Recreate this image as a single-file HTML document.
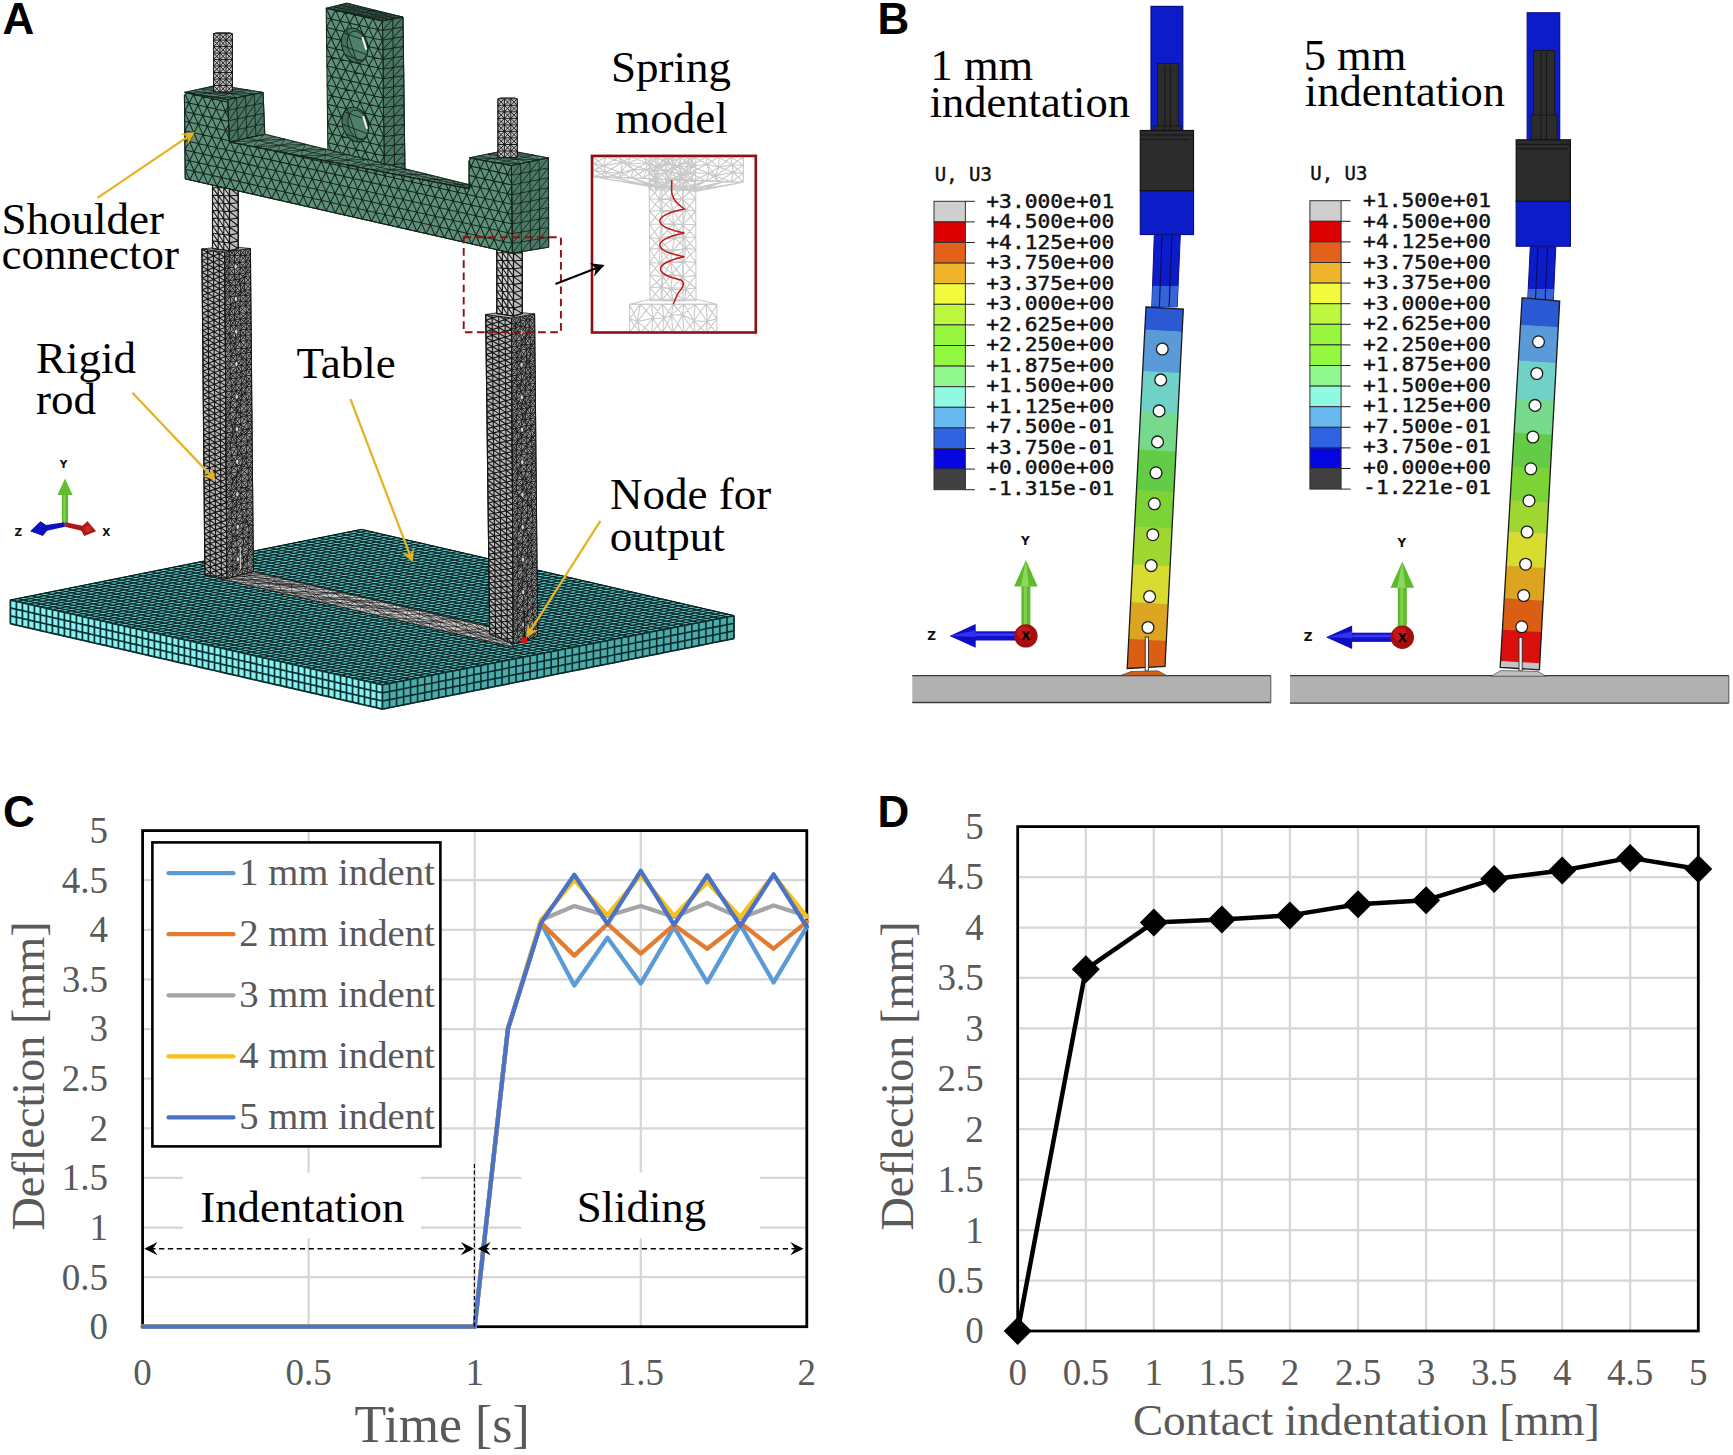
<!DOCTYPE html>
<html lang="en"><head><meta charset="utf-8"><title>Figure: FE model, deflection plots</title>
<style>
html,body{margin:0;padding:0;background:#fff}
body{width:1733px;height:1455px;overflow:hidden}
svg{display:block}
.serif{font-family:"Liberation Serif","Times New Roman",serif}
.sans{font-family:"Liberation Sans",Arial,sans-serif}
.bold{font-family:"Liberation Sans",Arial,sans-serif;font-weight:bold}
.mono{font-family:"DejaVu Sans Mono","Liberation Mono",monospace}
.dj{font-family:"DejaVu Sans","Liberation Sans",sans-serif}
</style></head><body>
<svg width="1733" height="1455" viewBox="0 0 1733 1455">
<rect width="1733" height="1455" fill="#fff"/>

<g id="panelA">
<polygon points="10.4,600 361.5,529.4 734,615.6 382.5,684.8" fill="#5cc4c4" stroke="#0b2a2a" stroke-width="1" />
<path d="M10.4 600L361.5 529.4M16.4 601.4L367.5 530.8M22.4 602.7L373.5 532.2M28.4 604.1L379.5 533.6M34.4 605.5L385.5 535M40.4 606.8L391.5 536.4M46.4 608.2L397.5 537.7M52.4 609.6L403.6 539.1M58.4 610.9L409.6 540.5M64.4 612.3L415.6 541.9M70.4 613.7L421.6 543.3M76.4 615L427.6 544.7M82.4 616.4L433.6 546.1M88.4 617.8L439.6 547.5M94.4 619.1L445.6 548.9M100.4 620.5L451.6 550.3M106.4 621.9L457.6 551.6M112.4 623.3L463.6 553M118.4 624.6L469.6 554.4M124.4 626L475.7 555.8M130.4 627.4L481.7 557.2M136.4 628.7L487.7 558.6M142.4 630.1L493.7 560M148.4 631.5L499.7 561.4M154.4 632.8L505.7 562.8M160.4 634.2L511.7 564.2M166.4 635.6L517.7 565.5M172.4 636.9L523.7 566.9M178.4 638.3L529.7 568.3M184.4 639.7L535.7 569.7M190.4 641L541.7 571.1M196.5 642.4L547.8 572.5M202.5 643.8L553.8 573.9M208.5 645.1L559.8 575.3M214.5 646.5L565.8 576.7M220.5 647.9L571.8 578.1M226.5 649.2L577.8 579.5M232.5 650.6L583.8 580.8M238.5 652L589.8 582.2M244.5 653.3L595.8 583.6M250.5 654.7L601.8 585M256.5 656.1L607.8 586.4M262.5 657.4L613.8 587.8M268.5 658.8L619.8 589.2M274.5 660.2L625.9 590.6M280.5 661.5L631.9 592M286.5 662.9L637.9 593.4M292.5 664.3L643.9 594.7M298.5 665.7L649.9 596.1M304.5 667L655.9 597.5M310.5 668.4L661.9 598.9M316.5 669.8L667.9 600.3M322.5 671.1L673.9 601.7M328.5 672.5L679.9 603.1M334.5 673.9L685.9 604.5M340.5 675.2L691.9 605.9M346.5 676.6L698 607.3M352.5 678L704 608.6M358.5 679.3L710 610M364.5 680.7L716 611.4M370.5 682.1L722 612.8M376.5 683.4L728 614.2M382.5 684.8L734 615.6M10.4 600L382.5 684.8M17.4 598.6L389.5 683.4M24.4 597.2L396.6 682M31.5 595.8L403.6 680.6M38.5 594.4L410.6 679.3M45.5 592.9L417.6 677.9M52.5 591.5L424.7 676.5M59.6 590.1L431.7 675.1M66.6 588.7L438.7 673.7M73.6 587.3L445.8 672.3M80.6 585.9L452.8 671M87.6 584.5L459.8 669.6M94.7 583.1L466.9 668.2M101.7 581.6L473.9 666.8M108.7 580.2L480.9 665.4M115.7 578.8L487.9 664M122.8 577.4L495 662.7M129.8 576L502 661.3M136.8 574.6L509 659.9M143.8 573.2L516.1 658.5M150.8 571.8L523.1 657.1M157.9 570.3L530.1 655.7M164.9 568.9L537.2 654.4M171.9 567.5L544.2 653M178.9 566.1L551.2 651.6M186 564.7L558.2 650.2M193 563.3L565.3 648.8M200 561.9L572.3 647.4M207 560.5L579.3 646M214 559.1L586.4 644.7M221.1 557.6L593.4 643.3M228.1 556.2L600.4 641.9M235.1 554.8L607.5 640.5M242.1 553.4L614.5 639.1M249.1 552L621.5 637.7M256.2 550.6L628.5 636.4M263.2 549.2L635.6 635M270.2 547.8L642.6 633.6M277.2 546.3L649.6 632.2M284.3 544.9L656.7 630.8M291.3 543.5L663.7 629.4M298.3 542.1L670.7 628.1M305.3 540.7L677.8 626.7M312.3 539.3L684.8 625.3M319.4 537.9L691.8 623.9M326.4 536.5L698.9 622.5M333.4 535L705.9 621.1M340.4 533.6L712.9 619.8M347.5 532.2L719.9 618.4M354.5 530.8L727 617M361.5 529.4L734 615.6" fill="none" stroke="#041a1a" stroke-width="1.0"/>
<polygon points="10.4,600 382.5,684.8 382.5,709.1 10.4,623.7" fill="#86f2f2" stroke="#0d2c2c" stroke-width="1" />
<path d="M10.4 600L10.4 607.9M10.4 607.9L10.4 615.8M10.4 615.8L10.4 623.7M16.4 601.4L16.4 609.3M16.4 609.3L16.4 617.2M16.4 617.2L16.4 625.1M22.4 602.7L22.4 610.6M22.4 610.6L22.4 618.5M22.4 618.5L22.4 626.5M28.4 604.1L28.4 612M28.4 612L28.4 619.9M28.4 619.9L28.4 627.8M34.4 605.5L34.4 613.4M34.4 613.4L34.4 621.3M34.4 621.3L34.4 629.2M40.4 606.8L40.4 614.8M40.4 614.8L40.4 622.7M40.4 622.7L40.4 630.6M46.4 608.2L46.4 616.1M46.4 616.1L46.4 624M46.4 624L46.4 632M52.4 609.6L52.4 617.5M52.4 617.5L52.4 625.4M52.4 625.4L52.4 633.3M58.4 610.9L58.4 618.9M58.4 618.9L58.4 626.8M58.4 626.8L58.4 634.7M64.4 612.3L64.4 620.2M64.4 620.2L64.4 628.2M64.4 628.2L64.4 636.1M70.4 613.7L70.4 621.6M70.4 621.6L70.4 629.5M70.4 629.5L70.4 637.5M76.4 615L76.4 623M76.4 623L76.4 630.9M76.4 630.9L76.4 638.9M82.4 616.4L82.4 624.4M82.4 624.4L82.4 632.3M82.4 632.3L82.4 640.2M88.4 617.8L88.4 625.7M88.4 625.7L88.4 633.7M88.4 633.7L88.4 641.6M94.4 619.1L94.4 627.1M94.4 627.1L94.4 635M94.4 635L94.4 643M100.4 620.5L100.4 628.5M100.4 628.5L100.4 636.4M100.4 636.4L100.4 644.4M106.4 621.9L106.4 629.8M106.4 629.8L106.4 637.8M106.4 637.8L106.4 645.7M112.4 623.3L112.4 631.2M112.4 631.2L112.4 639.2M112.4 639.2L112.4 647.1M118.4 624.6L118.4 632.6M118.4 632.6L118.4 640.5M118.4 640.5L118.4 648.5M124.4 626L124.4 633.9M124.4 633.9L124.4 641.9M124.4 641.9L124.4 649.9M130.4 627.4L130.4 635.3M130.4 635.3L130.4 643.3M130.4 643.3L130.4 651.2M136.4 628.7L136.4 636.7M136.4 636.7L136.4 644.7M136.4 644.7L136.4 652.6M142.4 630.1L142.4 638.1M142.4 638.1L142.4 646M142.4 646L142.4 654M148.4 631.5L148.4 639.4M148.4 639.4L148.4 647.4M148.4 647.4L148.4 655.4M154.4 632.8L154.4 640.8M154.4 640.8L154.4 648.8M154.4 648.8L154.4 656.8M160.4 634.2L160.4 642.2M160.4 642.2L160.4 650.2M160.4 650.2L160.4 658.1M166.4 635.6L166.4 643.5M166.4 643.5L166.4 651.5M166.4 651.5L166.4 659.5M172.4 636.9L172.4 644.9M172.4 644.9L172.4 652.9M172.4 652.9L172.4 660.9M178.4 638.3L178.4 646.3M178.4 646.3L178.4 654.3M178.4 654.3L178.4 662.3M184.4 639.7L184.4 647.7M184.4 647.7L184.4 655.7M184.4 655.7L184.4 663.6M190.4 641L190.4 649M190.4 649L190.4 657M190.4 657L190.4 665M196.5 642.4L196.5 650.4M196.5 650.4L196.5 658.4M196.5 658.4L196.5 666.4M202.5 643.8L202.5 651.8M202.5 651.8L202.5 659.8M202.5 659.8L202.5 667.8M208.5 645.1L208.5 653.1M208.5 653.1L208.5 661.1M208.5 661.1L208.5 669.2M214.5 646.5L214.5 654.5M214.5 654.5L214.5 662.5M214.5 662.5L214.5 670.5M220.5 647.9L220.5 655.9M220.5 655.9L220.5 663.9M220.5 663.9L220.5 671.9M226.5 649.2L226.5 657.3M226.5 657.3L226.5 665.3M226.5 665.3L226.5 673.3M232.5 650.6L232.5 658.6M232.5 658.6L232.5 666.6M232.5 666.6L232.5 674.7M238.5 652L238.5 660M238.5 660L238.5 668M238.5 668L238.5 676M244.5 653.3L244.5 661.4M244.5 661.4L244.5 669.4M244.5 669.4L244.5 677.4M250.5 654.7L250.5 662.7M250.5 662.7L250.5 670.8M250.5 670.8L250.5 678.8M256.5 656.1L256.5 664.1M256.5 664.1L256.5 672.1M256.5 672.1L256.5 680.2M262.5 657.4L262.5 665.5M262.5 665.5L262.5 673.5M262.5 673.5L262.5 681.6M268.5 658.8L268.5 666.9M268.5 666.9L268.5 674.9M268.5 674.9L268.5 682.9M274.5 660.2L274.5 668.2M274.5 668.2L274.5 676.3M274.5 676.3L274.5 684.3M280.5 661.5L280.5 669.6M280.5 669.6L280.5 677.6M280.5 677.6L280.5 685.7M286.5 662.9L286.5 671M286.5 671L286.5 679M286.5 679L286.5 687.1M292.5 664.3L292.5 672.3M292.5 672.3L292.5 680.4M292.5 680.4L292.5 688.4M298.5 665.7L298.5 673.7M298.5 673.7L298.5 681.8M298.5 681.8L298.5 689.8M304.5 667L304.5 675.1M304.5 675.1L304.5 683.1M304.5 683.1L304.5 691.2M310.5 668.4L310.5 676.4M310.5 676.4L310.5 684.5M310.5 684.5L310.5 692.6M316.5 669.8L316.5 677.8M316.5 677.8L316.5 685.9M316.5 685.9L316.5 693.9M322.5 671.1L322.5 679.2M322.5 679.2L322.5 687.3M322.5 687.3L322.5 695.3M328.5 672.5L328.5 680.6M328.5 680.6L328.5 688.6M328.5 688.6L328.5 696.7M334.5 673.9L334.5 681.9M334.5 681.9L334.5 690M334.5 690L334.5 698.1M340.5 675.2L340.5 683.3M340.5 683.3L340.5 691.4M340.5 691.4L340.5 699.5M346.5 676.6L346.5 684.7M346.5 684.7L346.5 692.8M346.5 692.8L346.5 700.8M352.5 678L352.5 686M352.5 686L352.5 694.1M352.5 694.1L352.5 702.2M358.5 679.3L358.5 687.4M358.5 687.4L358.5 695.5M358.5 695.5L358.5 703.6M364.5 680.7L364.5 688.8M364.5 688.8L364.5 696.9M364.5 696.9L364.5 705M370.5 682.1L370.5 690.2M370.5 690.2L370.5 698.3M370.5 698.3L370.5 706.3M376.5 683.4L376.5 691.5M376.5 691.5L376.5 699.6M376.5 699.6L376.5 707.7M382.5 684.8L382.5 692.9M382.5 692.9L382.5 701M382.5 701L382.5 709.1M10.4 600L16.4 601.4M16.4 601.4L22.4 602.7M22.4 602.7L28.4 604.1M28.4 604.1L34.4 605.5M34.4 605.5L40.4 606.8M40.4 606.8L46.4 608.2M46.4 608.2L52.4 609.6M52.4 609.6L58.4 610.9M58.4 610.9L64.4 612.3M64.4 612.3L70.4 613.7M70.4 613.7L76.4 615M76.4 615L82.4 616.4M82.4 616.4L88.4 617.8M88.4 617.8L94.4 619.1M94.4 619.1L100.4 620.5M100.4 620.5L106.4 621.9M106.4 621.9L112.4 623.3M112.4 623.3L118.4 624.6M118.4 624.6L124.4 626M124.4 626L130.4 627.4M130.4 627.4L136.4 628.7M136.4 628.7L142.4 630.1M142.4 630.1L148.4 631.5M148.4 631.5L154.4 632.8M154.4 632.8L160.4 634.2M160.4 634.2L166.4 635.6M166.4 635.6L172.4 636.9M172.4 636.9L178.4 638.3M178.4 638.3L184.4 639.7M184.4 639.7L190.4 641M190.4 641L196.5 642.4M196.5 642.4L202.5 643.8M202.5 643.8L208.5 645.1M208.5 645.1L214.5 646.5M214.5 646.5L220.5 647.9M220.5 647.9L226.5 649.2M226.5 649.2L232.5 650.6M232.5 650.6L238.5 652M238.5 652L244.5 653.3M244.5 653.3L250.5 654.7M250.5 654.7L256.5 656.1M256.5 656.1L262.5 657.4M262.5 657.4L268.5 658.8M268.5 658.8L274.5 660.2M274.5 660.2L280.5 661.5M280.5 661.5L286.5 662.9M286.5 662.9L292.5 664.3M292.5 664.3L298.5 665.7M298.5 665.7L304.5 667M304.5 667L310.5 668.4M310.5 668.4L316.5 669.8M316.5 669.8L322.5 671.1M322.5 671.1L328.5 672.5M328.5 672.5L334.5 673.9M334.5 673.9L340.5 675.2M340.5 675.2L346.5 676.6M346.5 676.6L352.5 678M352.5 678L358.5 679.3M358.5 679.3L364.5 680.7M364.5 680.7L370.5 682.1M370.5 682.1L376.5 683.4M376.5 683.4L382.5 684.8M10.4 607.9L16.4 609.3M16.4 609.3L22.4 610.6M22.4 610.6L28.4 612M28.4 612L34.4 613.4M34.4 613.4L40.4 614.8M40.4 614.8L46.4 616.1M46.4 616.1L52.4 617.5M52.4 617.5L58.4 618.9M58.4 618.9L64.4 620.2M64.4 620.2L70.4 621.6M70.4 621.6L76.4 623M76.4 623L82.4 624.4M82.4 624.4L88.4 625.7M88.4 625.7L94.4 627.1M94.4 627.1L100.4 628.5M100.4 628.5L106.4 629.8M106.4 629.8L112.4 631.2M112.4 631.2L118.4 632.6M118.4 632.6L124.4 633.9M124.4 633.9L130.4 635.3M130.4 635.3L136.4 636.7M136.4 636.7L142.4 638.1M142.4 638.1L148.4 639.4M148.4 639.4L154.4 640.8M154.4 640.8L160.4 642.2M160.4 642.2L166.4 643.5M166.4 643.5L172.4 644.9M172.4 644.9L178.4 646.3M178.4 646.3L184.4 647.7M184.4 647.7L190.4 649M190.4 649L196.5 650.4M196.5 650.4L202.5 651.8M202.5 651.8L208.5 653.1M208.5 653.1L214.5 654.5M214.5 654.5L220.5 655.9M220.5 655.9L226.5 657.3M226.5 657.3L232.5 658.6M232.5 658.6L238.5 660M238.5 660L244.5 661.4M244.5 661.4L250.5 662.7M250.5 662.7L256.5 664.1M256.5 664.1L262.5 665.5M262.5 665.5L268.5 666.9M268.5 666.9L274.5 668.2M274.5 668.2L280.5 669.6M280.5 669.6L286.5 671M286.5 671L292.5 672.3M292.5 672.3L298.5 673.7M298.5 673.7L304.5 675.1M304.5 675.1L310.5 676.4M310.5 676.4L316.5 677.8M316.5 677.8L322.5 679.2M322.5 679.2L328.5 680.6M328.5 680.6L334.5 681.9M334.5 681.9L340.5 683.3M340.5 683.3L346.5 684.7M346.5 684.7L352.5 686M352.5 686L358.5 687.4M358.5 687.4L364.5 688.8M364.5 688.8L370.5 690.2M370.5 690.2L376.5 691.5M376.5 691.5L382.5 692.9M10.4 615.8L16.4 617.2M16.4 617.2L22.4 618.5M22.4 618.5L28.4 619.9M28.4 619.9L34.4 621.3M34.4 621.3L40.4 622.7M40.4 622.7L46.4 624M46.4 624L52.4 625.4M52.4 625.4L58.4 626.8M58.4 626.8L64.4 628.2M64.4 628.2L70.4 629.5M70.4 629.5L76.4 630.9M76.4 630.9L82.4 632.3M82.4 632.3L88.4 633.7M88.4 633.7L94.4 635M94.4 635L100.4 636.4M100.4 636.4L106.4 637.8M106.4 637.8L112.4 639.2M112.4 639.2L118.4 640.5M118.4 640.5L124.4 641.9M124.4 641.9L130.4 643.3M130.4 643.3L136.4 644.7M136.4 644.7L142.4 646M142.4 646L148.4 647.4M148.4 647.4L154.4 648.8M154.4 648.8L160.4 650.2M160.4 650.2L166.4 651.5M166.4 651.5L172.4 652.9M172.4 652.9L178.4 654.3M178.4 654.3L184.4 655.7M184.4 655.7L190.4 657M190.4 657L196.5 658.4M196.5 658.4L202.5 659.8M202.5 659.8L208.5 661.1M208.5 661.1L214.5 662.5M214.5 662.5L220.5 663.9M220.5 663.9L226.5 665.3M226.5 665.3L232.5 666.6M232.5 666.6L238.5 668M238.5 668L244.5 669.4M244.5 669.4L250.5 670.8M250.5 670.8L256.5 672.1M256.5 672.1L262.5 673.5M262.5 673.5L268.5 674.9M268.5 674.9L274.5 676.3M274.5 676.3L280.5 677.6M280.5 677.6L286.5 679M286.5 679L292.5 680.4M292.5 680.4L298.5 681.8M298.5 681.8L304.5 683.1M304.5 683.1L310.5 684.5M310.5 684.5L316.5 685.9M316.5 685.9L322.5 687.3M322.5 687.3L328.5 688.6M328.5 688.6L334.5 690M334.5 690L340.5 691.4M340.5 691.4L346.5 692.8M346.5 692.8L352.5 694.1M352.5 694.1L358.5 695.5M358.5 695.5L364.5 696.9M364.5 696.9L370.5 698.3M370.5 698.3L376.5 699.6M376.5 699.6L382.5 701M10.4 623.7L16.4 625.1M16.4 625.1L22.4 626.5M22.4 626.5L28.4 627.8M28.4 627.8L34.4 629.2M34.4 629.2L40.4 630.6M40.4 630.6L46.4 632M46.4 632L52.4 633.3M52.4 633.3L58.4 634.7M58.4 634.7L64.4 636.1M64.4 636.1L70.4 637.5M70.4 637.5L76.4 638.9M76.4 638.9L82.4 640.2M82.4 640.2L88.4 641.6M88.4 641.6L94.4 643M94.4 643L100.4 644.4M100.4 644.4L106.4 645.7M106.4 645.7L112.4 647.1M112.4 647.1L118.4 648.5M118.4 648.5L124.4 649.9M124.4 649.9L130.4 651.2M130.4 651.2L136.4 652.6M136.4 652.6L142.4 654M142.4 654L148.4 655.4M148.4 655.4L154.4 656.8M154.4 656.8L160.4 658.1M160.4 658.1L166.4 659.5M166.4 659.5L172.4 660.9M172.4 660.9L178.4 662.3M178.4 662.3L184.4 663.6M184.4 663.6L190.4 665M190.4 665L196.5 666.4M196.5 666.4L202.5 667.8M202.5 667.8L208.5 669.2M208.5 669.2L214.5 670.5M214.5 670.5L220.5 671.9M220.5 671.9L226.5 673.3M226.5 673.3L232.5 674.7M232.5 674.7L238.5 676M238.5 676L244.5 677.4M244.5 677.4L250.5 678.8M250.5 678.8L256.5 680.2M256.5 680.2L262.5 681.6M262.5 681.6L268.5 682.9M268.5 682.9L274.5 684.3M274.5 684.3L280.5 685.7M280.5 685.7L286.5 687.1M286.5 687.1L292.5 688.4M292.5 688.4L298.5 689.8M298.5 689.8L304.5 691.2M304.5 691.2L310.5 692.6M310.5 692.6L316.5 693.9M316.5 693.9L322.5 695.3M322.5 695.3L328.5 696.7M328.5 696.7L334.5 698.1M334.5 698.1L340.5 699.5M340.5 699.5L346.5 700.8M346.5 700.8L352.5 702.2M352.5 702.2L358.5 703.6M358.5 703.6L364.5 705M364.5 705L370.5 706.3M370.5 706.3L376.5 707.7M376.5 707.7L382.5 709.1" fill="none" stroke="#0e3030" stroke-width="1.75"/>
<polygon points="382.5,684.8 734,615.6 734,638.6 382.5,709.1" fill="#4babab" stroke="#0d2c2c" stroke-width="1" />
<path d="M382.5 684.8L382.5 692.9M382.5 692.9L382.5 701M382.5 701L382.5 709.1M389.5 683.4L389.5 691.5M389.5 691.5L389.5 699.6M389.5 699.6L389.5 707.7M396.6 682L396.6 690.1M396.6 690.1L396.6 698.2M396.6 698.2L396.6 706.3M403.6 680.6L403.6 688.7M403.6 688.7L403.6 696.8M403.6 696.8L403.6 704.9M410.6 679.3L410.6 687.3M410.6 687.3L410.6 695.4M410.6 695.4L410.6 703.5M417.6 677.9L417.6 685.9M417.6 685.9L417.6 694M417.6 694L417.6 702M424.7 676.5L424.7 684.5M424.7 684.5L424.7 692.6M424.7 692.6L424.7 700.6M431.7 675.1L431.7 683.2M431.7 683.2L431.7 691.2M431.7 691.2L431.7 699.2M438.7 673.7L438.7 681.8M438.7 681.8L438.7 689.8M438.7 689.8L438.7 697.8M445.8 672.3L445.8 680.4M445.8 680.4L445.8 688.4M445.8 688.4L445.8 696.4M452.8 671L452.8 679M452.8 679L452.8 687M452.8 687L452.8 695M459.8 669.6L459.8 677.6M459.8 677.6L459.8 685.6M459.8 685.6L459.8 693.6M466.9 668.2L466.9 676.2M466.9 676.2L466.9 684.2M466.9 684.2L466.9 692.2M473.9 666.8L473.9 674.8M473.9 674.8L473.9 682.8M473.9 682.8L473.9 690.8M480.9 665.4L480.9 673.4M480.9 673.4L480.9 681.4M480.9 681.4L480.9 689.4M487.9 664L487.9 672M487.9 672L487.9 680M487.9 680L487.9 687.9M495 662.7L495 670.6M495 670.6L495 678.6M495 678.6L495 686.5M502 661.3L502 669.2M502 669.2L502 677.2M502 677.2L502 685.1M509 659.9L509 667.8M509 667.8L509 675.8M509 675.8L509 683.7M516.1 658.5L516.1 666.4M516.1 666.4L516.1 674.4M516.1 674.4L516.1 682.3M523.1 657.1L523.1 665M523.1 665L523.1 673M523.1 673L523.1 680.9M530.1 655.7L530.1 663.7M530.1 663.7L530.1 671.6M530.1 671.6L530.1 679.5M537.2 654.4L537.2 662.3M537.2 662.3L537.2 670.2M537.2 670.2L537.2 678.1M544.2 653L544.2 660.9M544.2 660.9L544.2 668.8M544.2 668.8L544.2 676.7M551.2 651.6L551.2 659.5M551.2 659.5L551.2 667.4M551.2 667.4L551.2 675.3M558.2 650.2L558.2 658.1M558.2 658.1L558.2 666M558.2 666L558.2 673.8M565.3 648.8L565.3 656.7M565.3 656.7L565.3 664.6M565.3 664.6L565.3 672.4M572.3 647.4L572.3 655.3M572.3 655.3L572.3 663.2M572.3 663.2L572.3 671M579.3 646L579.3 653.9M579.3 653.9L579.3 661.8M579.3 661.8L579.3 669.6M586.4 644.7L586.4 652.5M586.4 652.5L586.4 660.4M586.4 660.4L586.4 668.2M593.4 643.3L593.4 651.1M593.4 651.1L593.4 659M593.4 659L593.4 666.8M600.4 641.9L600.4 649.7M600.4 649.7L600.4 657.6M600.4 657.6L600.4 665.4M607.5 640.5L607.5 648.3M607.5 648.3L607.5 656.2M607.5 656.2L607.5 664M614.5 639.1L614.5 646.9M614.5 646.9L614.5 654.8M614.5 654.8L614.5 662.6M621.5 637.7L621.5 645.5M621.5 645.5L621.5 653.4M621.5 653.4L621.5 661.2M628.5 636.4L628.5 644.2M628.5 644.2L628.5 652M628.5 652L628.5 659.8M635.6 635L635.6 642.8M635.6 642.8L635.6 650.6M635.6 650.6L635.6 658.3M642.6 633.6L642.6 641.4M642.6 641.4L642.6 649.2M642.6 649.2L642.6 656.9M649.6 632.2L649.6 640M649.6 640L649.6 647.7M649.6 647.7L649.6 655.5M656.7 630.8L656.7 638.6M656.7 638.6L656.7 646.3M656.7 646.3L656.7 654.1M663.7 629.4L663.7 637.2M663.7 637.2L663.7 644.9M663.7 644.9L663.7 652.7M670.7 628.1L670.7 635.8M670.7 635.8L670.7 643.5M670.7 643.5L670.7 651.3M677.8 626.7L677.8 634.4M677.8 634.4L677.8 642.1M677.8 642.1L677.8 649.9M684.8 625.3L684.8 633M684.8 633L684.8 640.7M684.8 640.7L684.8 648.5M691.8 623.9L691.8 631.6M691.8 631.6L691.8 639.3M691.8 639.3L691.8 647.1M698.9 622.5L698.9 630.2M698.9 630.2L698.9 637.9M698.9 637.9L698.9 645.6M705.9 621.1L705.9 628.8M705.9 628.8L705.9 636.5M705.9 636.5L705.9 644.2M712.9 619.8L712.9 627.4M712.9 627.4L712.9 635.1M712.9 635.1L712.9 642.8M719.9 618.4L719.9 626.1M719.9 626.1L719.9 633.7M719.9 633.7L719.9 641.4M727 617L727 624.7M727 624.7L727 632.3M727 632.3L727 640M734 615.6L734 623.3M734 623.3L734 630.9M734 630.9L734 638.6M382.5 684.8L389.5 683.4M389.5 683.4L396.6 682M396.6 682L403.6 680.6M403.6 680.6L410.6 679.3M410.6 679.3L417.6 677.9M417.6 677.9L424.7 676.5M424.7 676.5L431.7 675.1M431.7 675.1L438.7 673.7M438.7 673.7L445.8 672.3M445.8 672.3L452.8 671M452.8 671L459.8 669.6M459.8 669.6L466.9 668.2M466.9 668.2L473.9 666.8M473.9 666.8L480.9 665.4M480.9 665.4L487.9 664M487.9 664L495 662.7M495 662.7L502 661.3M502 661.3L509 659.9M509 659.9L516.1 658.5M516.1 658.5L523.1 657.1M523.1 657.1L530.1 655.7M530.1 655.7L537.2 654.4M537.2 654.4L544.2 653M544.2 653L551.2 651.6M551.2 651.6L558.2 650.2M558.2 650.2L565.3 648.8M565.3 648.8L572.3 647.4M572.3 647.4L579.3 646M579.3 646L586.4 644.7M586.4 644.7L593.4 643.3M593.4 643.3L600.4 641.9M600.4 641.9L607.5 640.5M607.5 640.5L614.5 639.1M614.5 639.1L621.5 637.7M621.5 637.7L628.5 636.4M628.5 636.4L635.6 635M635.6 635L642.6 633.6M642.6 633.6L649.6 632.2M649.6 632.2L656.7 630.8M656.7 630.8L663.7 629.4M663.7 629.4L670.7 628.1M670.7 628.1L677.8 626.7M677.8 626.7L684.8 625.3M684.8 625.3L691.8 623.9M691.8 623.9L698.9 622.5M698.9 622.5L705.9 621.1M705.9 621.1L712.9 619.8M712.9 619.8L719.9 618.4M719.9 618.4L727 617M727 617L734 615.6M382.5 692.9L389.5 691.5M389.5 691.5L396.6 690.1M396.6 690.1L403.6 688.7M403.6 688.7L410.6 687.3M410.6 687.3L417.6 685.9M417.6 685.9L424.7 684.5M424.7 684.5L431.7 683.2M431.7 683.2L438.7 681.8M438.7 681.8L445.8 680.4M445.8 680.4L452.8 679M452.8 679L459.8 677.6M459.8 677.6L466.9 676.2M466.9 676.2L473.9 674.8M473.9 674.8L480.9 673.4M480.9 673.4L487.9 672M487.9 672L495 670.6M495 670.6L502 669.2M502 669.2L509 667.8M509 667.8L516.1 666.4M516.1 666.4L523.1 665M523.1 665L530.1 663.7M530.1 663.7L537.2 662.3M537.2 662.3L544.2 660.9M544.2 660.9L551.2 659.5M551.2 659.5L558.2 658.1M558.2 658.1L565.3 656.7M565.3 656.7L572.3 655.3M572.3 655.3L579.3 653.9M579.3 653.9L586.4 652.5M586.4 652.5L593.4 651.1M593.4 651.1L600.4 649.7M600.4 649.7L607.5 648.3M607.5 648.3L614.5 646.9M614.5 646.9L621.5 645.5M621.5 645.5L628.5 644.2M628.5 644.2L635.6 642.8M635.6 642.8L642.6 641.4M642.6 641.4L649.6 640M649.6 640L656.7 638.6M656.7 638.6L663.7 637.2M663.7 637.2L670.7 635.8M670.7 635.8L677.8 634.4M677.8 634.4L684.8 633M684.8 633L691.8 631.6M691.8 631.6L698.9 630.2M698.9 630.2L705.9 628.8M705.9 628.8L712.9 627.4M712.9 627.4L719.9 626.1M719.9 626.1L727 624.7M727 624.7L734 623.3M382.5 701L389.5 699.6M389.5 699.6L396.6 698.2M396.6 698.2L403.6 696.8M403.6 696.8L410.6 695.4M410.6 695.4L417.6 694M417.6 694L424.7 692.6M424.7 692.6L431.7 691.2M431.7 691.2L438.7 689.8M438.7 689.8L445.8 688.4M445.8 688.4L452.8 687M452.8 687L459.8 685.6M459.8 685.6L466.9 684.2M466.9 684.2L473.9 682.8M473.9 682.8L480.9 681.4M480.9 681.4L487.9 680M487.9 680L495 678.6M495 678.6L502 677.2M502 677.2L509 675.8M509 675.8L516.1 674.4M516.1 674.4L523.1 673M523.1 673L530.1 671.6M530.1 671.6L537.2 670.2M537.2 670.2L544.2 668.8M544.2 668.8L551.2 667.4M551.2 667.4L558.2 666M558.2 666L565.3 664.6M565.3 664.6L572.3 663.2M572.3 663.2L579.3 661.8M579.3 661.8L586.4 660.4M586.4 660.4L593.4 659M593.4 659L600.4 657.6M600.4 657.6L607.5 656.2M607.5 656.2L614.5 654.8M614.5 654.8L621.5 653.4M621.5 653.4L628.5 652M628.5 652L635.6 650.6M635.6 650.6L642.6 649.2M642.6 649.2L649.6 647.7M649.6 647.7L656.7 646.3M656.7 646.3L663.7 644.9M663.7 644.9L670.7 643.5M670.7 643.5L677.8 642.1M677.8 642.1L684.8 640.7M684.8 640.7L691.8 639.3M691.8 639.3L698.9 637.9M698.9 637.9L705.9 636.5M705.9 636.5L712.9 635.1M712.9 635.1L719.9 633.7M719.9 633.7L727 632.3M727 632.3L734 630.9M382.5 709.1L389.5 707.7M389.5 707.7L396.6 706.3M396.6 706.3L403.6 704.9M403.6 704.9L410.6 703.5M410.6 703.5L417.6 702M417.6 702L424.7 700.6M424.7 700.6L431.7 699.2M431.7 699.2L438.7 697.8M438.7 697.8L445.8 696.4M445.8 696.4L452.8 695M452.8 695L459.8 693.6M459.8 693.6L466.9 692.2M466.9 692.2L473.9 690.8M473.9 690.8L480.9 689.4M480.9 689.4L487.9 687.9M487.9 687.9L495 686.5M495 686.5L502 685.1M502 685.1L509 683.7M509 683.7L516.1 682.3M516.1 682.3L523.1 680.9M523.1 680.9L530.1 679.5M530.1 679.5L537.2 678.1M537.2 678.1L544.2 676.7M544.2 676.7L551.2 675.3M551.2 675.3L558.2 673.8M558.2 673.8L565.3 672.4M565.3 672.4L572.3 671M572.3 671L579.3 669.6M579.3 669.6L586.4 668.2M586.4 668.2L593.4 666.8M593.4 666.8L600.4 665.4M600.4 665.4L607.5 664M607.5 664L614.5 662.6M614.5 662.6L621.5 661.2M621.5 661.2L628.5 659.8M628.5 659.8L635.6 658.3M635.6 658.3L642.6 656.9M642.6 656.9L649.6 655.5M649.6 655.5L656.7 654.1M656.7 654.1L663.7 652.7M663.7 652.7L670.7 651.3M670.7 651.3L677.8 649.9M677.8 649.9L684.8 648.5M684.8 648.5L691.8 647.1M691.8 647.1L698.9 645.6M698.9 645.6L705.9 644.2M705.9 644.2L712.9 642.8M712.9 642.8L719.9 641.4M719.9 641.4L727 640M727 640L734 638.6" fill="none" stroke="#0d2b2b" stroke-width="1.6"/>
<polygon points="205.4,575.4 253.4,571.7 497,628.5 514,647.4" fill="#cfcfcf" stroke="#2a2a2a" stroke-width="0.8" />
<path d="M205.4 575.4L219.4 578.7M219.4 578.7L233.5 581.9M233.5 581.9L247.5 585.2M247.5 585.2L261.5 588.5M261.5 588.5L275.5 591.8M275.5 591.8L289.6 595M289.6 595L303.6 598.3M303.6 598.3L317.6 601.6M317.6 601.6L331.6 604.8M331.6 604.8L345.7 608.1M345.7 608.1L359.7 611.4M359.7 611.4L373.7 614.7M373.7 614.7L387.8 617.9M387.8 617.9L401.8 621.2M401.8 621.2L415.8 624.5M415.8 624.5L429.8 627.7M429.8 627.7L443.9 631M443.9 631L457.9 634.3M457.9 634.3L471.9 637.6M471.9 637.6L485.9 640.8M485.9 640.8L500 644.1M500 644.1L514 647.4M217.4 574.5L226.7 577M226.7 577L241.5 579.8M241.5 579.8L256.4 583.5M256.4 583.5L268.2 587.3M268.2 587.3L281 590.3M281 590.3L291.9 592.8M291.9 592.8L312.7 596.9M312.7 596.9L320.1 599.3M320.1 599.3L341 603M341 603L349.7 605.2M349.7 605.2L361.1 606.9M361.1 606.9L375.9 610.6M375.9 610.6L386.6 614.7M386.6 614.7L405.8 618.8M405.8 618.8L417.2 621.8M417.2 621.8L429 623.5M429 623.5L439.8 626.2M439.8 626.2L454.6 630.8M454.6 630.8L469.1 632.8M469.1 632.8L484.2 637.1M484.2 637.1L495 639.3M495 639.3L509.8 642.7M229.4 573.5L245.4 576.6M245.4 576.6L253.4 579.7M253.4 579.7L270 583M270 583L279.3 584.7M279.3 584.7L291.7 587M291.7 587L306.3 591.7M306.3 591.7L315.7 594.5M315.7 594.5L329.4 597.9M329.4 597.9L343.7 599.6M343.7 599.6L354.6 601.9M354.6 601.9L368.6 605.6M368.6 605.6L379.8 608.4M379.8 608.4L396.3 611.7M396.3 611.7L406.3 614.9M406.3 614.9L418.9 618.7M418.9 618.7L433.9 620.9M433.9 620.9L441 622.2M441 622.2L456.7 626.8M456.7 626.8L468.1 630.3M468.1 630.3L478 632.3M478 632.3L495.9 636.7M495.9 636.7L505.5 637.9M241.4 572.6L248.9 575.2M248.9 575.2L267 578.8M267 578.8L274 581.2M274 581.2L291.6 584.2M291.6 584.2L304.6 586.6M304.6 586.6L310.7 589.3M310.7 589.3L326.2 592.7M326.2 592.7L335.1 593.5M335.1 593.5L344.7 597.4M344.7 597.4L358.7 600.6M358.7 600.6L369.9 602.4M369.9 602.4L381.6 606.4M381.6 606.4L395.2 608.8M395.2 608.8L408.5 610.6M408.5 610.6L419.4 614.1M419.4 614.1L427.3 615.6M427.3 615.6L444 619M444 619L455.8 621.8M455.8 621.8L465.2 625.1M465.2 625.1L479.3 629M479.3 629L487.2 630.9M487.2 630.9L501.2 633.2M253.4 571.7L264.5 574.3M264.5 574.3L275.5 576.9M275.5 576.9L286.6 579.4M286.6 579.4L297.7 582M297.7 582L308.8 584.6M308.8 584.6L319.8 587.2M319.8 587.2L330.9 589.8M330.9 589.8L342 592.4M342 592.4L353.1 594.9M353.1 594.9L364.1 597.5M364.1 597.5L375.2 600.1M375.2 600.1L386.3 602.7M386.3 602.7L397.3 605.3M397.3 605.3L408.4 607.9M408.4 607.9L419.5 610.4M419.5 610.4L430.6 613M430.6 613L441.6 615.6M441.6 615.6L452.7 618.2M452.7 618.2L463.8 620.8M463.8 620.8L474.9 623.3M474.9 623.3L485.9 625.9M485.9 625.9L497 628.5M205.4 575.4L217.4 574.5M217.4 574.5L229.4 573.5M229.4 573.5L241.4 572.6M241.4 572.6L253.4 571.7M219.4 578.7L226.7 577M226.7 577L245.4 576.6M245.4 576.6L248.9 575.2M248.9 575.2L264.5 574.3M233.5 581.9L241.5 579.8M241.5 579.8L253.4 579.7M253.4 579.7L267 578.8M267 578.8L275.5 576.9M247.5 585.2L256.4 583.5M256.4 583.5L270 583M270 583L274 581.2M274 581.2L286.6 579.4M261.5 588.5L268.2 587.3M268.2 587.3L279.3 584.7M279.3 584.7L291.6 584.2M291.6 584.2L297.7 582M275.5 591.8L281 590.3M281 590.3L291.7 587M291.7 587L304.6 586.6M304.6 586.6L308.8 584.6M289.6 595L291.9 592.8M291.9 592.8L306.3 591.7M306.3 591.7L310.7 589.3M310.7 589.3L319.8 587.2M303.6 598.3L312.7 596.9M312.7 596.9L315.7 594.5M315.7 594.5L326.2 592.7M326.2 592.7L330.9 589.8M317.6 601.6L320.1 599.3M320.1 599.3L329.4 597.9M329.4 597.9L335.1 593.5M335.1 593.5L342 592.4M331.6 604.8L341 603M341 603L343.7 599.6M343.7 599.6L344.7 597.4M344.7 597.4L353.1 594.9M345.7 608.1L349.7 605.2M349.7 605.2L354.6 601.9M354.6 601.9L358.7 600.6M358.7 600.6L364.1 597.5M359.7 611.4L361.1 606.9M361.1 606.9L368.6 605.6M368.6 605.6L369.9 602.4M369.9 602.4L375.2 600.1M373.7 614.7L375.9 610.6M375.9 610.6L379.8 608.4M379.8 608.4L381.6 606.4M381.6 606.4L386.3 602.7M387.8 617.9L386.6 614.7M386.6 614.7L396.3 611.7M396.3 611.7L395.2 608.8M395.2 608.8L397.3 605.3M401.8 621.2L405.8 618.8M405.8 618.8L406.3 614.9M406.3 614.9L408.5 610.6M408.5 610.6L408.4 607.9M415.8 624.5L417.2 621.8M417.2 621.8L418.9 618.7M418.9 618.7L419.4 614.1M419.4 614.1L419.5 610.4M429.8 627.7L429 623.5M429 623.5L433.9 620.9M433.9 620.9L427.3 615.6M427.3 615.6L430.6 613M443.9 631L439.8 626.2M439.8 626.2L441 622.2M441 622.2L444 619M444 619L441.6 615.6M457.9 634.3L454.6 630.8M454.6 630.8L456.7 626.8M456.7 626.8L455.8 621.8M455.8 621.8L452.7 618.2M471.9 637.6L469.1 632.8M469.1 632.8L468.1 630.3M468.1 630.3L465.2 625.1M465.2 625.1L463.8 620.8M485.9 640.8L484.2 637.1M484.2 637.1L478 632.3M478 632.3L479.3 629M479.3 629L474.9 623.3M500 644.1L495 639.3M495 639.3L495.9 636.7M495.9 636.7L487.2 630.9M487.2 630.9L485.9 625.9M514 647.4L509.8 642.7M509.8 642.7L505.5 637.9M505.5 637.9L501.2 633.2M501.2 633.2L497 628.5M205.4 575.4L226.7 577M217.4 574.5L219.4 578.7M219.4 578.7L241.5 579.8M226.7 577L233.5 581.9M233.5 581.9L256.4 583.5M241.5 579.8L247.5 585.2M247.5 585.2L268.2 587.3M256.4 583.5L261.5 588.5M261.5 588.5L281 590.3M268.2 587.3L275.5 591.8M275.5 591.8L291.9 592.8M281 590.3L289.6 595M289.6 595L312.7 596.9M291.9 592.8L303.6 598.3M303.6 598.3L320.1 599.3M312.7 596.9L317.6 601.6M317.6 601.6L341 603M320.1 599.3L331.6 604.8M331.6 604.8L349.7 605.2M341 603L345.7 608.1M345.7 608.1L361.1 606.9M349.7 605.2L359.7 611.4M359.7 611.4L375.9 610.6M361.1 606.9L373.7 614.7M373.7 614.7L386.6 614.7M375.9 610.6L387.8 617.9M387.8 617.9L405.8 618.8M386.6 614.7L401.8 621.2M401.8 621.2L417.2 621.8M405.8 618.8L415.8 624.5M415.8 624.5L429 623.5M417.2 621.8L429.8 627.7M429.8 627.7L439.8 626.2M429 623.5L443.9 631M443.9 631L454.6 630.8M439.8 626.2L457.9 634.3M457.9 634.3L469.1 632.8M454.6 630.8L471.9 637.6M471.9 637.6L484.2 637.1M469.1 632.8L485.9 640.8M485.9 640.8L495 639.3M484.2 637.1L500 644.1M500 644.1L509.8 642.7M495 639.3L514 647.4M217.4 574.5L245.4 576.6M229.4 573.5L226.7 577M226.7 577L253.4 579.7M245.4 576.6L241.5 579.8M241.5 579.8L270 583M253.4 579.7L256.4 583.5M256.4 583.5L279.3 584.7M270 583L268.2 587.3M268.2 587.3L291.7 587M279.3 584.7L281 590.3M281 590.3L306.3 591.7M291.7 587L291.9 592.8M291.9 592.8L315.7 594.5M306.3 591.7L312.7 596.9M312.7 596.9L329.4 597.9M315.7 594.5L320.1 599.3M320.1 599.3L343.7 599.6M329.4 597.9L341 603M341 603L354.6 601.9M343.7 599.6L349.7 605.2M349.7 605.2L368.6 605.6M354.6 601.9L361.1 606.9M361.1 606.9L379.8 608.4M368.6 605.6L375.9 610.6M375.9 610.6L396.3 611.7M379.8 608.4L386.6 614.7M386.6 614.7L406.3 614.9M396.3 611.7L405.8 618.8M405.8 618.8L418.9 618.7M406.3 614.9L417.2 621.8M417.2 621.8L433.9 620.9M418.9 618.7L429 623.5M429 623.5L441 622.2M433.9 620.9L439.8 626.2M439.8 626.2L456.7 626.8M441 622.2L454.6 630.8M454.6 630.8L468.1 630.3M456.7 626.8L469.1 632.8M469.1 632.8L478 632.3M468.1 630.3L484.2 637.1M484.2 637.1L495.9 636.7M478 632.3L495 639.3M495 639.3L505.5 637.9M495.9 636.7L509.8 642.7M229.4 573.5L248.9 575.2M241.4 572.6L245.4 576.6M245.4 576.6L267 578.8M248.9 575.2L253.4 579.7M253.4 579.7L274 581.2M267 578.8L270 583M270 583L291.6 584.2M274 581.2L279.3 584.7M279.3 584.7L304.6 586.6M291.6 584.2L291.7 587M291.7 587L310.7 589.3M304.6 586.6L306.3 591.7M306.3 591.7L326.2 592.7M310.7 589.3L315.7 594.5M315.7 594.5L335.1 593.5M326.2 592.7L329.4 597.9M329.4 597.9L344.7 597.4M335.1 593.5L343.7 599.6M343.7 599.6L358.7 600.6M344.7 597.4L354.6 601.9M354.6 601.9L369.9 602.4M358.7 600.6L368.6 605.6M368.6 605.6L381.6 606.4M369.9 602.4L379.8 608.4M379.8 608.4L395.2 608.8M381.6 606.4L396.3 611.7M396.3 611.7L408.5 610.6M395.2 608.8L406.3 614.9M406.3 614.9L419.4 614.1M408.5 610.6L418.9 618.7M418.9 618.7L427.3 615.6M419.4 614.1L433.9 620.9M433.9 620.9L444 619M427.3 615.6L441 622.2M441 622.2L455.8 621.8M444 619L456.7 626.8M456.7 626.8L465.2 625.1M455.8 621.8L468.1 630.3M468.1 630.3L479.3 629M465.2 625.1L478 632.3M478 632.3L487.2 630.9M479.3 629L495.9 636.7M495.9 636.7L501.2 633.2M487.2 630.9L505.5 637.9M241.4 572.6L264.5 574.3M253.4 571.7L248.9 575.2M248.9 575.2L275.5 576.9M264.5 574.3L267 578.8M267 578.8L286.6 579.4M275.5 576.9L274 581.2M274 581.2L297.7 582M286.6 579.4L291.6 584.2M291.6 584.2L308.8 584.6M297.7 582L304.6 586.6M304.6 586.6L319.8 587.2M308.8 584.6L310.7 589.3M310.7 589.3L330.9 589.8M319.8 587.2L326.2 592.7M326.2 592.7L342 592.4M330.9 589.8L335.1 593.5M335.1 593.5L353.1 594.9M342 592.4L344.7 597.4M344.7 597.4L364.1 597.5M353.1 594.9L358.7 600.6M358.7 600.6L375.2 600.1M364.1 597.5L369.9 602.4M369.9 602.4L386.3 602.7M375.2 600.1L381.6 606.4M381.6 606.4L397.3 605.3M386.3 602.7L395.2 608.8M395.2 608.8L408.4 607.9M397.3 605.3L408.5 610.6M408.5 610.6L419.5 610.4M408.4 607.9L419.4 614.1M419.4 614.1L430.6 613M419.5 610.4L427.3 615.6M427.3 615.6L441.6 615.6M430.6 613L444 619M444 619L452.7 618.2M441.6 615.6L455.8 621.8M455.8 621.8L463.8 620.8M452.7 618.2L465.2 625.1M465.2 625.1L474.9 623.3M463.8 620.8L479.3 629M479.3 629L485.9 625.9M474.9 623.3L487.2 630.9M487.2 630.9L497 628.5M485.9 625.9L501.2 633.2" fill="none" stroke="#151515" stroke-width="0.65"/>
<polygon points="201.9,249 224.8,251.5 226.9,578.5 204.9,574.5" fill="#b9b9b9" stroke="#151515" stroke-width="1.12" />
<path d="M201.9 249L204.9 574.5M207.6 249.6L210.4 575.5M213.4 250.2L215.9 576.5M219.1 250.9L221.4 577.5M224.8 251.5L226.9 578.5M201.9 249L207.6 252.5L202 254.8L207.7 258.4L202 260.6L207.7 264.2L202.1 266.4L207.8 270L202.1 272.2L207.8 275.8L202.2 278.1L207.9 281.6L202.2 283.9L207.9 287.4L202.3 289.7L208 293.3L202.3 295.5L208 299.1L202.4 301.3L208.1 304.9L202.4 307.1L208.1 310.7L202.5 312.9L208.2 316.5L202.5 318.8L208.2 322.4L202.6 324.6L208.3 328.2L202.7 330.4L208.3 334L202.7 336.2L208.4 339.8L202.8 342L208.4 345.6L202.8 347.8L208.5 351.5L202.9 353.6L208.5 357.3L202.9 359.4L208.6 363.1L203 365.2L208.6 368.9L203 371.1L208.7 374.7L203.1 376.9L208.7 380.6L203.1 382.7L208.8 386.4L203.2 388.5L208.8 392.2L203.2 394.3L208.9 398L203.3 400.1L208.9 403.8L203.3 405.9L209 409.7L203.4 411.8L209 415.5L203.5 417.6L209.1 421.3L203.5 423.4L209.1 427.1L203.6 429.2L209.2 432.9L203.6 435L209.2 438.7L203.7 440.8L209.3 444.6L203.7 446.6L209.3 450.4L203.8 452.4L209.4 456.2L203.8 458.2L209.4 462L203.9 464.1L209.5 467.8L203.9 469.9L209.5 473.7L204 475.7L209.6 479.5L204 481.5L209.6 485.3L204.1 487.3L209.7 491.1L204.2 493.1L209.7 496.9L204.2 498.9L209.8 502.8L204.3 504.8L209.8 508.6L204.3 510.6L209.9 514.4L204.4 516.4L209.9 520.2L204.4 522.2L210 526L204.5 528L210 531.9L204.5 533.8L210.1 537.7L204.6 539.6L210.1 543.5L204.6 545.4L210.2 549.3L204.7 551.2L210.2 555.1L204.7 557.1L210.3 561L204.8 562.9L210.3 566.8L204.8 568.7L210.4 572.6L204.9 574.5M213.4 250.2L207.6 252.5L213.4 256.1L207.7 258.4L213.4 261.9L207.7 264.2L213.5 267.7L207.8 270L213.5 273.6L207.8 275.8L213.6 279.4L207.9 281.6L213.6 285.2L207.9 287.4L213.7 291L208 293.3L213.7 296.9L208 299.1L213.8 302.7L208.1 304.9L213.8 308.5L208.1 310.7L213.9 314.3L208.2 316.5L213.9 320.2L208.2 322.4L213.9 326L208.3 328.2L214 331.8L208.3 334L214 337.6L208.4 339.8L214.1 343.5L208.4 345.6L214.1 349.3L208.5 351.5L214.2 355.1L208.5 357.3L214.2 360.9L208.6 363.1L214.3 366.8L208.6 368.9L214.3 372.6L208.7 374.7L214.4 378.4L208.7 380.6L214.4 384.2L208.8 386.4L214.4 390.1L208.8 392.2L214.5 395.9L208.9 398L214.5 401.7L208.9 403.8L214.6 407.5L209 409.7L214.6 413.4L209 415.5L214.7 419.2L209.1 421.3L214.7 425L209.1 427.1L214.8 430.9L209.2 432.9L214.8 436.7L209.2 438.7L214.9 442.5L209.3 444.6L214.9 448.3L209.3 450.4L214.9 454.2L209.4 456.2L215 460L209.4 462L215 465.8L209.5 467.8L215.1 471.6L209.5 473.7L215.1 477.5L209.6 479.5L215.2 483.3L209.6 485.3L215.2 489.1L209.7 491.1L215.3 494.9L209.7 496.9L215.3 500.8L209.8 502.8L215.4 506.6L209.8 508.6L215.4 512.4L209.9 514.4L215.4 518.2L209.9 520.2L215.5 524.1L210 526L215.5 529.9L210 531.9L215.6 535.7L210.1 537.7L215.6 541.5L210.1 543.5L215.7 547.4L210.2 549.3L215.7 553.2L210.2 555.1L215.8 559L210.3 561L215.8 564.8L210.3 566.8L215.9 570.7L210.4 572.6L215.9 576.5M213.4 250.2L219.1 253.8L213.4 256.1L219.1 259.6L213.4 261.9L219.2 265.5L213.5 267.7L219.2 271.3L213.5 273.6L219.3 277.1L213.6 279.4L219.3 283L213.6 285.2L219.3 288.8L213.7 291L219.4 294.6L213.7 296.9L219.4 300.5L213.8 302.7L219.5 306.3L213.8 308.5L219.5 312.1L213.9 314.3L219.6 317.9L213.9 320.2L219.6 323.8L213.9 326L219.6 329.6L214 331.8L219.7 335.4L214 337.6L219.7 341.3L214.1 343.5L219.8 347.1L214.1 349.3L219.8 352.9L214.2 355.1L219.8 358.8L214.2 360.9L219.9 364.6L214.3 366.8L219.9 370.4L214.3 372.6L220 376.3L214.4 378.4L220 382.1L214.4 384.2L220.1 387.9L214.4 390.1L220.1 393.8L214.5 395.9L220.1 399.6L214.5 401.7L220.2 405.4L214.6 407.5L220.2 411.3L214.6 413.4L220.3 417.1L214.7 419.2L220.3 422.9L214.7 425L220.3 428.8L214.8 430.9L220.4 434.6L214.8 436.7L220.4 440.4L214.9 442.5L220.5 446.3L214.9 448.3L220.5 452.1L214.9 454.2L220.5 457.9L215 460L220.6 463.8L215 465.8L220.6 469.6L215.1 471.6L220.7 475.4L215.1 477.5L220.7 481.3L215.2 483.3L220.8 487.1L215.2 489.1L220.8 492.9L215.3 494.9L220.8 498.8L215.3 500.8L220.9 504.6L215.4 506.6L220.9 510.4L215.4 512.4L221 516.3L215.4 518.2L221 522.1L215.5 524.1L221 527.9L215.5 529.9L221.1 533.8L215.6 535.7L221.1 539.6L215.6 541.5L221.2 545.4L215.7 547.4L221.2 551.3L215.7 553.2L221.3 557.1L215.8 559L221.3 562.9L215.8 564.8L221.3 568.8L215.9 570.7L221.4 574.6L215.9 576.5M224.8 251.5L219.1 253.8L224.8 257.3L219.1 259.6L224.9 263.2L219.2 265.5L224.9 269L219.2 271.3L225 274.9L219.3 277.1L225 280.7L219.3 283L225 286.5L219.3 288.8L225.1 292.4L219.4 294.6L225.1 298.2L219.4 300.5L225.1 304.1L219.5 306.3L225.2 309.9L219.5 312.1L225.2 315.7L219.6 317.9L225.2 321.6L219.6 323.8L225.3 327.4L219.6 329.6L225.3 333.2L219.7 335.4L225.4 339.1L219.7 341.3L225.4 344.9L219.8 347.1L225.4 350.8L219.8 352.9L225.5 356.6L219.8 358.8L225.5 362.4L219.9 364.6L225.6 368.3L219.9 370.4L225.6 374.1L220 376.3L225.6 380L220 382.1L225.7 385.8L220.1 387.9L225.7 391.6L220.1 393.8L225.7 397.5L220.1 399.6L225.8 403.3L220.2 405.4L225.8 409.2L220.2 411.3L225.9 415L220.3 417.1L225.9 420.8L220.3 422.9L225.9 426.7L220.3 428.8L226 432.5L220.4 434.6L226 438.4L220.4 440.4L226 444.2L220.5 446.3L226.1 450L220.5 452.1L226.1 455.9L220.5 457.9L226.2 461.7L220.6 463.8L226.2 467.6L220.6 469.6L226.2 473.4L220.7 475.4L226.3 479.2L220.7 481.3L226.3 485.1L220.8 487.1L226.3 490.9L220.8 492.9L226.4 496.8L220.8 498.8L226.4 502.6L220.9 504.6L226.5 508.4L220.9 510.4L226.5 514.3L221 516.3L226.5 520.1L221 522.1L226.6 525.9L221 527.9L226.6 531.8L221.1 533.8L226.6 537.6L221.1 539.6L226.7 543.5L221.2 545.4L226.7 549.3L221.2 551.3L226.8 555.1L221.3 557.1L226.8 561L221.3 562.9L226.8 566.8L221.3 568.8L226.9 572.7L221.4 574.6L226.9 578.5" fill="none" stroke="#151515" stroke-width="1.12" stroke-linejoin="round"/>
<polygon points="224.8,251.5 250.4,248.5 253.4,571.5 226.9,578.5" fill="#989898" stroke="#151515" stroke-width="0.9" />
<path d="M224.8 251.5L224.8 257.3M224.8 257.3L224.9 263.2M224.9 263.2L224.9 269M224.9 269L225 274.9M225 274.9L225 280.7M225 280.7L225 286.5M225 286.5L225.1 292.4M225.1 292.4L225.1 298.2M225.1 298.2L225.1 304.1M225.1 304.1L225.2 309.9M225.2 309.9L225.2 315.7M225.2 315.7L225.2 321.6M225.2 321.6L225.3 327.4M225.3 327.4L225.3 333.2M225.3 333.2L225.4 339.1M225.4 339.1L225.4 344.9M225.4 344.9L225.4 350.8M225.4 350.8L225.5 356.6M225.5 356.6L225.5 362.4M225.5 362.4L225.6 368.3M225.6 368.3L225.6 374.1M225.6 374.1L225.6 380M225.6 380L225.7 385.8M225.7 385.8L225.7 391.6M225.7 391.6L225.7 397.5M225.7 397.5L225.8 403.3M225.8 403.3L225.8 409.2M225.8 409.2L225.9 415M225.9 415L225.9 420.8M225.9 420.8L225.9 426.7M225.9 426.7L226 432.5M226 432.5L226 438.4M226 438.4L226 444.2M226 444.2L226.1 450M226.1 450L226.1 455.9M226.1 455.9L226.2 461.7M226.2 461.7L226.2 467.6M226.2 467.6L226.2 473.4M226.2 473.4L226.3 479.2M226.3 479.2L226.3 485.1M226.3 485.1L226.3 490.9M226.3 490.9L226.4 496.8M226.4 496.8L226.4 502.6M226.4 502.6L226.5 508.4M226.5 508.4L226.5 514.3M226.5 514.3L226.5 520.1M226.5 520.1L226.6 525.9M226.6 525.9L226.6 531.8M226.6 531.8L226.6 537.6M226.6 537.6L226.7 543.5M226.7 543.5L226.7 549.3M226.7 549.3L226.8 555.1M226.8 555.1L226.8 561M226.8 561L226.8 566.8M226.8 566.8L226.9 572.7M226.9 572.7L226.9 578.5M229.9 250.9L229.2 255.8M229.2 255.8L229.6 261.3M229.6 261.3L228.8 267.5M228.8 267.5L229.1 273.9M229.1 273.9L228.9 281.3M228.9 281.3L230.5 284.8M230.5 284.8L229.6 291.3M229.6 291.3L229.9 296.4M229.9 296.4L231.2 304.6M231.2 304.6L230.2 309.1M230.2 309.1L229.3 314M229.3 314L230 320.2M230 320.2L231.3 325.5M231.3 325.5L229.3 334M229.3 334L230.6 337.2M230.6 337.2L230.7 342.7M230.7 342.7L230.7 351.3M230.7 351.3L231.6 356.2M231.6 356.2L230.1 361.3M230.1 361.3L229.9 368.3M229.9 368.3L230.9 374M230.9 374L230.4 378.3M230.4 378.3L231.7 386.1M231.7 386.1L231.8 391.4M231.8 391.4L231.8 397.1M231.8 397.1L230.3 402.5M230.3 402.5L230.6 406.9M230.6 406.9L229.8 413.6M229.8 413.6L230.5 420.5M230.5 420.5L232.3 425.3M232.3 425.3L232.3 432.7M232.3 432.7L232.4 436.7M232.4 436.7L230.5 442.5M230.5 442.5L230.5 448.3M230.5 448.3L231.7 455.9M231.7 455.9L232.3 460.4M232.3 460.4L231.8 467.2M231.8 467.2L230.4 473M230.4 473L232.6 478.7M232.6 478.7L232.2 483.7M232.2 483.7L230.8 490.8M230.8 490.8L231.2 496.5M231.2 496.5L232.9 500.8M232.9 500.8L231.5 508.6M231.5 508.6L232.3 511.9M232.3 511.9L230.8 518.1M230.8 518.1L232.9 525.3M232.9 525.3L230.9 531.7M230.9 531.7L233.2 536.5M233.2 536.5L231.6 542.4M231.6 542.4L231 546.8M231 546.8L233.3 553.9M233.3 553.9L232.2 560.9M232.2 560.9L232 566.6M232 566.6L233 570.2M233 570.2L232.2 577.1M235 250.3L234.4 255.6M234.4 255.6L234.5 262.3M234.5 262.3L234.6 267.6M234.6 267.6L234.3 274.9M234.3 274.9L234.9 279.3M234.9 279.3L235.5 286.3M235.5 286.3L235.2 292.2M235.2 292.2L235.4 296.9M235.4 296.9L235.5 301.2M235.5 301.2L235.3 307.5M235.3 307.5L234.3 315.3M234.3 315.3L234.7 320.1M234.7 320.1L236.2 325.9M236.2 325.9L235.2 331.8M235.2 331.8L235.8 338.3M235.8 338.3L234.7 343.6M234.7 343.6L235.1 348.5M235.1 348.5L236.5 354.8M236.5 354.8L236 361.4M236 361.4L237 366.2M237 366.2L236.3 372.3M236.3 372.3L236 378.7M236 378.7L235.9 384.1M235.9 384.1L236 391.1M236 391.1L236.7 396.6M236.7 396.6L237.3 400.5M237.3 400.5L236.4 408.4M236.4 408.4L237.1 411.8M237.1 411.8L235.3 418.8M235.3 418.8L235.2 424.1M235.2 424.1L235.3 431.1M235.3 431.1L237.2 437.2M237.2 437.2L235.6 442.9M235.6 442.9L236.9 446.7M236.9 446.7L237.6 454.8M237.6 454.8L235.9 461M235.9 461L236.4 465.3M236.4 465.3L238 471.8M238 471.8L235.9 476.9M235.9 476.9L236.8 482.3M236.8 482.3L236 488.2M236 488.2L237.5 492.8M237.5 492.8L237.1 500M237.1 500L235.7 505.8M235.7 505.8L237.3 511.7M237.3 511.7L235.9 519.3M235.9 519.3L237.9 524.6M237.9 524.6L236.1 528.8M236.1 528.8L236 536.1M236 536.1L236.6 539.9M236.6 539.9L237.1 547.9M237.1 547.9L238.2 551.5M238.2 551.5L236.4 559.7M236.4 559.7L237.6 564.6M237.6 564.6L236.4 568.9M236.4 568.9L237.5 575.7M240.2 249.7L240.7 255.2M240.7 255.2L239.2 262.7M239.2 262.7L240.7 267.9M240.7 267.9L239.3 274.1M239.3 274.1L239.3 279.9M239.3 279.9L240.3 284M240.3 284L240.6 291.5M240.6 291.5L239.9 295.1M239.9 295.1L240.6 301.1M240.6 301.1L239.6 306.8M239.6 306.8L239.5 312.8M239.5 312.8L240.2 318.8M240.2 318.8L241.4 324.3M241.4 324.3L240.8 329.9M240.8 329.9L240.5 335.3M240.5 335.3L240.3 341.1M240.3 341.1L241.6 348.3M241.6 348.3L240.2 354.1M240.2 354.1L242.2 358.5M242.2 358.5L241.9 365.3M241.9 365.3L241.1 372.4M241.1 372.4L240.9 377.3M240.9 377.3L241.7 384.3M241.7 384.3L240.9 389.9M240.9 389.9L241.9 394.9M241.9 394.9L241.1 400M241.1 400L240.3 405.3M240.3 405.3L240.4 412.9M240.4 412.9L240.9 416.9M240.9 416.9L240.5 424.8M240.5 424.8L242.6 429.7M242.6 429.7L241.1 434.6M241.1 434.6L241.2 441M241.2 441L240.9 446.8M240.9 446.8L241.2 454M241.2 454L243.1 458.2M243.1 458.2L241.2 465.7M241.2 465.7L241.4 469.7M241.4 469.7L240.7 475.7M240.7 475.7L242 481.6M242 481.6L241.3 487.5M241.3 487.5L240.8 492.8M240.8 492.8L241.1 498.9M241.1 498.9L241 503.6M241 503.6L241.8 509.9M241.8 509.9L242.6 516.4M242.6 516.4L243 522.4M243 522.4L243 528.9M243 528.9L242.2 533.3M242.2 533.3L243.8 538.2M243.8 538.2L243.2 545.6M243.2 545.6L241.4 552.4M241.4 552.4L243.7 557M243.7 557L243.3 563.5M243.3 563.5L241.8 568.8M241.8 568.8L242.8 574.3M245.3 249.1L245.3 255.8M245.3 255.8L246.2 261.5M246.2 261.5L245.7 267.6M245.7 267.6L246 272.7M246 272.7L244.8 276.7M244.8 276.7L244.6 283.5M244.6 283.5L244.6 290.7M244.6 290.7L245.8 295.7M245.8 295.7L246.1 301.6M246.1 301.6L245.7 305.5M245.7 305.5L246.6 313.3M246.6 313.3L245.9 318.6M245.9 318.6L246.3 323M246.3 323L246.6 329.2M246.6 329.2L244.9 335.3M244.9 335.3L246.7 340.7M246.7 340.7L246.8 348.7M246.8 348.7L246.2 352.8M246.2 352.8L246.2 359.5M246.2 359.5L247 365M247 365L246.7 369.2M246.7 369.2L245.5 375.8M245.5 375.8L247.1 381.4M247.1 381.4L246.7 386.4M246.7 386.4L245.4 393.2M245.4 393.2L247 399.9M247 399.9L247.1 404.5M247.1 404.5L246.7 410.9M246.7 410.9L246.6 415.7M246.6 415.7L247.8 421.5M247.8 421.5L248.1 429.4M248.1 429.4L245.6 434.3M245.6 434.3L247.8 441.1M247.8 441.1L246.9 445.1M246.9 445.1L246.3 452.9M246.3 452.9L246.3 457.7M246.3 457.7L246.2 463.3M246.2 463.3L248.4 467.5M248.4 467.5L248.1 474.4M248.1 474.4L248.3 480.7M248.3 480.7L246.6 487.5M246.6 487.5L247.3 490.6M247.3 490.6L246.1 498M246.1 498L247.4 503M247.4 503L246.6 509.1M246.6 509.1L247.1 516.2M247.1 516.2L246.3 521.9M246.3 521.9L248.6 525.3M248.6 525.3L248.9 532.8M248.9 532.8L248.9 537.3M248.9 537.3L247.5 543.8M247.5 543.8L249.2 549.7M249.2 549.7L247.6 555.4M247.6 555.4L247.4 560.2M247.4 560.2L247 568.4M247 568.4L248.1 572.9M250.4 248.5L250.5 254.3M250.5 254.3L250.5 260M250.5 260L250.6 265.8M250.6 265.8L250.6 271.6M250.6 271.6L250.7 277.3M250.7 277.3L250.7 283.1M250.7 283.1L250.8 288.9M250.8 288.9L250.8 294.6M250.8 294.6L250.9 300.4M250.9 300.4L250.9 306.2M250.9 306.2L251 311.9M251 311.9L251 317.7M251 317.7L251.1 323.5M251.1 323.5L251.2 329.2M251.2 329.2L251.2 335M251.2 335L251.3 340.8M251.3 340.8L251.3 346.6M251.3 346.6L251.4 352.3M251.4 352.3L251.4 358.1M251.4 358.1L251.5 363.9M251.5 363.9L251.5 369.6M251.5 369.6L251.6 375.4M251.6 375.4L251.6 381.2M251.6 381.2L251.7 386.9M251.7 386.9L251.7 392.7M251.7 392.7L251.8 398.5M251.8 398.5L251.8 404.2M251.8 404.2L251.9 410M251.9 410L252 415.8M252 415.8L252 421.5M252 421.5L252.1 427.3M252.1 427.3L252.1 433.1M252.1 433.1L252.2 438.8M252.2 438.8L252.2 444.6M252.2 444.6L252.3 450.4M252.3 450.4L252.3 456.1M252.3 456.1L252.4 461.9M252.4 461.9L252.4 467.7M252.4 467.7L252.5 473.4M252.5 473.4L252.5 479.2M252.5 479.2L252.6 485M252.6 485L252.7 490.8M252.7 490.8L252.7 496.5M252.7 496.5L252.8 502.3M252.8 502.3L252.8 508.1M252.8 508.1L252.9 513.8M252.9 513.8L252.9 519.6M252.9 519.6L253 525.4M253 525.4L253 531.1M253 531.1L253.1 536.9M253.1 536.9L253.1 542.7M253.1 542.7L253.2 548.4M253.2 548.4L253.2 554.2M253.2 554.2L253.3 560M253.3 560L253.3 565.7M253.3 565.7L253.4 571.5M224.8 251.5L229.9 250.9M229.9 250.9L235 250.3M235 250.3L240.2 249.7M240.2 249.7L245.3 249.1M245.3 249.1L250.4 248.5M224.8 257.3L229.2 255.8M229.2 255.8L234.4 255.6M234.4 255.6L240.7 255.2M240.7 255.2L245.3 255.8M245.3 255.8L250.5 254.3M224.9 263.2L229.6 261.3M229.6 261.3L234.5 262.3M234.5 262.3L239.2 262.7M239.2 262.7L246.2 261.5M246.2 261.5L250.5 260M224.9 269L228.8 267.5M228.8 267.5L234.6 267.6M234.6 267.6L240.7 267.9M240.7 267.9L245.7 267.6M245.7 267.6L250.6 265.8M225 274.9L229.1 273.9M229.1 273.9L234.3 274.9M234.3 274.9L239.3 274.1M239.3 274.1L246 272.7M246 272.7L250.6 271.6M225 280.7L228.9 281.3M228.9 281.3L234.9 279.3M234.9 279.3L239.3 279.9M239.3 279.9L244.8 276.7M244.8 276.7L250.7 277.3M225 286.5L230.5 284.8M230.5 284.8L235.5 286.3M235.5 286.3L240.3 284M240.3 284L244.6 283.5M244.6 283.5L250.7 283.1M225.1 292.4L229.6 291.3M229.6 291.3L235.2 292.2M235.2 292.2L240.6 291.5M240.6 291.5L244.6 290.7M244.6 290.7L250.8 288.9M225.1 298.2L229.9 296.4M229.9 296.4L235.4 296.9M235.4 296.9L239.9 295.1M239.9 295.1L245.8 295.7M245.8 295.7L250.8 294.6M225.1 304.1L231.2 304.6M231.2 304.6L235.5 301.2M235.5 301.2L240.6 301.1M240.6 301.1L246.1 301.6M246.1 301.6L250.9 300.4M225.2 309.9L230.2 309.1M230.2 309.1L235.3 307.5M235.3 307.5L239.6 306.8M239.6 306.8L245.7 305.5M245.7 305.5L250.9 306.2M225.2 315.7L229.3 314M229.3 314L234.3 315.3M234.3 315.3L239.5 312.8M239.5 312.8L246.6 313.3M246.6 313.3L251 311.9M225.2 321.6L230 320.2M230 320.2L234.7 320.1M234.7 320.1L240.2 318.8M240.2 318.8L245.9 318.6M245.9 318.6L251 317.7M225.3 327.4L231.3 325.5M231.3 325.5L236.2 325.9M236.2 325.9L241.4 324.3M241.4 324.3L246.3 323M246.3 323L251.1 323.5M225.3 333.2L229.3 334M229.3 334L235.2 331.8M235.2 331.8L240.8 329.9M240.8 329.9L246.6 329.2M246.6 329.2L251.2 329.2M225.4 339.1L230.6 337.2M230.6 337.2L235.8 338.3M235.8 338.3L240.5 335.3M240.5 335.3L244.9 335.3M244.9 335.3L251.2 335M225.4 344.9L230.7 342.7M230.7 342.7L234.7 343.6M234.7 343.6L240.3 341.1M240.3 341.1L246.7 340.7M246.7 340.7L251.3 340.8M225.4 350.8L230.7 351.3M230.7 351.3L235.1 348.5M235.1 348.5L241.6 348.3M241.6 348.3L246.8 348.7M246.8 348.7L251.3 346.6M225.5 356.6L231.6 356.2M231.6 356.2L236.5 354.8M236.5 354.8L240.2 354.1M240.2 354.1L246.2 352.8M246.2 352.8L251.4 352.3M225.5 362.4L230.1 361.3M230.1 361.3L236 361.4M236 361.4L242.2 358.5M242.2 358.5L246.2 359.5M246.2 359.5L251.4 358.1M225.6 368.3L229.9 368.3M229.9 368.3L237 366.2M237 366.2L241.9 365.3M241.9 365.3L247 365M247 365L251.5 363.9M225.6 374.1L230.9 374M230.9 374L236.3 372.3M236.3 372.3L241.1 372.4M241.1 372.4L246.7 369.2M246.7 369.2L251.5 369.6M225.6 380L230.4 378.3M230.4 378.3L236 378.7M236 378.7L240.9 377.3M240.9 377.3L245.5 375.8M245.5 375.8L251.6 375.4M225.7 385.8L231.7 386.1M231.7 386.1L235.9 384.1M235.9 384.1L241.7 384.3M241.7 384.3L247.1 381.4M247.1 381.4L251.6 381.2M225.7 391.6L231.8 391.4M231.8 391.4L236 391.1M236 391.1L240.9 389.9M240.9 389.9L246.7 386.4M246.7 386.4L251.7 386.9M225.7 397.5L231.8 397.1M231.8 397.1L236.7 396.6M236.7 396.6L241.9 394.9M241.9 394.9L245.4 393.2M245.4 393.2L251.7 392.7M225.8 403.3L230.3 402.5M230.3 402.5L237.3 400.5M237.3 400.5L241.1 400M241.1 400L247 399.9M247 399.9L251.8 398.5M225.8 409.2L230.6 406.9M230.6 406.9L236.4 408.4M236.4 408.4L240.3 405.3M240.3 405.3L247.1 404.5M247.1 404.5L251.8 404.2M225.9 415L229.8 413.6M229.8 413.6L237.1 411.8M237.1 411.8L240.4 412.9M240.4 412.9L246.7 410.9M246.7 410.9L251.9 410M225.9 420.8L230.5 420.5M230.5 420.5L235.3 418.8M235.3 418.8L240.9 416.9M240.9 416.9L246.6 415.7M246.6 415.7L252 415.8M225.9 426.7L232.3 425.3M232.3 425.3L235.2 424.1M235.2 424.1L240.5 424.8M240.5 424.8L247.8 421.5M247.8 421.5L252 421.5M226 432.5L232.3 432.7M232.3 432.7L235.3 431.1M235.3 431.1L242.6 429.7M242.6 429.7L248.1 429.4M248.1 429.4L252.1 427.3M226 438.4L232.4 436.7M232.4 436.7L237.2 437.2M237.2 437.2L241.1 434.6M241.1 434.6L245.6 434.3M245.6 434.3L252.1 433.1M226 444.2L230.5 442.5M230.5 442.5L235.6 442.9M235.6 442.9L241.2 441M241.2 441L247.8 441.1M247.8 441.1L252.2 438.8M226.1 450L230.5 448.3M230.5 448.3L236.9 446.7M236.9 446.7L240.9 446.8M240.9 446.8L246.9 445.1M246.9 445.1L252.2 444.6M226.1 455.9L231.7 455.9M231.7 455.9L237.6 454.8M237.6 454.8L241.2 454M241.2 454L246.3 452.9M246.3 452.9L252.3 450.4M226.2 461.7L232.3 460.4M232.3 460.4L235.9 461M235.9 461L243.1 458.2M243.1 458.2L246.3 457.7M246.3 457.7L252.3 456.1M226.2 467.6L231.8 467.2M231.8 467.2L236.4 465.3M236.4 465.3L241.2 465.7M241.2 465.7L246.2 463.3M246.2 463.3L252.4 461.9M226.2 473.4L230.4 473M230.4 473L238 471.8M238 471.8L241.4 469.7M241.4 469.7L248.4 467.5M248.4 467.5L252.4 467.7M226.3 479.2L232.6 478.7M232.6 478.7L235.9 476.9M235.9 476.9L240.7 475.7M240.7 475.7L248.1 474.4M248.1 474.4L252.5 473.4M226.3 485.1L232.2 483.7M232.2 483.7L236.8 482.3M236.8 482.3L242 481.6M242 481.6L248.3 480.7M248.3 480.7L252.5 479.2M226.3 490.9L230.8 490.8M230.8 490.8L236 488.2M236 488.2L241.3 487.5M241.3 487.5L246.6 487.5M246.6 487.5L252.6 485M226.4 496.8L231.2 496.5M231.2 496.5L237.5 492.8M237.5 492.8L240.8 492.8M240.8 492.8L247.3 490.6M247.3 490.6L252.7 490.8M226.4 502.6L232.9 500.8M232.9 500.8L237.1 500M237.1 500L241.1 498.9M241.1 498.9L246.1 498M246.1 498L252.7 496.5M226.5 508.4L231.5 508.6M231.5 508.6L235.7 505.8M235.7 505.8L241 503.6M241 503.6L247.4 503M247.4 503L252.8 502.3M226.5 514.3L232.3 511.9M232.3 511.9L237.3 511.7M237.3 511.7L241.8 509.9M241.8 509.9L246.6 509.1M246.6 509.1L252.8 508.1M226.5 520.1L230.8 518.1M230.8 518.1L235.9 519.3M235.9 519.3L242.6 516.4M242.6 516.4L247.1 516.2M247.1 516.2L252.9 513.8M226.6 525.9L232.9 525.3M232.9 525.3L237.9 524.6M237.9 524.6L243 522.4M243 522.4L246.3 521.9M246.3 521.9L252.9 519.6M226.6 531.8L230.9 531.7M230.9 531.7L236.1 528.8M236.1 528.8L243 528.9M243 528.9L248.6 525.3M248.6 525.3L253 525.4M226.6 537.6L233.2 536.5M233.2 536.5L236 536.1M236 536.1L242.2 533.3M242.2 533.3L248.9 532.8M248.9 532.8L253 531.1M226.7 543.5L231.6 542.4M231.6 542.4L236.6 539.9M236.6 539.9L243.8 538.2M243.8 538.2L248.9 537.3M248.9 537.3L253.1 536.9M226.7 549.3L231 546.8M231 546.8L237.1 547.9M237.1 547.9L243.2 545.6M243.2 545.6L247.5 543.8M247.5 543.8L253.1 542.7M226.8 555.1L233.3 553.9M233.3 553.9L238.2 551.5M238.2 551.5L241.4 552.4M241.4 552.4L249.2 549.7M249.2 549.7L253.2 548.4M226.8 561L232.2 560.9M232.2 560.9L236.4 559.7M236.4 559.7L243.7 557M243.7 557L247.6 555.4M247.6 555.4L253.2 554.2M226.8 566.8L232 566.6M232 566.6L237.6 564.6M237.6 564.6L243.3 563.5M243.3 563.5L247.4 560.2M247.4 560.2L253.3 560M226.9 572.7L233 570.2M233 570.2L236.4 568.9M236.4 568.9L241.8 568.8M241.8 568.8L247 568.4M247 568.4L253.3 565.7M226.9 578.5L232.2 577.1M232.2 577.1L237.5 575.7M237.5 575.7L242.8 574.3M242.8 574.3L248.1 572.9M248.1 572.9L253.4 571.5M224.8 251.5L229.2 255.8M229.9 250.9L224.8 257.3M224.8 257.3L229.6 261.3M229.2 255.8L224.9 263.2M224.9 263.2L228.8 267.5M229.6 261.3L224.9 269M224.9 269L229.1 273.9M228.8 267.5L225 274.9M225 274.9L228.9 281.3M229.1 273.9L225 280.7M225 280.7L230.5 284.8M228.9 281.3L225 286.5M225 286.5L229.6 291.3M230.5 284.8L225.1 292.4M225.1 292.4L229.9 296.4M229.6 291.3L225.1 298.2M225.1 298.2L231.2 304.6M229.9 296.4L225.1 304.1M225.1 304.1L230.2 309.1M231.2 304.6L225.2 309.9M225.2 309.9L229.3 314M230.2 309.1L225.2 315.7M225.2 315.7L230 320.2M229.3 314L225.2 321.6M225.2 321.6L231.3 325.5M230 320.2L225.3 327.4M225.3 327.4L229.3 334M231.3 325.5L225.3 333.2M225.3 333.2L230.6 337.2M229.3 334L225.4 339.1M225.4 339.1L230.7 342.7M230.6 337.2L225.4 344.9M225.4 344.9L230.7 351.3M230.7 342.7L225.4 350.8M225.4 350.8L231.6 356.2M230.7 351.3L225.5 356.6M225.5 356.6L230.1 361.3M231.6 356.2L225.5 362.4M225.5 362.4L229.9 368.3M230.1 361.3L225.6 368.3M225.6 368.3L230.9 374M229.9 368.3L225.6 374.1M225.6 374.1L230.4 378.3M230.9 374L225.6 380M225.6 380L231.7 386.1M230.4 378.3L225.7 385.8M225.7 385.8L231.8 391.4M231.7 386.1L225.7 391.6M225.7 391.6L231.8 397.1M231.8 391.4L225.7 397.5M225.7 397.5L230.3 402.5M231.8 397.1L225.8 403.3M225.8 403.3L230.6 406.9M230.3 402.5L225.8 409.2M225.8 409.2L229.8 413.6M230.6 406.9L225.9 415M225.9 415L230.5 420.5M229.8 413.6L225.9 420.8M225.9 420.8L232.3 425.3M230.5 420.5L225.9 426.7M225.9 426.7L232.3 432.7M232.3 425.3L226 432.5M226 432.5L232.4 436.7M232.3 432.7L226 438.4M226 438.4L230.5 442.5M232.4 436.7L226 444.2M226 444.2L230.5 448.3M230.5 442.5L226.1 450M226.1 450L231.7 455.9M230.5 448.3L226.1 455.9M226.1 455.9L232.3 460.4M231.7 455.9L226.2 461.7M226.2 461.7L231.8 467.2M232.3 460.4L226.2 467.6M226.2 467.6L230.4 473M231.8 467.2L226.2 473.4M226.2 473.4L232.6 478.7M230.4 473L226.3 479.2M226.3 479.2L232.2 483.7M232.6 478.7L226.3 485.1M226.3 485.1L230.8 490.8M232.2 483.7L226.3 490.9M226.3 490.9L231.2 496.5M230.8 490.8L226.4 496.8M226.4 496.8L232.9 500.8M231.2 496.5L226.4 502.6M226.4 502.6L231.5 508.6M232.9 500.8L226.5 508.4M226.5 508.4L232.3 511.9M231.5 508.6L226.5 514.3M226.5 514.3L230.8 518.1M232.3 511.9L226.5 520.1M226.5 520.1L232.9 525.3M230.8 518.1L226.6 525.9M226.6 525.9L230.9 531.7M232.9 525.3L226.6 531.8M226.6 531.8L233.2 536.5M230.9 531.7L226.6 537.6M226.6 537.6L231.6 542.4M233.2 536.5L226.7 543.5M226.7 543.5L231 546.8M231.6 542.4L226.7 549.3M226.7 549.3L233.3 553.9M231 546.8L226.8 555.1M226.8 555.1L232.2 560.9M233.3 553.9L226.8 561M226.8 561L232 566.6M232.2 560.9L226.8 566.8M226.8 566.8L233 570.2M232 566.6L226.9 572.7M226.9 572.7L232.2 577.1M233 570.2L226.9 578.5M229.9 250.9L234.4 255.6M235 250.3L229.2 255.8M229.2 255.8L234.5 262.3M234.4 255.6L229.6 261.3M229.6 261.3L234.6 267.6M234.5 262.3L228.8 267.5M228.8 267.5L234.3 274.9M234.6 267.6L229.1 273.9M229.1 273.9L234.9 279.3M234.3 274.9L228.9 281.3M228.9 281.3L235.5 286.3M234.9 279.3L230.5 284.8M230.5 284.8L235.2 292.2M235.5 286.3L229.6 291.3M229.6 291.3L235.4 296.9M235.2 292.2L229.9 296.4M229.9 296.4L235.5 301.2M235.4 296.9L231.2 304.6M231.2 304.6L235.3 307.5M235.5 301.2L230.2 309.1M230.2 309.1L234.3 315.3M235.3 307.5L229.3 314M229.3 314L234.7 320.1M234.3 315.3L230 320.2M230 320.2L236.2 325.9M234.7 320.1L231.3 325.5M231.3 325.5L235.2 331.8M236.2 325.9L229.3 334M229.3 334L235.8 338.3M235.2 331.8L230.6 337.2M230.6 337.2L234.7 343.6M235.8 338.3L230.7 342.7M230.7 342.7L235.1 348.5M234.7 343.6L230.7 351.3M230.7 351.3L236.5 354.8M235.1 348.5L231.6 356.2M231.6 356.2L236 361.4M236.5 354.8L230.1 361.3M230.1 361.3L237 366.2M236 361.4L229.9 368.3M229.9 368.3L236.3 372.3M237 366.2L230.9 374M230.9 374L236 378.7M236.3 372.3L230.4 378.3M230.4 378.3L235.9 384.1M236 378.7L231.7 386.1M231.7 386.1L236 391.1M235.9 384.1L231.8 391.4M231.8 391.4L236.7 396.6M236 391.1L231.8 397.1M231.8 397.1L237.3 400.5M236.7 396.6L230.3 402.5M230.3 402.5L236.4 408.4M237.3 400.5L230.6 406.9M230.6 406.9L237.1 411.8M236.4 408.4L229.8 413.6M229.8 413.6L235.3 418.8M237.1 411.8L230.5 420.5M230.5 420.5L235.2 424.1M235.3 418.8L232.3 425.3M232.3 425.3L235.3 431.1M235.2 424.1L232.3 432.7M232.3 432.7L237.2 437.2M235.3 431.1L232.4 436.7M232.4 436.7L235.6 442.9M237.2 437.2L230.5 442.5M230.5 442.5L236.9 446.7M235.6 442.9L230.5 448.3M230.5 448.3L237.6 454.8M236.9 446.7L231.7 455.9M231.7 455.9L235.9 461M237.6 454.8L232.3 460.4M232.3 460.4L236.4 465.3M235.9 461L231.8 467.2M231.8 467.2L238 471.8M236.4 465.3L230.4 473M230.4 473L235.9 476.9M238 471.8L232.6 478.7M232.6 478.7L236.8 482.3M235.9 476.9L232.2 483.7M232.2 483.7L236 488.2M236.8 482.3L230.8 490.8M230.8 490.8L237.5 492.8M236 488.2L231.2 496.5M231.2 496.5L237.1 500M237.5 492.8L232.9 500.8M232.9 500.8L235.7 505.8M237.1 500L231.5 508.6M231.5 508.6L237.3 511.7M235.7 505.8L232.3 511.9M232.3 511.9L235.9 519.3M237.3 511.7L230.8 518.1M230.8 518.1L237.9 524.6M235.9 519.3L232.9 525.3M232.9 525.3L236.1 528.8M237.9 524.6L230.9 531.7M230.9 531.7L236 536.1M236.1 528.8L233.2 536.5M233.2 536.5L236.6 539.9M236 536.1L231.6 542.4M231.6 542.4L237.1 547.9M236.6 539.9L231 546.8M231 546.8L238.2 551.5M237.1 547.9L233.3 553.9M233.3 553.9L236.4 559.7M238.2 551.5L232.2 560.9M232.2 560.9L237.6 564.6M236.4 559.7L232 566.6M232 566.6L236.4 568.9M237.6 564.6L233 570.2M233 570.2L237.5 575.7M236.4 568.9L232.2 577.1M235 250.3L240.7 255.2M240.2 249.7L234.4 255.6M234.4 255.6L239.2 262.7M240.7 255.2L234.5 262.3M234.5 262.3L240.7 267.9M239.2 262.7L234.6 267.6M234.6 267.6L239.3 274.1M240.7 267.9L234.3 274.9M234.3 274.9L239.3 279.9M239.3 274.1L234.9 279.3M234.9 279.3L240.3 284M239.3 279.9L235.5 286.3M235.5 286.3L240.6 291.5M240.3 284L235.2 292.2M235.2 292.2L239.9 295.1M240.6 291.5L235.4 296.9M235.4 296.9L240.6 301.1M239.9 295.1L235.5 301.2M235.5 301.2L239.6 306.8M240.6 301.1L235.3 307.5M235.3 307.5L239.5 312.8M239.6 306.8L234.3 315.3M234.3 315.3L240.2 318.8M239.5 312.8L234.7 320.1M234.7 320.1L241.4 324.3M240.2 318.8L236.2 325.9M236.2 325.9L240.8 329.9M241.4 324.3L235.2 331.8M235.2 331.8L240.5 335.3M240.8 329.9L235.8 338.3M235.8 338.3L240.3 341.1M240.5 335.3L234.7 343.6M234.7 343.6L241.6 348.3M240.3 341.1L235.1 348.5M235.1 348.5L240.2 354.1M241.6 348.3L236.5 354.8M236.5 354.8L242.2 358.5M240.2 354.1L236 361.4M236 361.4L241.9 365.3M242.2 358.5L237 366.2M237 366.2L241.1 372.4M241.9 365.3L236.3 372.3M236.3 372.3L240.9 377.3M241.1 372.4L236 378.7M236 378.7L241.7 384.3M240.9 377.3L235.9 384.1M235.9 384.1L240.9 389.9M241.7 384.3L236 391.1M236 391.1L241.9 394.9M240.9 389.9L236.7 396.6M236.7 396.6L241.1 400M241.9 394.9L237.3 400.5M237.3 400.5L240.3 405.3M241.1 400L236.4 408.4M236.4 408.4L240.4 412.9M240.3 405.3L237.1 411.8M237.1 411.8L240.9 416.9M240.4 412.9L235.3 418.8M235.3 418.8L240.5 424.8M240.9 416.9L235.2 424.1M235.2 424.1L242.6 429.7M240.5 424.8L235.3 431.1M235.3 431.1L241.1 434.6M242.6 429.7L237.2 437.2M237.2 437.2L241.2 441M241.1 434.6L235.6 442.9M235.6 442.9L240.9 446.8M241.2 441L236.9 446.7M236.9 446.7L241.2 454M240.9 446.8L237.6 454.8M237.6 454.8L243.1 458.2M241.2 454L235.9 461M235.9 461L241.2 465.7M243.1 458.2L236.4 465.3M236.4 465.3L241.4 469.7M241.2 465.7L238 471.8M238 471.8L240.7 475.7M241.4 469.7L235.9 476.9M235.9 476.9L242 481.6M240.7 475.7L236.8 482.3M236.8 482.3L241.3 487.5M242 481.6L236 488.2M236 488.2L240.8 492.8M241.3 487.5L237.5 492.8M237.5 492.8L241.1 498.9M240.8 492.8L237.1 500M237.1 500L241 503.6M241.1 498.9L235.7 505.8M235.7 505.8L241.8 509.9M241 503.6L237.3 511.7M237.3 511.7L242.6 516.4M241.8 509.9L235.9 519.3M235.9 519.3L243 522.4M242.6 516.4L237.9 524.6M237.9 524.6L243 528.9M243 522.4L236.1 528.8M236.1 528.8L242.2 533.3M243 528.9L236 536.1M236 536.1L243.8 538.2M242.2 533.3L236.6 539.9M236.6 539.9L243.2 545.6M243.8 538.2L237.1 547.9M237.1 547.9L241.4 552.4M243.2 545.6L238.2 551.5M238.2 551.5L243.7 557M241.4 552.4L236.4 559.7M236.4 559.7L243.3 563.5M243.7 557L237.6 564.6M237.6 564.6L241.8 568.8M243.3 563.5L236.4 568.9M236.4 568.9L242.8 574.3M241.8 568.8L237.5 575.7M240.2 249.7L245.3 255.8M245.3 249.1L240.7 255.2M240.7 255.2L246.2 261.5M245.3 255.8L239.2 262.7M239.2 262.7L245.7 267.6M246.2 261.5L240.7 267.9M240.7 267.9L246 272.7M245.7 267.6L239.3 274.1M239.3 274.1L244.8 276.7M246 272.7L239.3 279.9M239.3 279.9L244.6 283.5M244.8 276.7L240.3 284M240.3 284L244.6 290.7M244.6 283.5L240.6 291.5M240.6 291.5L245.8 295.7M244.6 290.7L239.9 295.1M239.9 295.1L246.1 301.6M245.8 295.7L240.6 301.1M240.6 301.1L245.7 305.5M246.1 301.6L239.6 306.8M239.6 306.8L246.6 313.3M245.7 305.5L239.5 312.8M239.5 312.8L245.9 318.6M246.6 313.3L240.2 318.8M240.2 318.8L246.3 323M245.9 318.6L241.4 324.3M241.4 324.3L246.6 329.2M246.3 323L240.8 329.9M240.8 329.9L244.9 335.3M246.6 329.2L240.5 335.3M240.5 335.3L246.7 340.7M244.9 335.3L240.3 341.1M240.3 341.1L246.8 348.7M246.7 340.7L241.6 348.3M241.6 348.3L246.2 352.8M246.8 348.7L240.2 354.1M240.2 354.1L246.2 359.5M246.2 352.8L242.2 358.5M242.2 358.5L247 365M246.2 359.5L241.9 365.3M241.9 365.3L246.7 369.2M247 365L241.1 372.4M241.1 372.4L245.5 375.8M246.7 369.2L240.9 377.3M240.9 377.3L247.1 381.4M245.5 375.8L241.7 384.3M241.7 384.3L246.7 386.4M247.1 381.4L240.9 389.9M240.9 389.9L245.4 393.2M246.7 386.4L241.9 394.9M241.9 394.9L247 399.9M245.4 393.2L241.1 400M241.1 400L247.1 404.5M247 399.9L240.3 405.3M240.3 405.3L246.7 410.9M247.1 404.5L240.4 412.9M240.4 412.9L246.6 415.7M246.7 410.9L240.9 416.9M240.9 416.9L247.8 421.5M246.6 415.7L240.5 424.8M240.5 424.8L248.1 429.4M247.8 421.5L242.6 429.7M242.6 429.7L245.6 434.3M248.1 429.4L241.1 434.6M241.1 434.6L247.8 441.1M245.6 434.3L241.2 441M241.2 441L246.9 445.1M247.8 441.1L240.9 446.8M240.9 446.8L246.3 452.9M246.9 445.1L241.2 454M241.2 454L246.3 457.7M246.3 452.9L243.1 458.2M243.1 458.2L246.2 463.3M246.3 457.7L241.2 465.7M241.2 465.7L248.4 467.5M246.2 463.3L241.4 469.7M241.4 469.7L248.1 474.4M248.4 467.5L240.7 475.7M240.7 475.7L248.3 480.7M248.1 474.4L242 481.6M242 481.6L246.6 487.5M248.3 480.7L241.3 487.5M241.3 487.5L247.3 490.6M246.6 487.5L240.8 492.8M240.8 492.8L246.1 498M247.3 490.6L241.1 498.9M241.1 498.9L247.4 503M246.1 498L241 503.6M241 503.6L246.6 509.1M247.4 503L241.8 509.9M241.8 509.9L247.1 516.2M246.6 509.1L242.6 516.4M242.6 516.4L246.3 521.9M247.1 516.2L243 522.4M243 522.4L248.6 525.3M246.3 521.9L243 528.9M243 528.9L248.9 532.8M248.6 525.3L242.2 533.3M242.2 533.3L248.9 537.3M248.9 532.8L243.8 538.2M243.8 538.2L247.5 543.8M248.9 537.3L243.2 545.6M243.2 545.6L249.2 549.7M247.5 543.8L241.4 552.4M241.4 552.4L247.6 555.4M249.2 549.7L243.7 557M243.7 557L247.4 560.2M247.6 555.4L243.3 563.5M243.3 563.5L247 568.4M247.4 560.2L241.8 568.8M241.8 568.8L248.1 572.9M247 568.4L242.8 574.3M245.3 249.1L250.5 254.3M250.4 248.5L245.3 255.8M245.3 255.8L250.5 260M250.5 254.3L246.2 261.5M246.2 261.5L250.6 265.8M250.5 260L245.7 267.6M245.7 267.6L250.6 271.6M250.6 265.8L246 272.7M246 272.7L250.7 277.3M250.6 271.6L244.8 276.7M244.8 276.7L250.7 283.1M250.7 277.3L244.6 283.5M244.6 283.5L250.8 288.9M250.7 283.1L244.6 290.7M244.6 290.7L250.8 294.6M250.8 288.9L245.8 295.7M245.8 295.7L250.9 300.4M250.8 294.6L246.1 301.6M246.1 301.6L250.9 306.2M250.9 300.4L245.7 305.5M245.7 305.5L251 311.9M250.9 306.2L246.6 313.3M246.6 313.3L251 317.7M251 311.9L245.9 318.6M245.9 318.6L251.1 323.5M251 317.7L246.3 323M246.3 323L251.2 329.2M251.1 323.5L246.6 329.2M246.6 329.2L251.2 335M251.2 329.2L244.9 335.3M244.9 335.3L251.3 340.8M251.2 335L246.7 340.7M246.7 340.7L251.3 346.6M251.3 340.8L246.8 348.7M246.8 348.7L251.4 352.3M251.3 346.6L246.2 352.8M246.2 352.8L251.4 358.1M251.4 352.3L246.2 359.5M246.2 359.5L251.5 363.9M251.4 358.1L247 365M247 365L251.5 369.6M251.5 363.9L246.7 369.2M246.7 369.2L251.6 375.4M251.5 369.6L245.5 375.8M245.5 375.8L251.6 381.2M251.6 375.4L247.1 381.4M247.1 381.4L251.7 386.9M251.6 381.2L246.7 386.4M246.7 386.4L251.7 392.7M251.7 386.9L245.4 393.2M245.4 393.2L251.8 398.5M251.7 392.7L247 399.9M247 399.9L251.8 404.2M251.8 398.5L247.1 404.5M247.1 404.5L251.9 410M251.8 404.2L246.7 410.9M246.7 410.9L252 415.8M251.9 410L246.6 415.7M246.6 415.7L252 421.5M252 415.8L247.8 421.5M247.8 421.5L252.1 427.3M252 421.5L248.1 429.4M248.1 429.4L252.1 433.1M252.1 427.3L245.6 434.3M245.6 434.3L252.2 438.8M252.1 433.1L247.8 441.1M247.8 441.1L252.2 444.6M252.2 438.8L246.9 445.1M246.9 445.1L252.3 450.4M252.2 444.6L246.3 452.9M246.3 452.9L252.3 456.1M252.3 450.4L246.3 457.7M246.3 457.7L252.4 461.9M252.3 456.1L246.2 463.3M246.2 463.3L252.4 467.7M252.4 461.9L248.4 467.5M248.4 467.5L252.5 473.4M252.4 467.7L248.1 474.4M248.1 474.4L252.5 479.2M252.5 473.4L248.3 480.7M248.3 480.7L252.6 485M252.5 479.2L246.6 487.5M246.6 487.5L252.7 490.8M252.6 485L247.3 490.6M247.3 490.6L252.7 496.5M252.7 490.8L246.1 498M246.1 498L252.8 502.3M252.7 496.5L247.4 503M247.4 503L252.8 508.1M252.8 502.3L246.6 509.1M246.6 509.1L252.9 513.8M252.8 508.1L247.1 516.2M247.1 516.2L252.9 519.6M252.9 513.8L246.3 521.9M246.3 521.9L253 525.4M252.9 519.6L248.6 525.3M248.6 525.3L253 531.1M253 525.4L248.9 532.8M248.9 532.8L253.1 536.9M253 531.1L248.9 537.3M248.9 537.3L253.1 542.7M253.1 536.9L247.5 543.8M247.5 543.8L253.2 548.4M253.1 542.7L249.2 549.7M249.2 549.7L253.2 554.2M253.2 548.4L247.6 555.4M247.6 555.4L253.3 560M253.2 554.2L247.4 560.2M247.4 560.2L253.3 565.7M253.3 560L247 568.4M247 568.4L253.4 571.5M253.3 565.7L248.1 572.9" fill="none" stroke="#151515" stroke-width="0.9"/>
<ellipse cx="235.7" cy="266.5" rx="1.7" ry="2.6" fill="#d8d8d8" stroke="#222" stroke-width="0.8"/>
<ellipse cx="235.9" cy="299" rx="1.7" ry="2.6" fill="#d8d8d8" stroke="#222" stroke-width="0.8"/>
<ellipse cx="236.2" cy="331.6" rx="1.7" ry="2.6" fill="#d8d8d8" stroke="#222" stroke-width="0.8"/>
<ellipse cx="236.4" cy="364.1" rx="1.7" ry="2.6" fill="#d8d8d8" stroke="#222" stroke-width="0.8"/>
<ellipse cx="236.7" cy="396.6" rx="1.7" ry="2.6" fill="#d8d8d8" stroke="#222" stroke-width="0.8"/>
<ellipse cx="236.9" cy="429.2" rx="1.7" ry="2.6" fill="#d8d8d8" stroke="#222" stroke-width="0.8"/>
<ellipse cx="237.2" cy="461.7" rx="1.7" ry="2.6" fill="#d8d8d8" stroke="#222" stroke-width="0.8"/>
<ellipse cx="237.4" cy="494.2" rx="1.7" ry="2.6" fill="#d8d8d8" stroke="#222" stroke-width="0.8"/>
<ellipse cx="237.7" cy="526.8" rx="1.7" ry="2.6" fill="#d8d8d8" stroke="#222" stroke-width="0.8"/>
<ellipse cx="237.9" cy="559.3" rx="1.7" ry="2.6" fill="#d8d8d8" stroke="#222" stroke-width="0.8"/>
<line x1="240.3" y1="547" x2="240.5" y2="569" stroke="#d8d8d8" stroke-width="0.9" />
<polygon points="201.9,249 224.8,252 250.4,248.5 227,246.2" fill="#b5b5b5" stroke="#151515" stroke-width="0.8" />
<polygon points="212.5,180 229.5,180 229.5,250.8 212.5,248.5" fill="#d2d2d2" stroke="#151515" stroke-width="1.1" />
<path d="M212.5 180L212.5 187.6M212.5 187.6L212.5 195.2M212.5 195.2L212.5 202.8M212.5 202.8L212.5 210.4M212.5 210.4L212.5 218.1M212.5 218.1L212.5 225.7M212.5 225.7L212.5 233.3M212.5 233.3L212.5 240.9M212.5 240.9L212.5 248.5M218.2 180L218.2 187.7M218.2 187.7L218.2 195.4M218.2 195.4L218.2 203.1M218.2 203.1L218.2 210.8M218.2 210.8L218.2 218.5M218.2 218.5L218.2 226.2M218.2 226.2L218.2 233.9M218.2 233.9L218.2 241.6M218.2 241.6L218.2 249.3M223.8 180L223.8 187.8M223.8 187.8L223.8 195.6M223.8 195.6L223.8 203.3M223.8 203.3L223.8 211.1M223.8 211.1L223.8 218.9M223.8 218.9L223.8 226.7M223.8 226.7L223.8 234.5M223.8 234.5L223.8 242.3M223.8 242.3L223.8 250M229.5 180L229.5 187.9M229.5 187.9L229.5 195.7M229.5 195.7L229.5 203.6M229.5 203.6L229.5 211.5M229.5 211.5L229.5 219.3M229.5 219.3L229.5 227.2M229.5 227.2L229.5 235.1M229.5 235.1L229.5 242.9M229.5 242.9L229.5 250.8M212.5 180L218.2 180M218.2 180L223.8 180M223.8 180L229.5 180M212.5 187.6L218.2 187.7M218.2 187.7L223.8 187.8M223.8 187.8L229.5 187.9M212.5 195.2L218.2 195.4M218.2 195.4L223.8 195.6M223.8 195.6L229.5 195.7M212.5 202.8L218.2 203.1M218.2 203.1L223.8 203.3M223.8 203.3L229.5 203.6M212.5 210.4L218.2 210.8M218.2 210.8L223.8 211.1M223.8 211.1L229.5 211.5M212.5 218.1L218.2 218.5M218.2 218.5L223.8 218.9M223.8 218.9L229.5 219.3M212.5 225.7L218.2 226.2M218.2 226.2L223.8 226.7M223.8 226.7L229.5 227.2M212.5 233.3L218.2 233.9M218.2 233.9L223.8 234.5M223.8 234.5L229.5 235.1M212.5 240.9L218.2 241.6M218.2 241.6L223.8 242.3M223.8 242.3L229.5 242.9M212.5 248.5L218.2 249.3M218.2 249.3L223.8 250M223.8 250L229.5 250.8M212.5 180L218.2 187.7M212.5 187.6L218.2 195.4M212.5 195.2L218.2 203.1M212.5 202.8L218.2 210.8M212.5 210.4L218.2 218.5M212.5 218.1L218.2 226.2M212.5 225.7L218.2 233.9M212.5 233.3L218.2 241.6M212.5 240.9L218.2 249.3M218.2 180L223.8 187.8M218.2 187.7L223.8 195.6M218.2 195.4L223.8 203.3M218.2 203.1L223.8 211.1M218.2 210.8L223.8 218.9M218.2 218.5L223.8 226.7M218.2 226.2L223.8 234.5M218.2 233.9L223.8 242.3M218.2 241.6L223.8 250M223.8 180L229.5 187.9M223.8 187.8L229.5 195.7M223.8 195.6L229.5 203.6M223.8 203.3L229.5 211.5M223.8 211.1L229.5 219.3M223.8 218.9L229.5 227.2M223.8 226.7L229.5 235.1M223.8 234.5L229.5 242.9M223.8 242.3L229.5 250.8" fill="none" stroke="#151515" stroke-width="1.1"/>
<polygon points="229.5,180 238.2,180 238.2,248.5 229.5,250.8" fill="#bababa" stroke="#151515" stroke-width="1.1" />
<path d="M229.5 180L229.5 187.9M229.5 187.9L229.5 195.7M229.5 195.7L229.5 203.6M229.5 203.6L229.5 211.5M229.5 211.5L229.5 219.3M229.5 219.3L229.5 227.2M229.5 227.2L229.5 235.1M229.5 235.1L229.5 242.9M229.5 242.9L229.5 250.8M238.2 180L238.2 187.6M238.2 187.6L238.2 195.2M238.2 195.2L238.2 202.8M238.2 202.8L238.2 210.4M238.2 210.4L238.2 218.1M238.2 218.1L238.2 225.7M238.2 225.7L238.2 233.3M238.2 233.3L238.2 240.9M238.2 240.9L238.2 248.5M229.5 180L238.2 180M229.5 187.9L238.2 187.6M229.5 195.7L238.2 195.2M229.5 203.6L238.2 202.8M229.5 211.5L238.2 210.4M229.5 219.3L238.2 218.1M229.5 227.2L238.2 225.7M229.5 235.1L238.2 233.3M229.5 242.9L238.2 240.9M229.5 250.8L238.2 248.5M229.5 180L238.2 187.6M229.5 187.9L238.2 195.2M229.5 195.7L238.2 202.8M229.5 203.6L238.2 210.4M229.5 211.5L238.2 218.1M229.5 219.3L238.2 225.7M229.5 227.2L238.2 233.3M229.5 235.1L238.2 240.9M229.5 242.9L238.2 248.5" fill="none" stroke="#151515" stroke-width="1.1"/>
<polygon points="485.7,314.5 511.5,317.5 513.3,644 489.7,634" fill="#b9b9b9" stroke="#151515" stroke-width="1.12" />
<path d="M485.7 314.5L489.7 634M492.1 315.2L495.6 636.5M498.6 316L501.5 639M505.1 316.8L507.4 641.5M511.5 317.5L513.3 644M485.7 314.5L492.2 318.1L485.8 320.2L492.2 323.9L485.8 325.9L492.3 329.6L485.9 331.6L492.4 335.3L486 337.3L492.4 341.1L486.1 343L492.5 346.8L486.1 348.7L492.6 352.5L486.2 354.4L492.6 358.3L486.3 360.1L492.7 364L486.3 365.8L492.7 369.7L486.4 371.6L492.8 375.5L486.5 377.3L492.9 381.2L486.6 383L492.9 387L486.6 388.7L493 392.7L486.7 394.4L493 398.4L486.8 400.1L493.1 404.2L486.8 405.8L493.2 409.9L486.9 411.5L493.2 415.6L487 417.2L493.3 421.4L487.1 422.9L493.4 427.1L487.1 428.6L493.4 432.9L487.2 434.3L493.5 438.6L487.3 440L493.5 444.3L487.3 445.7L493.6 450.1L487.4 451.4L493.7 455.8L487.5 457.1L493.7 461.5L487.6 462.8L493.8 467.3L487.6 468.5L493.8 473L487.7 474.2L493.9 478.7L487.8 480L494 484.5L487.8 485.7L494 490.2L487.9 491.4L494.1 496L488 497.1L494.2 501.7L488.1 502.8L494.2 507.4L488.1 508.5L494.3 513.2L488.2 514.2L494.3 518.9L488.3 519.9L494.4 524.6L488.3 525.6L494.5 530.4L488.4 531.3L494.5 536.1L488.5 537L494.6 541.8L488.6 542.7L494.6 547.6L488.6 548.4L494.7 553.3L488.7 554.1L494.8 559.1L488.8 559.8L494.8 564.8L488.8 565.5L494.9 570.5L488.9 571.2L495 576.3L489 576.9L495 582L489.1 582.7L495.1 587.7L489.1 588.4L495.1 593.5L489.2 594.1L495.2 599.2L489.3 599.8L495.3 604.9L489.3 605.5L495.3 610.7L489.4 611.2L495.4 616.4L489.5 616.9L495.4 622.2L489.6 622.6L495.5 627.9L489.6 628.3L495.6 633.6L489.7 634M498.6 316L492.2 318.1L498.7 321.8L492.2 323.9L498.7 327.5L492.3 329.6L498.8 333.3L492.4 335.3L498.8 339.1L492.4 341.1L498.9 344.8L492.5 346.8L498.9 350.6L492.6 352.5L499 356.4L492.6 358.3L499 362.1L492.7 364L499.1 367.9L492.7 369.7L499.1 373.7L492.8 375.5L499.2 379.4L492.9 381.2L499.2 385.2L492.9 387L499.3 391L493 392.7L499.3 396.8L493 398.4L499.4 402.5L493.1 404.2L499.4 408.3L493.2 409.9L499.5 414.1L493.2 415.6L499.5 419.8L493.3 421.4L499.6 425.6L493.4 427.1L499.6 431.4L493.4 432.9L499.7 437.1L493.5 438.6L499.7 442.9L493.5 444.3L499.8 448.7L493.6 450.1L499.8 454.4L493.7 455.8L499.9 460.2L493.7 461.5L499.9 466L493.8 467.3L500 471.7L493.8 473L500 477.5L493.9 478.7L500.1 483.3L494 484.5L500.2 489L494 490.2L500.2 494.8L494.1 496L500.3 500.6L494.2 501.7L500.3 506.3L494.2 507.4L500.4 512.1L494.3 513.2L500.4 517.9L494.3 518.9L500.5 523.6L494.4 524.6L500.5 529.4L494.5 530.4L500.6 535.2L494.5 536.1L500.6 540.9L494.6 541.8L500.7 546.7L494.6 547.6L500.7 552.5L494.7 553.3L500.8 558.2L494.8 559.1L500.8 564L494.8 564.8L500.9 569.8L494.9 570.5L500.9 575.6L495 576.3L501 581.3L495 582L501 587.1L495.1 587.7L501.1 592.9L495.1 593.5L501.1 598.6L495.2 599.2L501.2 604.4L495.3 604.9L501.2 610.2L495.3 610.7L501.3 615.9L495.4 616.4L501.3 621.7L495.4 622.2L501.4 627.5L495.5 627.9L501.4 633.2L495.6 633.6L501.5 639M498.6 316L505.1 319.6L498.7 321.8L505.1 325.4L498.7 327.5L505.2 331.2L498.8 333.3L505.2 337L498.8 339.1L505.2 342.8L498.9 344.8L505.3 348.6L498.9 350.6L505.3 354.4L499 356.4L505.4 360.2L499 362.1L505.4 366L499.1 367.9L505.4 371.8L499.1 373.7L505.5 377.6L499.2 379.4L505.5 383.4L499.2 385.2L505.6 389.2L499.3 391L505.6 395L499.3 396.8L505.7 400.8L499.4 402.5L505.7 406.6L499.4 408.3L505.7 412.4L499.5 414.1L505.8 418.2L499.5 419.8L505.8 424L499.6 425.6L505.9 429.8L499.6 431.4L505.9 435.6L499.7 437.1L506 441.4L499.7 442.9L506 447.2L499.8 448.7L506 453L499.8 454.4L506.1 458.8L499.9 460.2L506.1 464.6L499.9 466L506.2 470.4L500 471.7L506.2 476.2L500 477.5L506.2 482L500.1 483.3L506.3 487.8L500.2 489L506.3 493.6L500.2 494.8L506.4 499.4L500.3 500.6L506.4 505.2L500.3 506.3L506.5 511L500.4 512.1L506.5 516.8L500.4 517.9L506.5 522.6L500.5 523.6L506.6 528.4L500.5 529.4L506.6 534.2L500.6 535.2L506.7 540L500.6 540.9L506.7 545.8L500.7 546.7L506.7 551.6L500.7 552.5L506.8 557.4L500.8 558.2L506.8 563.2L500.8 564L506.9 569L500.9 569.8L506.9 574.8L500.9 575.6L507 580.6L501 581.3L507 586.4L501 587.1L507 592.2L501.1 592.9L507.1 598L501.1 598.6L507.1 603.8L501.2 604.4L507.2 609.6L501.2 610.2L507.2 615.4L501.3 615.9L507.3 621.2L501.3 621.7L507.3 627L501.4 627.5L507.3 632.8L501.4 633.2L507.4 638.6L501.5 639M511.5 317.5L505.1 319.6L511.5 323.3L505.1 325.4L511.6 329.2L505.2 331.2L511.6 335L505.2 337L511.6 340.8L505.2 342.8L511.7 346.7L505.3 348.6L511.7 352.5L505.3 354.4L511.7 358.3L505.4 360.2L511.8 364.1L505.4 366L511.8 370L505.4 371.8L511.8 375.8L505.5 377.6L511.9 381.6L505.5 383.4L511.9 387.5L505.6 389.2L511.9 393.3L505.6 395L511.9 399.1L505.7 400.8L512 405L505.7 406.6L512 410.8L505.7 412.4L512 416.6L505.8 418.2L512.1 422.4L505.8 424L512.1 428.3L505.9 429.8L512.1 434.1L505.9 435.6L512.2 439.9L506 441.4L512.2 445.8L506 447.2L512.2 451.6L506 453L512.3 457.4L506.1 458.8L512.3 463.3L506.1 464.6L512.3 469.1L506.2 470.4L512.4 474.9L506.2 476.2L512.4 480.8L506.2 482L512.4 486.6L506.3 487.8L512.5 492.4L506.3 493.6L512.5 498.2L506.4 499.4L512.5 504.1L506.4 505.2L512.6 509.9L506.5 511L512.6 515.7L506.5 516.8L512.6 521.6L506.5 522.6L512.7 527.4L506.6 528.4L512.7 533.2L506.6 534.2L512.7 539.1L506.7 540L512.8 544.9L506.7 545.8L512.8 550.7L506.7 551.6L512.8 556.5L506.8 557.4L512.8 562.4L506.8 563.2L512.9 568.2L506.9 569L512.9 574L506.9 574.8L512.9 579.9L507 580.6L513 585.7L507 586.4L513 591.5L507 592.2L513 597.4L507.1 598L513.1 603.2L507.1 603.8L513.1 609L507.2 609.6L513.1 614.8L507.2 615.4L513.2 620.7L507.3 621.2L513.2 626.5L507.3 627L513.2 632.3L507.3 632.8L513.3 638.2L507.4 638.6L513.3 644" fill="none" stroke="#151515" stroke-width="1.12" stroke-linejoin="round"/>
<polygon points="511.5,317.5 534.6,314 537.7,636.5 513.3,644" fill="#989898" stroke="#151515" stroke-width="0.9" />
<path d="M511.5 317.5L511.5 323.3M511.5 323.3L511.6 329.2M511.6 329.2L511.6 335M511.6 335L511.6 340.8M511.6 340.8L511.7 346.7M511.7 346.7L511.7 352.5M511.7 352.5L511.7 358.3M511.7 358.3L511.8 364.1M511.8 364.1L511.8 370M511.8 370L511.8 375.8M511.8 375.8L511.9 381.6M511.9 381.6L511.9 387.5M511.9 387.5L511.9 393.3M511.9 393.3L511.9 399.1M511.9 399.1L512 405M512 405L512 410.8M512 410.8L512 416.6M512 416.6L512.1 422.4M512.1 422.4L512.1 428.3M512.1 428.3L512.1 434.1M512.1 434.1L512.2 439.9M512.2 439.9L512.2 445.8M512.2 445.8L512.2 451.6M512.2 451.6L512.3 457.4M512.3 457.4L512.3 463.3M512.3 463.3L512.3 469.1M512.3 469.1L512.4 474.9M512.4 474.9L512.4 480.8M512.4 480.8L512.4 486.6M512.4 486.6L512.5 492.4M512.5 492.4L512.5 498.2M512.5 498.2L512.5 504.1M512.5 504.1L512.6 509.9M512.6 509.9L512.6 515.7M512.6 515.7L512.6 521.6M512.6 521.6L512.7 527.4M512.7 527.4L512.7 533.2M512.7 533.2L512.7 539.1M512.7 539.1L512.8 544.9M512.8 544.9L512.8 550.7M512.8 550.7L512.8 556.5M512.8 556.5L512.8 562.4M512.8 562.4L512.9 568.2M512.9 568.2L512.9 574M512.9 574L512.9 579.9M512.9 579.9L513 585.7M513 585.7L513 591.5M513 591.5L513 597.4M513 597.4L513.1 603.2M513.1 603.2L513.1 609M513.1 609L513.1 614.8M513.1 614.8L513.2 620.7M513.2 620.7L513.2 626.5M513.2 626.5L513.2 632.3M513.2 632.3L513.3 638.2M513.3 638.2L513.3 644M516.1 316.8L515.7 324M515.7 324L515.6 327.8M515.6 327.8L516.3 333.3M516.3 333.3L516 341.4M516 341.4L517.2 346.6M517.2 346.6L516.7 352.8M516.7 352.8L517.4 357.5M517.4 357.5L516.9 361.9M516.9 361.9L517 368.9M517 368.9L517.1 375.3M517.1 375.3L516 379.6M516 379.6L517.6 385.3M517.6 385.3L516.5 392M516.5 392L516.2 399M516.2 399L517.8 403.1M517.8 403.1L517.1 409.2M517.1 409.2L516.9 415.3M516.9 415.3L516 420.7M516 420.7L516.1 428.6M516.1 428.6L516.8 432.3M516.8 432.3L517.9 440.2M517.9 440.2L516.8 443.7M516.8 443.7L516.2 449.5M516.2 449.5L516.6 455.3M516.6 455.3L516.4 461.6M516.4 461.6L517.2 469.1M517.2 469.1L517.7 473.4M517.7 473.4L516.9 479.8M516.9 479.8L516.9 485.1M516.9 485.1L516.2 490.9M516.2 490.9L518.4 495.7M518.4 495.7L517.3 503.3M517.3 503.3L518.2 507.7M518.2 507.7L516.8 514M516.8 514L517.2 520.3M517.2 520.3L518.5 526.9M518.5 526.9L518.4 530.4M518.4 530.4L516.4 538.7M516.4 538.7L518.5 543.3M518.5 543.3L517.8 547.9M517.8 547.9L517.4 556.6M517.4 556.6L518.5 561.9M518.5 561.9L518.8 565.8M518.8 565.8L516.8 572M516.8 572L517.8 579M517.8 579L518.9 584.7M518.9 584.7L518.2 590.8M518.2 590.8L517.8 596.2M517.8 596.2L516.8 602.9M516.8 602.9L517.3 609M517.3 609L518.3 612.7M518.3 612.7L517.1 618.8M517.1 618.8L518.4 625.5M518.4 625.5L517.2 629.9M517.2 629.9L518.2 636.9M518.2 636.9L518.2 642.5M520.7 316.1L520.5 321.1M520.5 321.1L521 326.2M521 326.2L520.4 333.5M520.4 333.5L522 339.6M522 339.6L521.8 344.9M521.8 344.9L520.4 350.3M520.4 350.3L522.1 357.1M522.1 357.1L520.6 361.2M520.6 361.2L521.1 368.8M521.1 368.8L521 373.4M521 373.4L521.6 381.1M521.6 381.1L520.6 384.5M520.6 384.5L520.9 391.4M520.9 391.4L521.7 396.4M521.7 396.4L522.1 403.7M522.1 403.7L521.4 408.1M521.4 408.1L522.5 414M522.5 414L522.2 419.6M522.2 419.6L520.9 427.2M520.9 427.2L521.1 433.5M521.1 433.5L521.6 437M521.6 437L521 443.6M521 443.6L522.1 450.8M522.1 450.8L520.9 455.2M520.9 455.2L521.1 462.7M521.1 462.7L521 465.8M521 465.8L520.8 472.7M520.8 472.7L522.9 479.4M522.9 479.4L522.5 485.7M522.5 485.7L523 489.4M523 489.4L521.3 497.4M521.3 497.4L522.6 500.3M522.6 500.3L522.5 507.1M522.5 507.1L521.8 512.9M521.8 512.9L521.4 517.9M521.4 517.9L521.7 524.7M521.7 524.7L523.4 529.4M523.4 529.4L523.4 535.4M523.4 535.4L522 543.4M522 543.4L523.2 547.8M523.2 547.8L521.4 554.2M521.4 554.2L522.2 561.1M522.2 561.1L521.8 565.4M521.8 565.4L523.5 569.8M523.5 569.8L522.4 578.1M522.4 578.1L523.3 581.5M523.3 581.5L521.6 587.8M521.6 587.8L523.7 593.6M523.7 593.6L523.4 601.4M523.4 601.4L522.4 605.6M522.4 605.6L524 612M524 612L522.3 618.6M522.3 618.6L522.5 623.1M522.5 623.1L521.8 630.5M521.8 630.5L524 635.3M524 635.3L523.1 641M525.4 315.4L526.4 319.7M526.4 319.7L524.8 327M524.8 327L526.6 333.9M526.6 333.9L525.3 337.9M525.3 337.9L525.4 344.3M525.4 344.3L526.6 349M526.6 349L526.4 356.5M526.4 356.5L526.5 362.4M526.5 362.4L526 366.9M526 366.9L525.4 373M525.4 373L526.5 377.7M526.5 377.7L525.2 385.7M525.2 385.7L525.4 389.5M525.4 389.5L524.9 396.8M524.9 396.8L525.7 403.7M525.7 403.7L527 409.2M527 409.2L525.6 412.7M525.6 412.7L525.2 419.8M525.2 419.8L526.7 425.1M526.7 425.1L525.7 431M525.7 431L526.6 437.4M526.6 437.4L527 443.6M527 443.6L526.8 447.3M526.8 447.3L527.3 453.5M527.3 453.5L526.7 459.7M526.7 459.7L527.1 464.9M527.1 464.9L526 471.1M526 471.1L525.8 478.8M525.8 478.8L526.9 482.7M526.9 482.7L526.5 490.5M526.5 490.5L526.8 494M526.8 494L527.6 500.9M527.6 500.9L528 504.9M528 504.9L526.9 513.1M526.9 513.1L527.8 519M527.8 519L525.9 523.4M525.9 523.4L526.1 528.9M526.1 528.9L528.2 535.3M528.2 535.3L528.2 540.5M528.2 540.5L528.1 546.5M528.1 546.5L526.7 553.6M526.7 553.6L528.4 557M528.4 557L527.6 564.5M527.6 564.5L526.7 569.9M526.7 569.9L526.6 575.2M526.6 575.2L526.9 582.1M526.9 582.1L527.9 586.5M527.9 586.5L526.4 593M526.4 593L528 598M528 598L527.2 604M527.2 604L528.4 610.5M528.4 610.5L526.7 615.5M526.7 615.5L527.5 622.4M527.5 622.4L528.2 626.6M528.2 626.6L527.1 634.5M527.1 634.5L527.9 639.5M530 314.7L529.8 319.9M529.8 319.9L529.6 327.6M529.6 327.6L529.7 332.3M529.7 332.3L529.8 337.6M529.8 337.6L531.1 344.9M531.1 344.9L530 348.5M530 348.5L530.9 354.2M530.9 354.2L529.2 362.2M529.2 362.2L530.3 367.6M530.3 367.6L530.3 373.6M530.3 373.6L530.4 377.2M530.4 377.2L529.5 384.3M529.5 384.3L531 390.9M531 390.9L529.7 396.1M529.7 396.1L530.4 401.4M530.4 401.4L530 406.6M530 406.6L530.9 414.1M530.9 414.1L530 418.8M530 418.8L531.7 425.6M531.7 425.6L530.3 429.2M530.3 429.2L532.1 437.1M532.1 437.1L531 440.4M531 440.4L532.2 446.9M532.2 446.9L532.2 453.4M532.2 453.4L532 457.9M532 457.9L532 463.8M532 463.8L531.1 471.6M531.1 471.6L532.2 475.3M532.2 475.3L530.8 482M530.8 482L531.5 487.6M531.5 487.6L530.6 493.2M530.6 493.2L532.1 500.5M532.1 500.5L530.6 505.7M530.6 505.7L532.3 509.5M532.3 509.5L532.6 515.5M532.6 515.5L532 522.6M532 522.6L532.2 527.7M532.2 527.7L531.7 534.4M531.7 534.4L531.8 540.4M531.8 540.4L531.9 545.5M531.9 545.5L530.9 552.1M530.9 552.1L532.1 556.4M532.1 556.4L532.8 563.6M532.8 563.6L532.1 567.8M532.1 567.8L532.2 573.4M532.2 573.4L531.4 580.3M531.4 580.3L531.4 586.2M531.4 586.2L532.4 590.5M532.4 590.5L532.8 596.3M532.8 596.3L533.1 604M533.1 604L532.6 607.8M532.6 607.8L532.6 614.6M532.6 614.6L533.8 619.3M533.8 619.3L533.6 627.6M533.6 627.6L533.3 633M533.3 633L532.8 638M534.6 314L534.7 319.8M534.7 319.8L534.7 325.5M534.7 325.5L534.8 331.3M534.8 331.3L534.8 337M534.8 337L534.9 342.8M534.9 342.8L534.9 348.6M534.9 348.6L535 354.3M535 354.3L535 360.1M535 360.1L535.1 365.8M535.1 365.8L535.2 371.6M535.2 371.6L535.2 377.3M535.2 377.3L535.3 383.1M535.3 383.1L535.3 388.9M535.3 388.9L535.4 394.6M535.4 394.6L535.4 400.4M535.4 400.4L535.5 406.1M535.5 406.1L535.5 411.9M535.5 411.9L535.6 417.7M535.6 417.7L535.7 423.4M535.7 423.4L535.7 429.2M535.7 429.2L535.8 434.9M535.8 434.9L535.8 440.7M535.8 440.7L535.9 446.5M535.9 446.5L535.9 452.2M535.9 452.2L536 458M536 458L536 463.7M536 463.7L536.1 469.5M536.1 469.5L536.2 475.2M536.2 475.2L536.2 481M536.2 481L536.3 486.8M536.3 486.8L536.3 492.5M536.3 492.5L536.4 498.3M536.4 498.3L536.4 504M536.4 504L536.5 509.8M536.5 509.8L536.5 515.6M536.5 515.6L536.6 521.3M536.6 521.3L536.6 527.1M536.6 527.1L536.7 532.8M536.7 532.8L536.8 538.6M536.8 538.6L536.8 544.4M536.8 544.4L536.9 550.1M536.9 550.1L536.9 555.9M536.9 555.9L537 561.6M537 561.6L537 567.4M537 567.4L537.1 573.2M537.1 573.2L537.1 578.9M537.1 578.9L537.2 584.7M537.2 584.7L537.3 590.4M537.3 590.4L537.3 596.2M537.3 596.2L537.4 601.9M537.4 601.9L537.4 607.7M537.4 607.7L537.5 613.5M537.5 613.5L537.5 619.2M537.5 619.2L537.6 625M537.6 625L537.6 630.7M537.6 630.7L537.7 636.5M511.5 317.5L516.1 316.8M516.1 316.8L520.7 316.1M520.7 316.1L525.4 315.4M525.4 315.4L530 314.7M530 314.7L534.6 314M511.5 323.3L515.7 324M515.7 324L520.5 321.1M520.5 321.1L526.4 319.7M526.4 319.7L529.8 319.9M529.8 319.9L534.7 319.8M511.6 329.2L515.6 327.8M515.6 327.8L521 326.2M521 326.2L524.8 327M524.8 327L529.6 327.6M529.6 327.6L534.7 325.5M511.6 335L516.3 333.3M516.3 333.3L520.4 333.5M520.4 333.5L526.6 333.9M526.6 333.9L529.7 332.3M529.7 332.3L534.8 331.3M511.6 340.8L516 341.4M516 341.4L522 339.6M522 339.6L525.3 337.9M525.3 337.9L529.8 337.6M529.8 337.6L534.8 337M511.7 346.7L517.2 346.6M517.2 346.6L521.8 344.9M521.8 344.9L525.4 344.3M525.4 344.3L531.1 344.9M531.1 344.9L534.9 342.8M511.7 352.5L516.7 352.8M516.7 352.8L520.4 350.3M520.4 350.3L526.6 349M526.6 349L530 348.5M530 348.5L534.9 348.6M511.7 358.3L517.4 357.5M517.4 357.5L522.1 357.1M522.1 357.1L526.4 356.5M526.4 356.5L530.9 354.2M530.9 354.2L535 354.3M511.8 364.1L516.9 361.9M516.9 361.9L520.6 361.2M520.6 361.2L526.5 362.4M526.5 362.4L529.2 362.2M529.2 362.2L535 360.1M511.8 370L517 368.9M517 368.9L521.1 368.8M521.1 368.8L526 366.9M526 366.9L530.3 367.6M530.3 367.6L535.1 365.8M511.8 375.8L517.1 375.3M517.1 375.3L521 373.4M521 373.4L525.4 373M525.4 373L530.3 373.6M530.3 373.6L535.2 371.6M511.9 381.6L516 379.6M516 379.6L521.6 381.1M521.6 381.1L526.5 377.7M526.5 377.7L530.4 377.2M530.4 377.2L535.2 377.3M511.9 387.5L517.6 385.3M517.6 385.3L520.6 384.5M520.6 384.5L525.2 385.7M525.2 385.7L529.5 384.3M529.5 384.3L535.3 383.1M511.9 393.3L516.5 392M516.5 392L520.9 391.4M520.9 391.4L525.4 389.5M525.4 389.5L531 390.9M531 390.9L535.3 388.9M511.9 399.1L516.2 399M516.2 399L521.7 396.4M521.7 396.4L524.9 396.8M524.9 396.8L529.7 396.1M529.7 396.1L535.4 394.6M512 405L517.8 403.1M517.8 403.1L522.1 403.7M522.1 403.7L525.7 403.7M525.7 403.7L530.4 401.4M530.4 401.4L535.4 400.4M512 410.8L517.1 409.2M517.1 409.2L521.4 408.1M521.4 408.1L527 409.2M527 409.2L530 406.6M530 406.6L535.5 406.1M512 416.6L516.9 415.3M516.9 415.3L522.5 414M522.5 414L525.6 412.7M525.6 412.7L530.9 414.1M530.9 414.1L535.5 411.9M512.1 422.4L516 420.7M516 420.7L522.2 419.6M522.2 419.6L525.2 419.8M525.2 419.8L530 418.8M530 418.8L535.6 417.7M512.1 428.3L516.1 428.6M516.1 428.6L520.9 427.2M520.9 427.2L526.7 425.1M526.7 425.1L531.7 425.6M531.7 425.6L535.7 423.4M512.1 434.1L516.8 432.3M516.8 432.3L521.1 433.5M521.1 433.5L525.7 431M525.7 431L530.3 429.2M530.3 429.2L535.7 429.2M512.2 439.9L517.9 440.2M517.9 440.2L521.6 437M521.6 437L526.6 437.4M526.6 437.4L532.1 437.1M532.1 437.1L535.8 434.9M512.2 445.8L516.8 443.7M516.8 443.7L521 443.6M521 443.6L527 443.6M527 443.6L531 440.4M531 440.4L535.8 440.7M512.2 451.6L516.2 449.5M516.2 449.5L522.1 450.8M522.1 450.8L526.8 447.3M526.8 447.3L532.2 446.9M532.2 446.9L535.9 446.5M512.3 457.4L516.6 455.3M516.6 455.3L520.9 455.2M520.9 455.2L527.3 453.5M527.3 453.5L532.2 453.4M532.2 453.4L535.9 452.2M512.3 463.3L516.4 461.6M516.4 461.6L521.1 462.7M521.1 462.7L526.7 459.7M526.7 459.7L532 457.9M532 457.9L536 458M512.3 469.1L517.2 469.1M517.2 469.1L521 465.8M521 465.8L527.1 464.9M527.1 464.9L532 463.8M532 463.8L536 463.7M512.4 474.9L517.7 473.4M517.7 473.4L520.8 472.7M520.8 472.7L526 471.1M526 471.1L531.1 471.6M531.1 471.6L536.1 469.5M512.4 480.8L516.9 479.8M516.9 479.8L522.9 479.4M522.9 479.4L525.8 478.8M525.8 478.8L532.2 475.3M532.2 475.3L536.2 475.2M512.4 486.6L516.9 485.1M516.9 485.1L522.5 485.7M522.5 485.7L526.9 482.7M526.9 482.7L530.8 482M530.8 482L536.2 481M512.5 492.4L516.2 490.9M516.2 490.9L523 489.4M523 489.4L526.5 490.5M526.5 490.5L531.5 487.6M531.5 487.6L536.3 486.8M512.5 498.2L518.4 495.7M518.4 495.7L521.3 497.4M521.3 497.4L526.8 494M526.8 494L530.6 493.2M530.6 493.2L536.3 492.5M512.5 504.1L517.3 503.3M517.3 503.3L522.6 500.3M522.6 500.3L527.6 500.9M527.6 500.9L532.1 500.5M532.1 500.5L536.4 498.3M512.6 509.9L518.2 507.7M518.2 507.7L522.5 507.1M522.5 507.1L528 504.9M528 504.9L530.6 505.7M530.6 505.7L536.4 504M512.6 515.7L516.8 514M516.8 514L521.8 512.9M521.8 512.9L526.9 513.1M526.9 513.1L532.3 509.5M532.3 509.5L536.5 509.8M512.6 521.6L517.2 520.3M517.2 520.3L521.4 517.9M521.4 517.9L527.8 519M527.8 519L532.6 515.5M532.6 515.5L536.5 515.6M512.7 527.4L518.5 526.9M518.5 526.9L521.7 524.7M521.7 524.7L525.9 523.4M525.9 523.4L532 522.6M532 522.6L536.6 521.3M512.7 533.2L518.4 530.4M518.4 530.4L523.4 529.4M523.4 529.4L526.1 528.9M526.1 528.9L532.2 527.7M532.2 527.7L536.6 527.1M512.7 539.1L516.4 538.7M516.4 538.7L523.4 535.4M523.4 535.4L528.2 535.3M528.2 535.3L531.7 534.4M531.7 534.4L536.7 532.8M512.8 544.9L518.5 543.3M518.5 543.3L522 543.4M522 543.4L528.2 540.5M528.2 540.5L531.8 540.4M531.8 540.4L536.8 538.6M512.8 550.7L517.8 547.9M517.8 547.9L523.2 547.8M523.2 547.8L528.1 546.5M528.1 546.5L531.9 545.5M531.9 545.5L536.8 544.4M512.8 556.5L517.4 556.6M517.4 556.6L521.4 554.2M521.4 554.2L526.7 553.6M526.7 553.6L530.9 552.1M530.9 552.1L536.9 550.1M512.8 562.4L518.5 561.9M518.5 561.9L522.2 561.1M522.2 561.1L528.4 557M528.4 557L532.1 556.4M532.1 556.4L536.9 555.9M512.9 568.2L518.8 565.8M518.8 565.8L521.8 565.4M521.8 565.4L527.6 564.5M527.6 564.5L532.8 563.6M532.8 563.6L537 561.6M512.9 574L516.8 572M516.8 572L523.5 569.8M523.5 569.8L526.7 569.9M526.7 569.9L532.1 567.8M532.1 567.8L537 567.4M512.9 579.9L517.8 579M517.8 579L522.4 578.1M522.4 578.1L526.6 575.2M526.6 575.2L532.2 573.4M532.2 573.4L537.1 573.2M513 585.7L518.9 584.7M518.9 584.7L523.3 581.5M523.3 581.5L526.9 582.1M526.9 582.1L531.4 580.3M531.4 580.3L537.1 578.9M513 591.5L518.2 590.8M518.2 590.8L521.6 587.8M521.6 587.8L527.9 586.5M527.9 586.5L531.4 586.2M531.4 586.2L537.2 584.7M513 597.4L517.8 596.2M517.8 596.2L523.7 593.6M523.7 593.6L526.4 593M526.4 593L532.4 590.5M532.4 590.5L537.3 590.4M513.1 603.2L516.8 602.9M516.8 602.9L523.4 601.4M523.4 601.4L528 598M528 598L532.8 596.3M532.8 596.3L537.3 596.2M513.1 609L517.3 609M517.3 609L522.4 605.6M522.4 605.6L527.2 604M527.2 604L533.1 604M533.1 604L537.4 601.9M513.1 614.8L518.3 612.7M518.3 612.7L524 612M524 612L528.4 610.5M528.4 610.5L532.6 607.8M532.6 607.8L537.4 607.7M513.2 620.7L517.1 618.8M517.1 618.8L522.3 618.6M522.3 618.6L526.7 615.5M526.7 615.5L532.6 614.6M532.6 614.6L537.5 613.5M513.2 626.5L518.4 625.5M518.4 625.5L522.5 623.1M522.5 623.1L527.5 622.4M527.5 622.4L533.8 619.3M533.8 619.3L537.5 619.2M513.2 632.3L517.2 629.9M517.2 629.9L521.8 630.5M521.8 630.5L528.2 626.6M528.2 626.6L533.6 627.6M533.6 627.6L537.6 625M513.3 638.2L518.2 636.9M518.2 636.9L524 635.3M524 635.3L527.1 634.5M527.1 634.5L533.3 633M533.3 633L537.6 630.7M513.3 644L518.2 642.5M518.2 642.5L523.1 641M523.1 641L527.9 639.5M527.9 639.5L532.8 638M532.8 638L537.7 636.5M511.5 317.5L515.7 324M516.1 316.8L511.5 323.3M511.5 323.3L515.6 327.8M515.7 324L511.6 329.2M511.6 329.2L516.3 333.3M515.6 327.8L511.6 335M511.6 335L516 341.4M516.3 333.3L511.6 340.8M511.6 340.8L517.2 346.6M516 341.4L511.7 346.7M511.7 346.7L516.7 352.8M517.2 346.6L511.7 352.5M511.7 352.5L517.4 357.5M516.7 352.8L511.7 358.3M511.7 358.3L516.9 361.9M517.4 357.5L511.8 364.1M511.8 364.1L517 368.9M516.9 361.9L511.8 370M511.8 370L517.1 375.3M517 368.9L511.8 375.8M511.8 375.8L516 379.6M517.1 375.3L511.9 381.6M511.9 381.6L517.6 385.3M516 379.6L511.9 387.5M511.9 387.5L516.5 392M517.6 385.3L511.9 393.3M511.9 393.3L516.2 399M516.5 392L511.9 399.1M511.9 399.1L517.8 403.1M516.2 399L512 405M512 405L517.1 409.2M517.8 403.1L512 410.8M512 410.8L516.9 415.3M517.1 409.2L512 416.6M512 416.6L516 420.7M516.9 415.3L512.1 422.4M512.1 422.4L516.1 428.6M516 420.7L512.1 428.3M512.1 428.3L516.8 432.3M516.1 428.6L512.1 434.1M512.1 434.1L517.9 440.2M516.8 432.3L512.2 439.9M512.2 439.9L516.8 443.7M517.9 440.2L512.2 445.8M512.2 445.8L516.2 449.5M516.8 443.7L512.2 451.6M512.2 451.6L516.6 455.3M516.2 449.5L512.3 457.4M512.3 457.4L516.4 461.6M516.6 455.3L512.3 463.3M512.3 463.3L517.2 469.1M516.4 461.6L512.3 469.1M512.3 469.1L517.7 473.4M517.2 469.1L512.4 474.9M512.4 474.9L516.9 479.8M517.7 473.4L512.4 480.8M512.4 480.8L516.9 485.1M516.9 479.8L512.4 486.6M512.4 486.6L516.2 490.9M516.9 485.1L512.5 492.4M512.5 492.4L518.4 495.7M516.2 490.9L512.5 498.2M512.5 498.2L517.3 503.3M518.4 495.7L512.5 504.1M512.5 504.1L518.2 507.7M517.3 503.3L512.6 509.9M512.6 509.9L516.8 514M518.2 507.7L512.6 515.7M512.6 515.7L517.2 520.3M516.8 514L512.6 521.6M512.6 521.6L518.5 526.9M517.2 520.3L512.7 527.4M512.7 527.4L518.4 530.4M518.5 526.9L512.7 533.2M512.7 533.2L516.4 538.7M518.4 530.4L512.7 539.1M512.7 539.1L518.5 543.3M516.4 538.7L512.8 544.9M512.8 544.9L517.8 547.9M518.5 543.3L512.8 550.7M512.8 550.7L517.4 556.6M517.8 547.9L512.8 556.5M512.8 556.5L518.5 561.9M517.4 556.6L512.8 562.4M512.8 562.4L518.8 565.8M518.5 561.9L512.9 568.2M512.9 568.2L516.8 572M518.8 565.8L512.9 574M512.9 574L517.8 579M516.8 572L512.9 579.9M512.9 579.9L518.9 584.7M517.8 579L513 585.7M513 585.7L518.2 590.8M518.9 584.7L513 591.5M513 591.5L517.8 596.2M518.2 590.8L513 597.4M513 597.4L516.8 602.9M517.8 596.2L513.1 603.2M513.1 603.2L517.3 609M516.8 602.9L513.1 609M513.1 609L518.3 612.7M517.3 609L513.1 614.8M513.1 614.8L517.1 618.8M518.3 612.7L513.2 620.7M513.2 620.7L518.4 625.5M517.1 618.8L513.2 626.5M513.2 626.5L517.2 629.9M518.4 625.5L513.2 632.3M513.2 632.3L518.2 636.9M517.2 629.9L513.3 638.2M513.3 638.2L518.2 642.5M518.2 636.9L513.3 644M516.1 316.8L520.5 321.1M520.7 316.1L515.7 324M515.7 324L521 326.2M520.5 321.1L515.6 327.8M515.6 327.8L520.4 333.5M521 326.2L516.3 333.3M516.3 333.3L522 339.6M520.4 333.5L516 341.4M516 341.4L521.8 344.9M522 339.6L517.2 346.6M517.2 346.6L520.4 350.3M521.8 344.9L516.7 352.8M516.7 352.8L522.1 357.1M520.4 350.3L517.4 357.5M517.4 357.5L520.6 361.2M522.1 357.1L516.9 361.9M516.9 361.9L521.1 368.8M520.6 361.2L517 368.9M517 368.9L521 373.4M521.1 368.8L517.1 375.3M517.1 375.3L521.6 381.1M521 373.4L516 379.6M516 379.6L520.6 384.5M521.6 381.1L517.6 385.3M517.6 385.3L520.9 391.4M520.6 384.5L516.5 392M516.5 392L521.7 396.4M520.9 391.4L516.2 399M516.2 399L522.1 403.7M521.7 396.4L517.8 403.1M517.8 403.1L521.4 408.1M522.1 403.7L517.1 409.2M517.1 409.2L522.5 414M521.4 408.1L516.9 415.3M516.9 415.3L522.2 419.6M522.5 414L516 420.7M516 420.7L520.9 427.2M522.2 419.6L516.1 428.6M516.1 428.6L521.1 433.5M520.9 427.2L516.8 432.3M516.8 432.3L521.6 437M521.1 433.5L517.9 440.2M517.9 440.2L521 443.6M521.6 437L516.8 443.7M516.8 443.7L522.1 450.8M521 443.6L516.2 449.5M516.2 449.5L520.9 455.2M522.1 450.8L516.6 455.3M516.6 455.3L521.1 462.7M520.9 455.2L516.4 461.6M516.4 461.6L521 465.8M521.1 462.7L517.2 469.1M517.2 469.1L520.8 472.7M521 465.8L517.7 473.4M517.7 473.4L522.9 479.4M520.8 472.7L516.9 479.8M516.9 479.8L522.5 485.7M522.9 479.4L516.9 485.1M516.9 485.1L523 489.4M522.5 485.7L516.2 490.9M516.2 490.9L521.3 497.4M523 489.4L518.4 495.7M518.4 495.7L522.6 500.3M521.3 497.4L517.3 503.3M517.3 503.3L522.5 507.1M522.6 500.3L518.2 507.7M518.2 507.7L521.8 512.9M522.5 507.1L516.8 514M516.8 514L521.4 517.9M521.8 512.9L517.2 520.3M517.2 520.3L521.7 524.7M521.4 517.9L518.5 526.9M518.5 526.9L523.4 529.4M521.7 524.7L518.4 530.4M518.4 530.4L523.4 535.4M523.4 529.4L516.4 538.7M516.4 538.7L522 543.4M523.4 535.4L518.5 543.3M518.5 543.3L523.2 547.8M522 543.4L517.8 547.9M517.8 547.9L521.4 554.2M523.2 547.8L517.4 556.6M517.4 556.6L522.2 561.1M521.4 554.2L518.5 561.9M518.5 561.9L521.8 565.4M522.2 561.1L518.8 565.8M518.8 565.8L523.5 569.8M521.8 565.4L516.8 572M516.8 572L522.4 578.1M523.5 569.8L517.8 579M517.8 579L523.3 581.5M522.4 578.1L518.9 584.7M518.9 584.7L521.6 587.8M523.3 581.5L518.2 590.8M518.2 590.8L523.7 593.6M521.6 587.8L517.8 596.2M517.8 596.2L523.4 601.4M523.7 593.6L516.8 602.9M516.8 602.9L522.4 605.6M523.4 601.4L517.3 609M517.3 609L524 612M522.4 605.6L518.3 612.7M518.3 612.7L522.3 618.6M524 612L517.1 618.8M517.1 618.8L522.5 623.1M522.3 618.6L518.4 625.5M518.4 625.5L521.8 630.5M522.5 623.1L517.2 629.9M517.2 629.9L524 635.3M521.8 630.5L518.2 636.9M518.2 636.9L523.1 641M524 635.3L518.2 642.5M520.7 316.1L526.4 319.7M525.4 315.4L520.5 321.1M520.5 321.1L524.8 327M526.4 319.7L521 326.2M521 326.2L526.6 333.9M524.8 327L520.4 333.5M520.4 333.5L525.3 337.9M526.6 333.9L522 339.6M522 339.6L525.4 344.3M525.3 337.9L521.8 344.9M521.8 344.9L526.6 349M525.4 344.3L520.4 350.3M520.4 350.3L526.4 356.5M526.6 349L522.1 357.1M522.1 357.1L526.5 362.4M526.4 356.5L520.6 361.2M520.6 361.2L526 366.9M526.5 362.4L521.1 368.8M521.1 368.8L525.4 373M526 366.9L521 373.4M521 373.4L526.5 377.7M525.4 373L521.6 381.1M521.6 381.1L525.2 385.7M526.5 377.7L520.6 384.5M520.6 384.5L525.4 389.5M525.2 385.7L520.9 391.4M520.9 391.4L524.9 396.8M525.4 389.5L521.7 396.4M521.7 396.4L525.7 403.7M524.9 396.8L522.1 403.7M522.1 403.7L527 409.2M525.7 403.7L521.4 408.1M521.4 408.1L525.6 412.7M527 409.2L522.5 414M522.5 414L525.2 419.8M525.6 412.7L522.2 419.6M522.2 419.6L526.7 425.1M525.2 419.8L520.9 427.2M520.9 427.2L525.7 431M526.7 425.1L521.1 433.5M521.1 433.5L526.6 437.4M525.7 431L521.6 437M521.6 437L527 443.6M526.6 437.4L521 443.6M521 443.6L526.8 447.3M527 443.6L522.1 450.8M522.1 450.8L527.3 453.5M526.8 447.3L520.9 455.2M520.9 455.2L526.7 459.7M527.3 453.5L521.1 462.7M521.1 462.7L527.1 464.9M526.7 459.7L521 465.8M521 465.8L526 471.1M527.1 464.9L520.8 472.7M520.8 472.7L525.8 478.8M526 471.1L522.9 479.4M522.9 479.4L526.9 482.7M525.8 478.8L522.5 485.7M522.5 485.7L526.5 490.5M526.9 482.7L523 489.4M523 489.4L526.8 494M526.5 490.5L521.3 497.4M521.3 497.4L527.6 500.9M526.8 494L522.6 500.3M522.6 500.3L528 504.9M527.6 500.9L522.5 507.1M522.5 507.1L526.9 513.1M528 504.9L521.8 512.9M521.8 512.9L527.8 519M526.9 513.1L521.4 517.9M521.4 517.9L525.9 523.4M527.8 519L521.7 524.7M521.7 524.7L526.1 528.9M525.9 523.4L523.4 529.4M523.4 529.4L528.2 535.3M526.1 528.9L523.4 535.4M523.4 535.4L528.2 540.5M528.2 535.3L522 543.4M522 543.4L528.1 546.5M528.2 540.5L523.2 547.8M523.2 547.8L526.7 553.6M528.1 546.5L521.4 554.2M521.4 554.2L528.4 557M526.7 553.6L522.2 561.1M522.2 561.1L527.6 564.5M528.4 557L521.8 565.4M521.8 565.4L526.7 569.9M527.6 564.5L523.5 569.8M523.5 569.8L526.6 575.2M526.7 569.9L522.4 578.1M522.4 578.1L526.9 582.1M526.6 575.2L523.3 581.5M523.3 581.5L527.9 586.5M526.9 582.1L521.6 587.8M521.6 587.8L526.4 593M527.9 586.5L523.7 593.6M523.7 593.6L528 598M526.4 593L523.4 601.4M523.4 601.4L527.2 604M528 598L522.4 605.6M522.4 605.6L528.4 610.5M527.2 604L524 612M524 612L526.7 615.5M528.4 610.5L522.3 618.6M522.3 618.6L527.5 622.4M526.7 615.5L522.5 623.1M522.5 623.1L528.2 626.6M527.5 622.4L521.8 630.5M521.8 630.5L527.1 634.5M528.2 626.6L524 635.3M524 635.3L527.9 639.5M527.1 634.5L523.1 641M525.4 315.4L529.8 319.9M530 314.7L526.4 319.7M526.4 319.7L529.6 327.6M529.8 319.9L524.8 327M524.8 327L529.7 332.3M529.6 327.6L526.6 333.9M526.6 333.9L529.8 337.6M529.7 332.3L525.3 337.9M525.3 337.9L531.1 344.9M529.8 337.6L525.4 344.3M525.4 344.3L530 348.5M531.1 344.9L526.6 349M526.6 349L530.9 354.2M530 348.5L526.4 356.5M526.4 356.5L529.2 362.2M530.9 354.2L526.5 362.4M526.5 362.4L530.3 367.6M529.2 362.2L526 366.9M526 366.9L530.3 373.6M530.3 367.6L525.4 373M525.4 373L530.4 377.2M530.3 373.6L526.5 377.7M526.5 377.7L529.5 384.3M530.4 377.2L525.2 385.7M525.2 385.7L531 390.9M529.5 384.3L525.4 389.5M525.4 389.5L529.7 396.1M531 390.9L524.9 396.8M524.9 396.8L530.4 401.4M529.7 396.1L525.7 403.7M525.7 403.7L530 406.6M530.4 401.4L527 409.2M527 409.2L530.9 414.1M530 406.6L525.6 412.7M525.6 412.7L530 418.8M530.9 414.1L525.2 419.8M525.2 419.8L531.7 425.6M530 418.8L526.7 425.1M526.7 425.1L530.3 429.2M531.7 425.6L525.7 431M525.7 431L532.1 437.1M530.3 429.2L526.6 437.4M526.6 437.4L531 440.4M532.1 437.1L527 443.6M527 443.6L532.2 446.9M531 440.4L526.8 447.3M526.8 447.3L532.2 453.4M532.2 446.9L527.3 453.5M527.3 453.5L532 457.9M532.2 453.4L526.7 459.7M526.7 459.7L532 463.8M532 457.9L527.1 464.9M527.1 464.9L531.1 471.6M532 463.8L526 471.1M526 471.1L532.2 475.3M531.1 471.6L525.8 478.8M525.8 478.8L530.8 482M532.2 475.3L526.9 482.7M526.9 482.7L531.5 487.6M530.8 482L526.5 490.5M526.5 490.5L530.6 493.2M531.5 487.6L526.8 494M526.8 494L532.1 500.5M530.6 493.2L527.6 500.9M527.6 500.9L530.6 505.7M532.1 500.5L528 504.9M528 504.9L532.3 509.5M530.6 505.7L526.9 513.1M526.9 513.1L532.6 515.5M532.3 509.5L527.8 519M527.8 519L532 522.6M532.6 515.5L525.9 523.4M525.9 523.4L532.2 527.7M532 522.6L526.1 528.9M526.1 528.9L531.7 534.4M532.2 527.7L528.2 535.3M528.2 535.3L531.8 540.4M531.7 534.4L528.2 540.5M528.2 540.5L531.9 545.5M531.8 540.4L528.1 546.5M528.1 546.5L530.9 552.1M531.9 545.5L526.7 553.6M526.7 553.6L532.1 556.4M530.9 552.1L528.4 557M528.4 557L532.8 563.6M532.1 556.4L527.6 564.5M527.6 564.5L532.1 567.8M532.8 563.6L526.7 569.9M526.7 569.9L532.2 573.4M532.1 567.8L526.6 575.2M526.6 575.2L531.4 580.3M532.2 573.4L526.9 582.1M526.9 582.1L531.4 586.2M531.4 580.3L527.9 586.5M527.9 586.5L532.4 590.5M531.4 586.2L526.4 593M526.4 593L532.8 596.3M532.4 590.5L528 598M528 598L533.1 604M532.8 596.3L527.2 604M527.2 604L532.6 607.8M533.1 604L528.4 610.5M528.4 610.5L532.6 614.6M532.6 607.8L526.7 615.5M526.7 615.5L533.8 619.3M532.6 614.6L527.5 622.4M527.5 622.4L533.6 627.6M533.8 619.3L528.2 626.6M528.2 626.6L533.3 633M533.6 627.6L527.1 634.5M527.1 634.5L532.8 638M533.3 633L527.9 639.5M530 314.7L534.7 319.8M534.6 314L529.8 319.9M529.8 319.9L534.7 325.5M534.7 319.8L529.6 327.6M529.6 327.6L534.8 331.3M534.7 325.5L529.7 332.3M529.7 332.3L534.8 337M534.8 331.3L529.8 337.6M529.8 337.6L534.9 342.8M534.8 337L531.1 344.9M531.1 344.9L534.9 348.6M534.9 342.8L530 348.5M530 348.5L535 354.3M534.9 348.6L530.9 354.2M530.9 354.2L535 360.1M535 354.3L529.2 362.2M529.2 362.2L535.1 365.8M535 360.1L530.3 367.6M530.3 367.6L535.2 371.6M535.1 365.8L530.3 373.6M530.3 373.6L535.2 377.3M535.2 371.6L530.4 377.2M530.4 377.2L535.3 383.1M535.2 377.3L529.5 384.3M529.5 384.3L535.3 388.9M535.3 383.1L531 390.9M531 390.9L535.4 394.6M535.3 388.9L529.7 396.1M529.7 396.1L535.4 400.4M535.4 394.6L530.4 401.4M530.4 401.4L535.5 406.1M535.4 400.4L530 406.6M530 406.6L535.5 411.9M535.5 406.1L530.9 414.1M530.9 414.1L535.6 417.7M535.5 411.9L530 418.8M530 418.8L535.7 423.4M535.6 417.7L531.7 425.6M531.7 425.6L535.7 429.2M535.7 423.4L530.3 429.2M530.3 429.2L535.8 434.9M535.7 429.2L532.1 437.1M532.1 437.1L535.8 440.7M535.8 434.9L531 440.4M531 440.4L535.9 446.5M535.8 440.7L532.2 446.9M532.2 446.9L535.9 452.2M535.9 446.5L532.2 453.4M532.2 453.4L536 458M535.9 452.2L532 457.9M532 457.9L536 463.7M536 458L532 463.8M532 463.8L536.1 469.5M536 463.7L531.1 471.6M531.1 471.6L536.2 475.2M536.1 469.5L532.2 475.3M532.2 475.3L536.2 481M536.2 475.2L530.8 482M530.8 482L536.3 486.8M536.2 481L531.5 487.6M531.5 487.6L536.3 492.5M536.3 486.8L530.6 493.2M530.6 493.2L536.4 498.3M536.3 492.5L532.1 500.5M532.1 500.5L536.4 504M536.4 498.3L530.6 505.7M530.6 505.7L536.5 509.8M536.4 504L532.3 509.5M532.3 509.5L536.5 515.6M536.5 509.8L532.6 515.5M532.6 515.5L536.6 521.3M536.5 515.6L532 522.6M532 522.6L536.6 527.1M536.6 521.3L532.2 527.7M532.2 527.7L536.7 532.8M536.6 527.1L531.7 534.4M531.7 534.4L536.8 538.6M536.7 532.8L531.8 540.4M531.8 540.4L536.8 544.4M536.8 538.6L531.9 545.5M531.9 545.5L536.9 550.1M536.8 544.4L530.9 552.1M530.9 552.1L536.9 555.9M536.9 550.1L532.1 556.4M532.1 556.4L537 561.6M536.9 555.9L532.8 563.6M532.8 563.6L537 567.4M537 561.6L532.1 567.8M532.1 567.8L537.1 573.2M537 567.4L532.2 573.4M532.2 573.4L537.1 578.9M537.1 573.2L531.4 580.3M531.4 580.3L537.2 584.7M537.1 578.9L531.4 586.2M531.4 586.2L537.3 590.4M537.2 584.7L532.4 590.5M532.4 590.5L537.3 596.2M537.3 590.4L532.8 596.3M532.8 596.3L537.4 601.9M537.3 596.2L533.1 604M533.1 604L537.4 607.7M537.4 601.9L532.6 607.8M532.6 607.8L537.5 613.5M537.4 607.7L532.6 614.6M532.6 614.6L537.5 619.2M537.5 613.5L533.8 619.3M533.8 619.3L537.6 625M537.5 619.2L533.6 627.6M533.6 627.6L537.6 630.7M537.6 625L533.3 633M533.3 633L537.7 636.5M537.6 630.7L532.8 638" fill="none" stroke="#151515" stroke-width="0.9"/>
<ellipse cx="521.3" cy="332.3" rx="1.7" ry="2.6" fill="#d8d8d8" stroke="#222" stroke-width="0.8"/>
<ellipse cx="521.6" cy="364.8" rx="1.7" ry="2.6" fill="#d8d8d8" stroke="#222" stroke-width="0.8"/>
<ellipse cx="521.8" cy="397.2" rx="1.7" ry="2.6" fill="#d8d8d8" stroke="#222" stroke-width="0.8"/>
<ellipse cx="522" cy="429.7" rx="1.7" ry="2.6" fill="#d8d8d8" stroke="#222" stroke-width="0.8"/>
<ellipse cx="522.3" cy="462.2" rx="1.7" ry="2.6" fill="#d8d8d8" stroke="#222" stroke-width="0.8"/>
<ellipse cx="522.5" cy="494.7" rx="1.7" ry="2.6" fill="#d8d8d8" stroke="#222" stroke-width="0.8"/>
<ellipse cx="522.7" cy="527.2" rx="1.7" ry="2.6" fill="#d8d8d8" stroke="#222" stroke-width="0.8"/>
<ellipse cx="523" cy="559.6" rx="1.7" ry="2.6" fill="#d8d8d8" stroke="#222" stroke-width="0.8"/>
<ellipse cx="523.2" cy="592.1" rx="1.7" ry="2.6" fill="#d8d8d8" stroke="#222" stroke-width="0.8"/>
<ellipse cx="523.4" cy="624.6" rx="1.7" ry="2.6" fill="#d8d8d8" stroke="#222" stroke-width="0.8"/>
<line x1="524.3" y1="612" x2="524.5" y2="638" stroke="#1a1a1a" stroke-width="1.2" />
<polygon points="485.7,314.5 511.5,318 534.6,314 508,311.2" fill="#b5b5b5" stroke="#151515" stroke-width="0.8" />
<polygon points="496.8,245 513.5,245 513.5,316 496.8,313.5" fill="#d2d2d2" stroke="#151515" stroke-width="1.1" />
<path d="M496.8 245L496.8 252.6M496.8 252.6L496.8 260.2M496.8 260.2L496.8 267.8M496.8 267.8L496.8 275.4M496.8 275.4L496.8 283.1M496.8 283.1L496.8 290.7M496.8 290.7L496.8 298.3M496.8 298.3L496.8 305.9M496.8 305.9L496.8 313.5M502.4 245L502.4 252.7M502.4 252.7L502.4 260.4M502.4 260.4L502.4 268.1M502.4 268.1L502.4 275.8M502.4 275.8L502.4 283.5M502.4 283.5L502.4 291.2M502.4 291.2L502.4 298.9M502.4 298.9L502.4 306.6M502.4 306.6L502.4 314.3M507.9 245L507.9 252.8M507.9 252.8L507.9 260.6M507.9 260.6L507.9 268.4M507.9 268.4L507.9 276.2M507.9 276.2L507.9 284M507.9 284L507.9 291.8M507.9 291.8L507.9 299.6M507.9 299.6L507.9 307.4M507.9 307.4L507.9 315.2M513.5 245L513.5 252.9M513.5 252.9L513.5 260.8M513.5 260.8L513.5 268.7M513.5 268.7L513.5 276.6M513.5 276.6L513.5 284.4M513.5 284.4L513.5 292.3M513.5 292.3L513.5 300.2M513.5 300.2L513.5 308.1M513.5 308.1L513.5 316M496.8 245L502.4 245M502.4 245L507.9 245M507.9 245L513.5 245M496.8 252.6L502.4 252.7M502.4 252.7L507.9 252.8M507.9 252.8L513.5 252.9M496.8 260.2L502.4 260.4M502.4 260.4L507.9 260.6M507.9 260.6L513.5 260.8M496.8 267.8L502.4 268.1M502.4 268.1L507.9 268.4M507.9 268.4L513.5 268.7M496.8 275.4L502.4 275.8M502.4 275.8L507.9 276.2M507.9 276.2L513.5 276.6M496.8 283.1L502.4 283.5M502.4 283.5L507.9 284M507.9 284L513.5 284.4M496.8 290.7L502.4 291.2M502.4 291.2L507.9 291.8M507.9 291.8L513.5 292.3M496.8 298.3L502.4 298.9M502.4 298.9L507.9 299.6M507.9 299.6L513.5 300.2M496.8 305.9L502.4 306.6M502.4 306.6L507.9 307.4M507.9 307.4L513.5 308.1M496.8 313.5L502.4 314.3M502.4 314.3L507.9 315.2M507.9 315.2L513.5 316M496.8 245L502.4 252.7M496.8 252.6L502.4 260.4M496.8 260.2L502.4 268.1M496.8 267.8L502.4 275.8M496.8 275.4L502.4 283.5M496.8 283.1L502.4 291.2M496.8 290.7L502.4 298.9M496.8 298.3L502.4 306.6M496.8 305.9L502.4 314.3M502.4 245L507.9 252.8M502.4 252.7L507.9 260.6M502.4 260.4L507.9 268.4M502.4 268.1L507.9 276.2M502.4 275.8L507.9 284M502.4 283.5L507.9 291.8M502.4 291.2L507.9 299.6M502.4 298.9L507.9 307.4M502.4 306.6L507.9 315.2M507.9 245L513.5 252.9M507.9 252.8L513.5 260.8M507.9 260.6L513.5 268.7M507.9 268.4L513.5 276.6M507.9 276.2L513.5 284.4M507.9 284L513.5 292.3M507.9 291.8L513.5 300.2M507.9 299.6L513.5 308.1M507.9 307.4L513.5 316" fill="none" stroke="#151515" stroke-width="1.1"/>
<polygon points="513.5,245 522.3,245 522.3,313.5 513.5,316" fill="#bababa" stroke="#151515" stroke-width="1.1" />
<path d="M513.5 245L513.5 252.9M513.5 252.9L513.5 260.8M513.5 260.8L513.5 268.7M513.5 268.7L513.5 276.6M513.5 276.6L513.5 284.4M513.5 284.4L513.5 292.3M513.5 292.3L513.5 300.2M513.5 300.2L513.5 308.1M513.5 308.1L513.5 316M522.3 245L522.3 252.6M522.3 252.6L522.3 260.2M522.3 260.2L522.3 267.8M522.3 267.8L522.3 275.4M522.3 275.4L522.3 283.1M522.3 283.1L522.3 290.7M522.3 290.7L522.3 298.3M522.3 298.3L522.3 305.9M522.3 305.9L522.3 313.5M513.5 245L522.3 245M513.5 252.9L522.3 252.6M513.5 260.8L522.3 260.2M513.5 268.7L522.3 267.8M513.5 276.6L522.3 275.4M513.5 284.4L522.3 283.1M513.5 292.3L522.3 290.7M513.5 300.2L522.3 298.3M513.5 308.1L522.3 305.9M513.5 316L522.3 313.5M513.5 245L522.3 252.6M513.5 252.9L522.3 260.2M513.5 260.8L522.3 267.8M513.5 268.7L522.3 275.4M513.5 276.6L522.3 283.1M513.5 284.4L522.3 290.7M513.5 292.3L522.3 298.3M513.5 300.2L522.3 305.9M513.5 308.1L522.3 313.5" fill="none" stroke="#151515" stroke-width="1.1"/>
<polygon points="326.2,8.3 346.8,3.2 403,17.1 382.4,20.9" fill="#5a8672" stroke="#13241d" stroke-width="0.8" />
<path d="M326.2 8.3L354.3 14.6M354.3 14.6L382.4 20.9M329.6 7.5L357.7 13.9M357.7 13.9L385.8 20.3M333.1 6.6L361.2 13.1M361.2 13.1L389.3 19.6M336.5 5.8L364.6 12.4M364.6 12.4L392.7 19M339.9 4.9L368 11.6M368 11.6L396.1 18.4M343.4 4L371.5 10.9M371.5 10.9L399.6 17.7M346.8 3.2L374.9 10.2M374.9 10.2L403 17.1M326.2 8.3L329.6 7.5M329.6 7.5L333.1 6.6M333.1 6.6L336.5 5.8M336.5 5.8L339.9 4.9M339.9 4.9L343.4 4M343.4 4L346.8 3.2M354.3 14.6L357.7 13.9M357.7 13.9L361.2 13.1M361.2 13.1L364.6 12.4M364.6 12.4L368 11.6M368 11.6L371.5 10.9M371.5 10.9L374.9 10.2M382.4 20.9L385.8 20.3M385.8 20.3L389.3 19.6M389.3 19.6L392.7 19M392.7 19L396.1 18.4M396.1 18.4L399.6 17.7M399.6 17.7L403 17.1M326.2 8.3L357.7 13.9M357.7 13.9L382.4 20.9M333.1 6.6L357.7 13.9M357.7 13.9L389.3 19.6M333.1 6.6L364.6 12.4M364.6 12.4L389.3 19.6M339.9 4.9L364.6 12.4M364.6 12.4L396.1 18.4M339.9 4.9L371.5 10.9M371.5 10.9L396.1 18.4M346.8 3.2L371.5 10.9M371.5 10.9L403 17.1" fill="none" stroke="#13241d" stroke-width="0.8"/>
<polygon points="382.4,20.9 403,17.1 405,173.2 384.3,175.2" fill="#4b7663" stroke="#13241d" stroke-width="1.0" />
<path d="M382.4 20.9L382.5 30.5M382.5 30.5L382.6 40.2M382.6 40.2L382.8 49.8M382.8 49.8L382.9 59.5M382.9 59.5L383 69.1M383 69.1L383.1 78.8M383.1 78.8L383.2 88.4M383.2 88.4L383.4 98M383.4 98L383.5 107.7M383.5 107.7L383.6 117.3M383.6 117.3L383.7 127M383.7 127L383.8 136.6M383.8 136.6L383.9 146.3M383.9 146.3L384.1 155.9M384.1 155.9L384.2 165.6M384.2 165.6L384.3 175.2M392.7 19L392.8 28.7M392.8 28.7L392.9 38.4M392.9 38.4L393.1 48.1M393.1 48.1L393.2 57.8M393.2 57.8L393.3 67.5M393.3 67.5L393.4 77.2M393.4 77.2L393.6 86.9M393.6 86.9L393.7 96.6M393.7 96.6L393.8 106.3M393.8 106.3L393.9 116M393.9 116L394 125.7M394 125.7L394.2 135.4M394.2 135.4L394.3 145.1M394.3 145.1L394.4 154.8M394.4 154.8L394.5 164.5M394.5 164.5L394.6 174.2M403 17.1L403.1 26.9M403.1 26.9L403.2 36.6M403.2 36.6L403.4 46.4M403.4 46.4L403.5 56.1M403.5 56.1L403.6 65.9M403.6 65.9L403.8 75.6M403.8 75.6L403.9 85.4M403.9 85.4L404 95.2M404 95.2L404.1 104.9M404.1 104.9L404.2 114.7M404.2 114.7L404.4 124.4M404.4 124.4L404.5 134.2M404.5 134.2L404.6 143.9M404.6 143.9L404.8 153.7M404.8 153.7L404.9 163.4M404.9 163.4L405 173.2M382.4 20.9L392.7 19M392.7 19L403 17.1M382.5 30.5L392.8 28.7M392.8 28.7L403.1 26.9M382.6 40.2L392.9 38.4M392.9 38.4L403.2 36.6M382.8 49.8L393.1 48.1M393.1 48.1L403.4 46.4M382.9 59.5L393.2 57.8M393.2 57.8L403.5 56.1M383 69.1L393.3 67.5M393.3 67.5L403.6 65.9M383.1 78.8L393.4 77.2M393.4 77.2L403.8 75.6M383.2 88.4L393.6 86.9M393.6 86.9L403.9 85.4M383.4 98L393.7 96.6M393.7 96.6L404 95.2M383.5 107.7L393.8 106.3M393.8 106.3L404.1 104.9M383.6 117.3L393.9 116M393.9 116L404.2 114.7M383.7 127L394 125.7M394 125.7L404.4 124.4M383.8 136.6L394.2 135.4M394.2 135.4L404.5 134.2M383.9 146.3L394.3 145.1M394.3 145.1L404.6 143.9M384.1 155.9L394.4 154.8M394.4 154.8L404.8 153.7M384.2 165.6L394.5 164.5M394.5 164.5L404.9 163.4M384.3 175.2L394.6 174.2M394.6 174.2L405 173.2M392.7 19L382.5 30.5M392.8 28.7L382.6 40.2M392.9 38.4L382.8 49.8M393.1 48.1L382.9 59.5M393.2 57.8L383 69.1M393.3 67.5L383.1 78.8M393.4 77.2L383.2 88.4M393.6 86.9L383.4 98M393.7 96.6L383.5 107.7M393.8 106.3L383.6 117.3M393.9 116L383.7 127M394 125.7L383.8 136.6M394.2 135.4L383.9 146.3M394.3 145.1L384.1 155.9M394.4 154.8L384.2 165.6M394.5 164.5L384.3 175.2M403 17.1L392.8 28.7M403.1 26.9L392.9 38.4M403.2 36.6L393.1 48.1M403.4 46.4L393.2 57.8M403.5 56.1L393.3 67.5M403.6 65.9L393.4 77.2M403.8 75.6L393.6 86.9M403.9 85.4L393.7 96.6M404 95.2L393.8 106.3M404.1 104.9L393.9 116M404.2 114.7L394 125.7M404.4 124.4L394.2 135.4M404.5 134.2L394.3 145.1M404.6 143.9L394.4 154.8M404.8 153.7L394.5 164.5M404.9 163.4L394.6 174.2" fill="none" stroke="#13241d" stroke-width="1.0"/>
<polygon points="326.2,8.3 382.4,20.9 384.3,175.2 328,161.9" fill="#5e9079" stroke="#13241d" stroke-width="1.05" />
<path d="M326.2 8.3L382.4 20.9M326.3 17.9L382.5 30.5M326.4 27.5L382.6 40.2M326.5 37.1L382.8 49.8M326.6 46.7L382.9 59.5M326.8 56.3L383 69.1M326.9 65.9L383.1 78.8M327 75.5L383.2 88.4M327.1 85.1L383.4 98M327.2 94.7L383.5 107.7M327.3 104.3L383.6 117.3M327.4 113.9L383.7 127M327.6 123.5L383.8 136.6M327.7 133.1L383.9 146.3M327.8 142.7L384.1 155.9M327.9 152.3L384.2 165.6M328 161.9L384.3 175.2M326.2 8.3L331 19L335.6 10.4L340.4 21.1L344.9 12.5L349.7 23.2L354.3 14.6L359.1 25.3L363.7 16.7L368.5 27.4L373 18.8L377.8 29.5L382.4 20.9M326.4 27.5L331 19L335.8 29.6L340.4 21.1L345.2 31.7L349.7 23.2L354.5 33.8L359.1 25.3L363.9 36L368.5 27.4L373.3 38.1L377.8 29.5L382.6 40.2M326.4 27.5L331.2 38.2L335.8 29.6L340.6 40.3L345.2 31.7L350 42.4L354.5 33.8L359.3 44.5L363.9 36L368.7 46.6L373.3 38.1L378.1 48.8L382.6 40.2M326.6 46.7L331.2 38.2L336 48.8L340.6 40.3L345.4 51L350 42.4L354.8 53.1L359.3 44.5L364.1 55.2L368.7 46.6L373.5 57.3L378.1 48.8L382.9 59.5M326.6 46.7L331.4 57.4L336 48.8L340.8 59.5L345.4 51L350.2 61.6L354.8 53.1L359.6 63.8L364.1 55.2L368.9 65.9L373.5 57.3L378.3 68.1L382.9 59.5M326.9 65.9L331.4 57.4L336.2 68L340.8 59.5L345.6 70.2L350.2 61.6L355 72.3L359.6 63.8L364.4 74.5L368.9 65.9L373.7 76.6L378.3 68.1L383.1 78.8M326.9 65.9L331.7 76.6L336.2 68L341 78.7L345.6 70.2L350.4 80.9L355 72.3L359.8 83L364.4 74.5L369.2 85.2L373.7 76.6L378.5 87.3L383.1 78.8M327.1 85.1L331.7 76.6L336.5 87.3L341 78.7L345.9 89.4L350.4 80.9L355.2 91.6L359.8 83L364.6 93.7L369.2 85.2L374 95.9L378.5 87.3L383.4 98M327.1 85.1L331.9 95.8L336.5 87.3L341.3 97.9L345.9 89.4L350.7 100.1L355.2 91.6L360 102.3L364.6 93.7L369.4 104.4L374 95.9L378.8 106.6L383.4 98M327.3 104.3L331.9 95.8L336.7 106.5L341.3 97.9L346.1 108.6L350.7 100.1L355.5 110.8L360 102.3L364.8 113L369.4 104.4L374.2 115.2L378.8 106.6L383.6 117.3M327.3 104.3L332.1 115L336.7 106.5L341.5 117.2L346.1 108.6L350.9 119.4L355.5 110.8L360.3 121.5L364.8 113L369.6 123.7L374.2 115.2L379 125.9L383.6 117.3M327.6 123.5L332.1 115L336.9 125.7L341.5 117.2L346.3 127.9L350.9 119.4L355.7 130.1L360.3 121.5L365.1 132.2L369.6 123.7L374.4 134.4L379 125.9L383.8 136.6M327.6 123.5L332.4 134.2L336.9 125.7L341.7 136.4L346.3 127.9L351.1 138.6L355.7 130.1L360.5 140.8L365.1 132.2L369.9 143L374.4 134.4L379.3 145.2L383.8 136.6M327.8 142.7L332.4 134.2L337.2 144.9L341.7 136.4L346.5 147.1L351.1 138.6L355.9 149.3L360.5 140.8L365.3 151.5L369.9 143L374.7 153.7L379.3 145.2L384.1 155.9M327.8 142.7L332.6 153.4L337.2 144.9L342 155.6L346.5 147.1L351.3 157.8L355.9 149.3L360.7 160L365.3 151.5L370.1 162.2L374.7 153.7L379.5 164.5L384.1 155.9M328 161.9L332.6 153.4L337.4 164.1L342 155.6L346.8 166.3L351.3 157.8L356.1 168.6L360.7 160L365.5 170.8L370.1 162.2L374.9 173L379.5 164.5L384.3 175.2" fill="none" stroke="#13241d" stroke-width="1.05" stroke-linejoin="round"/>
<g transform="translate(354.7 45.5) rotate(-18)">
<ellipse cx="0" cy="0" rx="12.8" ry="17.8" fill="#42705c" stroke="#13241d" stroke-width="1"/>
<ellipse cx="2.5" cy="1" rx="9.6" ry="15" fill="#4f806b" stroke="#13241d" stroke-width="0.8"/>
<path d="M-12 -4L8 12M-6 -15L11 -2M-12 6L2 17M-3 -17L-3 17" stroke="#13241d" stroke-width="0.8" fill="none"/>
</g>
<path d="M362.7 38L366.1 49" stroke="#f4f4f4" stroke-width="2" stroke-linecap="round"/>
<g transform="translate(355.4 124.5) rotate(-18)">
<ellipse cx="0" cy="0" rx="12.8" ry="17.8" fill="#42705c" stroke="#13241d" stroke-width="1"/>
<ellipse cx="2.5" cy="1" rx="9.6" ry="15" fill="#4f806b" stroke="#13241d" stroke-width="0.8"/>
<path d="M-12 -4L8 12M-6 -15L11 -2M-12 6L2 17M-3 -17L-3 17" stroke="#13241d" stroke-width="0.8" fill="none"/>
</g>
<path d="M363.4 117L366.8 128" stroke="#f4f4f4" stroke-width="2" stroke-linecap="round"/>
<polygon points="229.3,142 264.8,134.2 469,184.6 469.1,188.8" fill="#598570" stroke="#13241d" stroke-width="0.75" />
<path d="M229.3 142L241.3 144.3M241.3 144.3L253.3 146.7M253.3 146.7L265.3 149M265.3 149L277.3 151.4M277.3 151.4L289.2 153.7M289.2 153.7L301.2 156M301.2 156L313.2 158.4M313.2 158.4L325.2 160.7M325.2 160.7L337.2 163.1M337.2 163.1L349.2 165.4M349.2 165.4L361.2 167.7M361.2 167.7L373.2 170.1M373.2 170.1L385.2 172.4M385.2 172.4L397.2 174.8M397.2 174.8L409.2 177.1M409.2 177.1L421.1 179.4M421.1 179.4L433.1 181.8M433.1 181.8L445.1 184.1M445.1 184.1L457.1 186.5M457.1 186.5L469.1 188.8M247.1 138.1L258.2 140.5M258.2 140.5L269.2 143M269.2 143L280.4 145.4M280.4 145.4L291.5 147.8M291.5 147.8L302.6 150.2M302.6 150.2L313.6 152.7M313.6 152.7L324.8 155.1M324.8 155.1L335.9 157.5M335.9 157.5L347 160M347 160L358.1 162.4M358.1 162.4L369.2 164.8M369.2 164.8L380.2 167.3M380.2 167.3L391.4 169.7M391.4 169.7L402.4 172.1M402.4 172.1L413.6 174.5M413.6 174.5L424.7 177M424.7 177L435.8 179.4M435.8 179.4L446.9 181.8M446.9 181.8L457.9 184.3M457.9 184.3L469.1 186.7M264.8 134.2L275 136.7M275 136.7L285.2 139.2M285.2 139.2L295.4 141.8M295.4 141.8L305.6 144.3M305.6 144.3L315.9 146.8M315.9 146.8L326.1 149.3M326.1 149.3L336.3 151.8M336.3 151.8L346.5 154.4M346.5 154.4L356.7 156.9M356.7 156.9L366.9 159.4M366.9 159.4L377.1 161.9M377.1 161.9L387.3 164.4M387.3 164.4L397.5 167M397.5 167L407.7 169.5M407.7 169.5L417.9 172M417.9 172L428.2 174.5M428.2 174.5L438.4 177M438.4 177L448.6 179.6M448.6 179.6L458.8 182.1M458.8 182.1L469 184.6M229.3 142L247.1 138.1M247.1 138.1L264.8 134.2M241.3 144.3L258.2 140.5M258.2 140.5L275 136.7M253.3 146.7L269.2 143M269.2 143L285.2 139.2M265.3 149L280.4 145.4M280.4 145.4L295.4 141.8M277.3 151.4L291.5 147.8M291.5 147.8L305.6 144.3M289.2 153.7L302.6 150.2M302.6 150.2L315.9 146.8M301.2 156L313.6 152.7M313.6 152.7L326.1 149.3M313.2 158.4L324.8 155.1M324.8 155.1L336.3 151.8M325.2 160.7L335.9 157.5M335.9 157.5L346.5 154.4M337.2 163.1L347 160M347 160L356.7 156.9M349.2 165.4L358.1 162.4M358.1 162.4L366.9 159.4M361.2 167.7L369.2 164.8M369.2 164.8L377.1 161.9M373.2 170.1L380.2 167.3M380.2 167.3L387.3 164.4M385.2 172.4L391.4 169.7M391.4 169.7L397.5 167M397.2 174.8L402.4 172.1M402.4 172.1L407.7 169.5M409.2 177.1L413.6 174.5M413.6 174.5L417.9 172M421.1 179.4L424.7 177M424.7 177L428.2 174.5M433.1 181.8L435.8 179.4M435.8 179.4L438.4 177M445.1 184.1L446.9 181.8M446.9 181.8L448.6 179.6M457.1 186.5L457.9 184.3M457.9 184.3L458.8 182.1M469.1 188.8L469.1 186.7M469.1 186.7L469 184.6M229.3 142L258.2 140.5M258.2 140.5L253.3 146.7M253.3 146.7L280.4 145.4M280.4 145.4L277.3 151.4M277.3 151.4L302.6 150.2M302.6 150.2L301.2 156M301.2 156L324.8 155.1M324.8 155.1L325.2 160.7M325.2 160.7L347 160M347 160L349.2 165.4M349.2 165.4L369.2 164.8M369.2 164.8L373.2 170.1M373.2 170.1L391.4 169.7M391.4 169.7L397.2 174.8M397.2 174.8L413.6 174.5M413.6 174.5L421.1 179.4M421.1 179.4L435.8 179.4M435.8 179.4L445.1 184.1M445.1 184.1L457.9 184.3M457.9 184.3L469.1 188.8M264.8 134.2L258.2 140.5M258.2 140.5L285.2 139.2M285.2 139.2L280.4 145.4M280.4 145.4L305.6 144.3M305.6 144.3L302.6 150.2M302.6 150.2L326.1 149.3M326.1 149.3L324.8 155.1M324.8 155.1L346.5 154.4M346.5 154.4L347 160M347 160L366.9 159.4M366.9 159.4L369.2 164.8M369.2 164.8L387.3 164.4M387.3 164.4L391.4 169.7M391.4 169.7L407.7 169.5M407.7 169.5L413.6 174.5M413.6 174.5L428.2 174.5M428.2 174.5L435.8 179.4M435.8 179.4L448.6 179.6M448.6 179.6L457.9 184.3M457.9 184.3L469 184.6" fill="none" stroke="#13241d" stroke-width="0.75"/>
<polygon points="184.4,92.4 217.6,85.1 263.1,92.4 227.7,99.6" fill="#598570" stroke="#13241d" stroke-width="0.75" />
<path d="M184.4 92.4L198.8 94.8M198.8 94.8L213.3 97.2M213.3 97.2L227.7 99.6M192.7 90.6L207.3 93M207.3 93L221.9 95.4M221.9 95.4L236.6 97.8M201 88.8L215.8 91.2M215.8 91.2L230.6 93.6M230.6 93.6L245.4 96M209.3 86.9L224.3 89.3M224.3 89.3L239.3 91.8M239.3 91.8L254.2 94.2M217.6 85.1L232.8 87.5M232.8 87.5L247.9 90M247.9 90L263.1 92.4M184.4 92.4L192.7 90.6M192.7 90.6L201 88.8M201 88.8L209.3 86.9M209.3 86.9L217.6 85.1M198.8 94.8L207.3 93M207.3 93L215.8 91.2M215.8 91.2L224.3 89.3M224.3 89.3L232.8 87.5M213.3 97.2L221.9 95.4M221.9 95.4L230.6 93.6M230.6 93.6L239.3 91.8M239.3 91.8L247.9 90M227.7 99.6L236.6 97.8M236.6 97.8L245.4 96M245.4 96L254.2 94.2M254.2 94.2L263.1 92.4M184.4 92.4L207.3 93M207.3 93L213.3 97.2M213.3 97.2L236.6 97.8M201 88.8L207.3 93M207.3 93L230.6 93.6M230.6 93.6L236.6 97.8M201 88.8L224.3 89.3M224.3 89.3L230.6 93.6M230.6 93.6L254.2 94.2M217.6 85.1L224.3 89.3M224.3 89.3L247.9 90M247.9 90L254.2 94.2" fill="none" stroke="#13241d" stroke-width="0.75"/>
<polygon points="227.7,99.6 263.1,92.4 264.8,134.2 229.3,142" fill="#487461" stroke="#13241d" stroke-width="0.9" />
<path d="M227.7 99.6L228.1 110.2M228.1 110.2L228.5 120.8M228.5 120.8L228.9 131.4M228.9 131.4L229.3 142M236.6 97.8L237 108.4M237 108.4L237.4 118.9M237.4 118.9L237.8 129.5M237.8 129.5L238.2 140.1M245.4 96L245.8 106.5M245.8 106.5L246.2 117M246.2 117L246.6 127.6M246.6 127.6L247.1 138.1M254.2 94.2L254.7 104.7M254.7 104.7L255.1 115.2M255.1 115.2L255.5 125.7M255.5 125.7L255.9 136.1M263.1 92.4L263.5 102.8M263.5 102.8L264 113.3M264 113.3L264.4 123.8M264.4 123.8L264.8 134.2M227.7 99.6L236.6 97.8M236.6 97.8L245.4 96M245.4 96L254.2 94.2M254.2 94.2L263.1 92.4M228.1 110.2L237 108.4M237 108.4L245.8 106.5M245.8 106.5L254.7 104.7M254.7 104.7L263.5 102.8M228.5 120.8L237.4 118.9M237.4 118.9L246.2 117M246.2 117L255.1 115.2M255.1 115.2L264 113.3M228.9 131.4L237.8 129.5M237.8 129.5L246.6 127.6M246.6 127.6L255.5 125.7M255.5 125.7L264.4 123.8M229.3 142L238.2 140.1M238.2 140.1L247.1 138.1M247.1 138.1L255.9 136.1M255.9 136.1L264.8 134.2M236.6 97.8L228.1 110.2M237 108.4L228.5 120.8M237.4 118.9L228.9 131.4M237.8 129.5L229.3 142M245.4 96L237 108.4M245.8 106.5L237.4 118.9M246.2 117L237.8 129.5M246.6 127.6L238.2 140.1M254.2 94.2L245.8 106.5M254.7 104.7L246.2 117M255.1 115.2L246.6 127.6M255.5 125.7L247.1 138.1M263.1 92.4L254.7 104.7M263.5 102.8L255.1 115.2M264 113.3L255.5 125.7M264.4 123.8L255.9 136.1" fill="none" stroke="#13241d" stroke-width="0.9"/>
<polygon points="469,157.9 507.1,150.1 548.4,157.9 511.4,165.6" fill="#598570" stroke="#13241d" stroke-width="0.75" />
<path d="M469 157.9L483.1 160.5M483.1 160.5L497.3 163M497.3 163L511.4 165.6M478.5 155.9L492.6 158.5M492.6 158.5L506.6 161.1M506.6 161.1L520.6 163.7M488.1 154L502 156.6M502 156.6L516 159.2M516 159.2L529.9 161.8M497.6 152.1L511.4 154.6M511.4 154.6L525.3 157.2M525.3 157.2L539.1 159.8M507.1 150.1L520.9 152.7M520.9 152.7L534.6 155.3M534.6 155.3L548.4 157.9M469 157.9L478.5 155.9M478.5 155.9L488.1 154M488.1 154L497.6 152.1M497.6 152.1L507.1 150.1M483.1 160.5L492.6 158.5M492.6 158.5L502 156.6M502 156.6L511.4 154.6M511.4 154.6L520.9 152.7M497.3 163L506.6 161.1M506.6 161.1L516 159.2M516 159.2L525.3 157.2M525.3 157.2L534.6 155.3M511.4 165.6L520.6 163.7M520.6 163.7L529.9 161.8M529.9 161.8L539.1 159.8M539.1 159.8L548.4 157.9M469 157.9L492.6 158.5M492.6 158.5L497.3 163M497.3 163L520.6 163.7M488.1 154L492.6 158.5M492.6 158.5L516 159.2M516 159.2L520.6 163.7M488.1 154L511.4 154.6M511.4 154.6L516 159.2M516 159.2L539.1 159.8M507.1 150.1L511.4 154.6M511.4 154.6L534.6 155.3M534.6 155.3L539.1 159.8" fill="none" stroke="#13241d" stroke-width="0.75"/>
<polygon points="511.4,165.6 548.4,157.9 548.7,247.2 512.3,253.2" fill="#4c7966" stroke="#13241d" stroke-width="0.9" />
<path d="M511.4 165.6L511.5 175.3M511.5 175.3L511.6 185.1M511.6 185.1L511.7 194.8M511.7 194.8L511.8 204.5M511.8 204.5L511.9 214.3M511.9 214.3L512 224M512 224L512.1 233.7M512.1 233.7L512.2 243.5M512.2 243.5L512.3 253.2M520.6 163.7L520.7 173.5M520.7 173.5L520.8 183.2M520.8 183.2L520.9 193M520.9 193L521 202.8M521 202.8L521.1 212.6M521.1 212.6L521.1 222.4M521.1 222.4L521.2 232.1M521.2 232.1L521.3 241.9M521.3 241.9L521.4 251.7M529.9 161.8L530 171.6M530 171.6L530 181.4M530 181.4L530.1 191.2M530.1 191.2L530.2 201.1M530.2 201.1L530.2 210.9M530.2 210.9L530.3 220.7M530.3 220.7L530.4 230.5M530.4 230.5L530.4 240.4M530.4 240.4L530.5 250.2M539.1 159.8L539.2 169.7M539.2 169.7L539.2 179.6M539.2 179.6L539.3 189.4M539.3 189.4L539.4 199.3M539.4 199.3L539.4 209.2M539.4 209.2L539.5 219.1M539.5 219.1L539.5 228.9M539.5 228.9L539.6 238.8M539.6 238.8L539.6 248.7M548.4 157.9L548.4 167.8M548.4 167.8L548.5 177.7M548.5 177.7L548.5 187.7M548.5 187.7L548.5 197.6M548.5 197.6L548.6 207.5M548.6 207.5L548.6 217.4M548.6 217.4L548.6 227.4M548.6 227.4L548.7 237.3M548.7 237.3L548.7 247.2M511.4 165.6L520.6 163.7M520.6 163.7L529.9 161.8M529.9 161.8L539.1 159.8M539.1 159.8L548.4 157.9M511.5 175.3L520.7 173.5M520.7 173.5L530 171.6M530 171.6L539.2 169.7M539.2 169.7L548.4 167.8M511.6 185.1L520.8 183.2M520.8 183.2L530 181.4M530 181.4L539.2 179.6M539.2 179.6L548.5 177.7M511.7 194.8L520.9 193M520.9 193L530.1 191.2M530.1 191.2L539.3 189.4M539.3 189.4L548.5 187.7M511.8 204.5L521 202.8M521 202.8L530.2 201.1M530.2 201.1L539.4 199.3M539.4 199.3L548.5 197.6M511.9 214.3L521.1 212.6M521.1 212.6L530.2 210.9M530.2 210.9L539.4 209.2M539.4 209.2L548.6 207.5M512 224L521.1 222.4M521.1 222.4L530.3 220.7M530.3 220.7L539.5 219.1M539.5 219.1L548.6 217.4M512.1 233.7L521.2 232.1M521.2 232.1L530.4 230.5M530.4 230.5L539.5 228.9M539.5 228.9L548.6 227.4M512.2 243.5L521.3 241.9M521.3 241.9L530.4 240.4M530.4 240.4L539.6 238.8M539.6 238.8L548.7 237.3M512.3 253.2L521.4 251.7M521.4 251.7L530.5 250.2M530.5 250.2L539.6 248.7M539.6 248.7L548.7 247.2M520.6 163.7L511.5 175.3M520.7 173.5L511.6 185.1M520.8 183.2L511.7 194.8M520.9 193L511.8 204.5M521 202.8L511.9 214.3M521.1 212.6L512 224M521.1 222.4L512.1 233.7M521.2 232.1L512.2 243.5M521.3 241.9L512.3 253.2M529.9 161.8L520.7 173.5M530 171.6L520.8 183.2M530 181.4L520.9 193M530.1 191.2L521 202.8M530.2 201.1L521.1 212.6M530.2 210.9L521.1 222.4M530.3 220.7L521.2 232.1M530.4 230.5L521.3 241.9M530.4 240.4L521.4 251.7M539.1 159.8L530 171.6M539.2 169.7L530 181.4M539.2 179.6L530.1 191.2M539.3 189.4L530.2 201.1M539.4 199.3L530.2 210.9M539.4 209.2L530.3 220.7M539.5 219.1L530.4 230.5M539.5 228.9L530.4 240.4M539.6 238.8L530.5 250.2M548.4 157.9L539.2 169.7M548.4 167.8L539.2 179.6M548.5 177.7L539.3 189.4M548.5 187.7L539.4 199.3M548.5 197.6L539.4 209.2M548.6 207.5L539.5 219.1M548.6 217.4L539.5 228.9M548.6 227.4L539.6 238.8M548.7 237.3L539.6 248.7" fill="none" stroke="#13241d" stroke-width="0.9"/>
<clipPath id="frontclip"><polygon points="184.4,95 187,92.8 227.7,99.6 229.3,142 469.1,188.8 469,160.5 471.5,158.3 511.4,165.6 512.3,253.2 185.2,178.9"/></clipPath>
<polygon points="184.4,95 187,92.8 227.7,99.6 229.3,142 469.1,188.8 469,160.5 471.5,158.3 511.4,165.6 512.3,253.2 185.2,178.9" fill="#5e9079" stroke="#13241d" stroke-width="1" />
<g clip-path="url(#frontclip)">
<path d="M184.4 92.4L512 165.6M184.5 102L512 175.3M184.6 111.6L512.1 185.1M184.7 121.2L512.1 194.8M184.8 130.8L512.1 204.5M184.8 140.5L512.2 214.3M184.9 150.1L512.2 224M185 159.7L512.2 233.7M185.1 169.3L512.3 243.5M185.2 178.9L512.3 253.2M184.4 92.4L189 103L193.5 94.4L198.1 105.1L202.6 96.5L207.2 107.1L211.7 98.5L216.3 109.1L220.8 100.5L225.4 111.2L229.9 102.6L234.5 113.2L239 104.6L243.6 115.2L248.1 106.6L252.7 117.3L257.2 108.7L261.8 119.3L266.3 110.7L270.9 121.4L275.4 112.7L280 123.4L284.5 114.8L289.1 125.4L293.6 116.8L298.2 127.5L302.7 118.8L307.3 129.5L311.8 120.9L316.4 131.5L320.9 122.9L325.5 133.6L330 124.9L334.6 135.6L339.1 127L343.7 137.7L348.2 129L352.8 139.7L357.3 131L361.9 141.7L366.4 133.1L371 143.8L375.5 135.1L380.1 145.8L384.6 137.1L389.2 147.8L393.7 139.2L398.3 149.9L402.8 141.2L407.4 151.9L411.9 143.2L416.5 153.9L421 145.3L425.6 156L430.1 147.3L434.7 158L439.2 149.3L443.8 160.1L448.3 151.4L452.9 162.1L457.4 153.4L462 164.1L466.5 155.4L471.1 166.2L475.6 157.5L480.2 168.2L484.7 159.5L489.3 170.2L493.8 161.5L498.4 172.3L502.9 163.6L507.5 174.3L512 165.6M184.6 111.6L189 103L193.7 113.7L198.1 105.1L202.8 115.7L207.2 107.1L211.9 117.7L216.3 109.1L221 119.8L225.4 111.2L230.1 121.8L234.5 113.2L239.2 123.9L243.6 115.2L248.3 125.9L252.7 117.3L257.4 127.9L261.8 119.3L266.4 130L270.9 121.4L275.5 132L280 123.4L284.6 134.1L289.1 125.4L293.7 136.1L298.2 127.5L302.8 138.1L307.3 129.5L311.9 140.2L316.4 131.5L321 142.2L325.5 133.6L330.1 144.3L334.6 135.6L339.2 146.3L343.7 137.7L348.3 148.3L352.8 139.7L357.4 150.4L361.9 141.7L366.5 152.4L371 143.8L375.6 154.5L380.1 145.8L384.7 156.5L389.2 147.8L393.8 158.5L398.3 149.9L402.9 160.6L407.4 151.9L412 162.6L416.5 153.9L421.1 164.7L425.6 156L430.2 166.7L434.7 158L439.3 168.7L443.8 160.1L448.4 170.8L452.9 162.1L457.5 172.8L462 164.1L466.6 174.9L471.1 166.2L475.7 176.9L480.2 168.2L484.8 178.9L489.3 170.2L493.9 181L498.4 172.3L503 183L507.5 174.3L512.1 185.1M184.6 111.6L189.2 122.3L193.7 113.7L198.3 124.3L202.8 115.7L207.4 126.3L211.9 117.7L216.5 128.4L221 119.8L225.6 130.4L230.1 121.8L234.7 132.5L239.2 123.9L243.8 134.5L248.3 125.9L252.9 136.6L257.4 127.9L262 138.6L266.4 130L271.1 140.6L275.5 132L280.2 142.7L284.6 134.1L289.3 144.7L293.7 136.1L298.4 146.8L302.8 138.1L307.5 148.8L311.9 140.2L316.5 150.9L321 142.2L325.6 152.9L330.1 144.3L334.7 155L339.2 146.3L343.8 157L348.3 148.3L352.9 159L357.4 150.4L362 161.1L366.5 152.4L371.1 163.1L375.6 154.5L380.2 165.2L384.7 156.5L389.3 167.2L393.8 158.5L398.4 169.3L402.9 160.6L407.5 171.3L412 162.6L416.6 173.3L421.1 164.7L425.7 175.4L430.2 166.7L434.8 177.4L439.3 168.7L443.9 179.5L448.4 170.8L453 181.5L457.5 172.8L462.1 183.6L466.6 174.9L471.2 185.6L475.7 176.9L480.3 187.6L484.8 178.9L489.4 189.7L493.9 181L498.5 191.7L503 183L507.6 193.8L512.1 185.1M184.8 130.8L189.2 122.3L193.8 132.9L198.3 124.3L202.9 134.9L207.4 126.3L212 137L216.5 128.4L221.1 139L225.6 130.4L230.2 141.1L234.7 132.5L239.3 143.1L243.8 134.5L248.4 145.2L252.9 136.6L257.5 147.2L262 138.6L266.6 149.3L271.1 140.6L275.7 151.3L280.2 142.7L284.8 153.4L289.3 144.7L293.9 155.4L298.4 146.8L303 157.5L307.5 148.8L312.1 159.5L316.5 150.9L321.2 161.5L325.6 152.9L330.3 163.6L334.7 155L339.4 165.6L343.8 157L348.4 167.7L352.9 159L357.5 169.7L362 161.1L366.6 171.8L371.1 163.1L375.7 173.8L380.2 165.2L384.8 175.9L389.3 167.2L393.9 177.9L398.4 169.3L403 180L407.5 171.3L412.1 182L416.6 173.3L421.2 184.1L425.7 175.4L430.3 186.1L434.8 177.4L439.4 188.2L443.9 179.5L448.5 190.2L453 181.5L457.6 192.3L462.1 183.6L466.7 194.3L471.2 185.6L475.8 196.3L480.3 187.6L484.9 198.4L489.4 189.7L493.9 200.4L498.5 191.7L503 202.5L507.6 193.8L512.1 204.5M184.8 130.8L189.4 141.5L193.8 132.9L198.5 143.5L202.9 134.9L207.6 145.6L212 137L216.7 147.6L221.1 139L225.8 149.7L230.2 141.1L234.9 151.7L239.3 143.1L243.9 153.8L248.4 145.2L253 155.8L257.5 147.2L262.1 157.9L266.6 149.3L271.2 159.9L275.7 151.3L280.3 162L284.8 153.4L289.4 164L293.9 155.4L298.5 166.1L303 157.5L307.6 168.1L312.1 159.5L316.7 170.2L321.2 161.5L325.8 172.2L330.3 163.6L334.9 174.3L339.4 165.6L344 176.3L348.4 167.7L353.1 178.4L357.5 169.7L362.1 180.4L366.6 171.8L371.2 182.5L375.7 173.8L380.3 184.5L384.8 175.9L389.4 186.6L393.9 177.9L398.5 188.6L403 180L407.6 190.7L412.1 182L416.7 192.7L421.2 184.1L425.8 194.8L430.3 186.1L434.9 196.8L439.4 188.2L444 198.9L448.5 190.2L453.1 200.9L457.6 192.3L462.2 203L466.7 194.3L471.3 205L475.8 196.3L480.3 207.1L484.9 198.4L489.4 209.1L493.9 200.4L498.5 211.2L503 202.5L507.6 213.2L512.1 204.5M184.9 150.1L189.4 141.5L194 152.1L198.5 143.5L203.1 154.2L207.6 145.6L212.2 156.2L216.7 147.6L221.3 158.3L225.8 149.7L230.4 160.3L234.9 151.7L239.5 162.4L243.9 153.8L248.6 164.4L253 155.8L257.7 166.5L262.1 157.9L266.8 168.6L271.2 159.9L275.8 170.6L280.3 162L284.9 172.7L289.4 164L294 174.7L298.5 166.1L303.1 176.8L307.6 168.1L312.2 178.8L316.7 170.2L321.3 180.9L325.8 172.2L330.4 182.9L334.9 174.3L339.5 185L344 176.3L348.6 187L353.1 178.4L357.7 189.1L362.1 180.4L366.7 191.1L371.2 182.5L375.8 193.2L380.3 184.5L384.9 195.2L389.4 186.6L394 197.3L398.5 188.6L403.1 199.4L407.6 190.7L412.2 201.4L416.7 192.7L421.3 203.5L425.8 194.8L430.4 205.5L434.9 196.8L439.5 207.6L444 198.9L448.6 209.6L453.1 200.9L457.7 211.7L462.2 203L466.7 213.7L471.3 205L475.8 215.8L480.3 207.1L484.9 217.8L489.4 209.1L494 219.9L498.5 211.2L503.1 221.9L507.6 213.2L512.2 224M184.9 150.1L189.6 160.7L194 152.1L198.7 162.8L203.1 154.2L207.7 164.8L212.2 156.2L216.8 166.9L221.3 158.3L225.9 168.9L230.4 160.3L235 171L239.5 162.4L244.1 173L248.6 164.4L253.2 175.1L257.7 166.5L262.3 177.2L266.8 168.6L271.4 179.2L275.8 170.6L280.5 181.3L284.9 172.7L289.5 183.3L294 174.7L298.6 185.4L303.1 176.8L307.7 187.4L312.2 178.8L316.8 189.5L321.3 180.9L325.9 191.6L330.4 182.9L335 193.6L339.5 185L344.1 195.7L348.6 187L353.2 197.7L357.7 189.1L362.3 199.8L366.7 191.1L371.4 201.8L375.8 193.2L380.4 203.9L384.9 195.2L389.5 206L394 197.3L398.6 208L403.1 199.4L407.7 210.1L412.2 201.4L416.8 212.1L421.3 203.5L425.9 214.2L430.4 205.5L435 216.2L439.5 207.6L444.1 218.3L448.6 209.6L453.2 220.4L457.7 211.7L462.2 222.4L466.7 213.7L471.3 224.5L475.8 215.8L480.4 226.5L484.9 217.8L489.5 228.6L494 219.9L498.6 230.6L503.1 221.9L507.7 232.7L512.2 224M185.1 169.3L189.6 160.7L194.2 171.3L198.7 162.8L203.3 173.4L207.7 164.8L212.4 175.5L216.8 166.9L221.5 177.5L225.9 168.9L230.5 179.6L235 171L239.6 181.7L244.1 173L248.7 183.7L253.2 175.1L257.8 185.8L262.3 177.2L266.9 187.8L271.4 179.2L276 189.9L280.5 181.3L285.1 192L289.5 183.3L294.2 194L298.6 185.4L303.3 196.1L307.7 187.4L312.3 198.1L316.8 189.5L321.4 200.2L325.9 191.6L330.5 202.3L335 193.6L339.6 204.3L344.1 195.7L348.7 206.4L353.2 197.7L357.8 208.4L362.3 199.8L366.9 210.5L371.4 201.8L376 212.6L380.4 203.9L385 214.6L389.5 206L394.1 216.7L398.6 208L403.2 218.7L407.7 210.1L412.3 220.8L416.8 212.1L421.4 222.9L425.9 214.2L430.5 224.9L435 216.2L439.6 227L444.1 218.3L448.7 229L453.2 220.4L457.7 231.1L462.2 222.4L466.8 233.2L471.3 224.5L475.9 235.2L480.4 226.5L485 237.3L489.5 228.6L494.1 239.3L498.6 230.6L503.2 241.4L507.7 232.7L512.3 243.5M185.1 169.3L189.7 179.9L194.2 171.3L198.8 182L203.3 173.4L207.9 184.1L212.4 175.5L217 186.1L221.5 177.5L226.1 188.2L230.5 179.6L235.2 190.3L239.6 181.7L244.3 192.3L248.7 183.7L253.3 194.4L257.8 185.8L262.4 196.4L266.9 187.8L271.5 198.5L276 189.9L280.6 200.6L285.1 192L289.7 202.6L294.2 194L298.8 204.7L303.3 196.1L307.9 206.8L312.3 198.1L316.9 208.8L321.4 200.2L326 210.9L330.5 202.3L335.1 213L339.6 204.3L344.2 215L348.7 206.4L353.3 217.1L357.8 208.4L362.4 219.1L366.9 210.5L371.5 221.2L376 212.6L380.6 223.3L385 214.6L389.6 225.3L394.1 216.7L398.7 227.4L403.2 218.7L407.8 229.5L412.3 220.8L416.9 231.5L421.4 222.9L426 233.6L430.5 224.9L435.1 235.7L439.6 227L444.2 237.7L448.7 229L453.2 239.8L457.7 231.1L462.3 241.8L466.8 233.2L471.4 243.9L475.9 235.2L480.5 246L485 237.3L489.6 248L494.1 239.3L498.7 250.1L503.2 241.4L507.8 252.2L512.3 243.5" fill="none" stroke="#13241d" stroke-width="1.05" stroke-linejoin="round"/>
</g>
<polygon points="184.4,95 187,92.8 227.7,99.6 229.3,142 469.1,188.8 469,160.5 471.5,158.3 511.4,165.6 512.3,253.2 185.2,178.9" fill="none" stroke="#13241d" stroke-width="1" />
<rect x="213.6" y="32.6" width="18.8" height="59.4" rx="3" fill="#c4c4c4" stroke="#151515" stroke-width="0.8"/>
<path d="M213.6 33.6L213.6 40.1M213.6 40.1L213.6 46.6M213.6 46.6L213.6 53.1M213.6 53.1L213.6 59.6M213.6 59.6L213.6 66M213.6 66L213.6 72.5M213.6 72.5L213.6 79M213.6 79L213.6 85.5M213.6 85.5L213.6 92M219.9 33.6L219.9 40.1M219.9 40.1L219.9 46.6M219.9 46.6L219.9 53.1M219.9 53.1L219.9 59.6M219.9 59.6L219.9 66M219.9 66L219.9 72.5M219.9 72.5L219.9 79M219.9 79L219.9 85.5M219.9 85.5L219.9 92M226.1 33.6L226.1 40.1M226.1 40.1L226.1 46.6M226.1 46.6L226.1 53.1M226.1 53.1L226.1 59.6M226.1 59.6L226.1 66M226.1 66L226.1 72.5M226.1 72.5L226.1 79M226.1 79L226.1 85.5M226.1 85.5L226.1 92M232.4 33.6L232.4 40.1M232.4 40.1L232.4 46.6M232.4 46.6L232.4 53.1M232.4 53.1L232.4 59.6M232.4 59.6L232.4 66M232.4 66L232.4 72.5M232.4 72.5L232.4 79M232.4 79L232.4 85.5M232.4 85.5L232.4 92M213.6 33.6L219.9 33.6M219.9 33.6L226.1 33.6M226.1 33.6L232.4 33.6M213.6 40.1L219.9 40.1M219.9 40.1L226.1 40.1M226.1 40.1L232.4 40.1M213.6 46.6L219.9 46.6M219.9 46.6L226.1 46.6M226.1 46.6L232.4 46.6M213.6 53.1L219.9 53.1M219.9 53.1L226.1 53.1M226.1 53.1L232.4 53.1M213.6 59.6L219.9 59.6M219.9 59.6L226.1 59.6M226.1 59.6L232.4 59.6M213.6 66L219.9 66M219.9 66L226.1 66M226.1 66L232.4 66M213.6 72.5L219.9 72.5M219.9 72.5L226.1 72.5M226.1 72.5L232.4 72.5M213.6 79L219.9 79M219.9 79L226.1 79M226.1 79L232.4 79M213.6 85.5L219.9 85.5M219.9 85.5L226.1 85.5M226.1 85.5L232.4 85.5M213.6 92L219.9 92M219.9 92L226.1 92M226.1 92L232.4 92M213.6 33.6L219.9 40.1M219.9 33.6L213.6 40.1M213.6 40.1L219.9 46.6M219.9 40.1L213.6 46.6M213.6 46.6L219.9 53.1M219.9 46.6L213.6 53.1M213.6 53.1L219.9 59.6M219.9 53.1L213.6 59.6M213.6 59.6L219.9 66M219.9 59.6L213.6 66M213.6 66L219.9 72.5M219.9 66L213.6 72.5M213.6 72.5L219.9 79M219.9 72.5L213.6 79M213.6 79L219.9 85.5M219.9 79L213.6 85.5M213.6 85.5L219.9 92M219.9 85.5L213.6 92M219.9 33.6L226.1 40.1M226.1 33.6L219.9 40.1M219.9 40.1L226.1 46.6M226.1 40.1L219.9 46.6M219.9 46.6L226.1 53.1M226.1 46.6L219.9 53.1M219.9 53.1L226.1 59.6M226.1 53.1L219.9 59.6M219.9 59.6L226.1 66M226.1 59.6L219.9 66M219.9 66L226.1 72.5M226.1 66L219.9 72.5M219.9 72.5L226.1 79M226.1 72.5L219.9 79M219.9 79L226.1 85.5M226.1 79L219.9 85.5M219.9 85.5L226.1 92M226.1 85.5L219.9 92M226.1 33.6L232.4 40.1M232.4 33.6L226.1 40.1M226.1 40.1L232.4 46.6M232.4 40.1L226.1 46.6M226.1 46.6L232.4 53.1M232.4 46.6L226.1 53.1M226.1 53.1L232.4 59.6M232.4 53.1L226.1 59.6M226.1 59.6L232.4 66M232.4 59.6L226.1 66M226.1 66L232.4 72.5M232.4 66L226.1 72.5M226.1 72.5L232.4 79M232.4 72.5L226.1 79M226.1 79L232.4 85.5M232.4 79L226.1 85.5M226.1 85.5L232.4 92M232.4 85.5L226.1 92" fill="none" stroke="#151515" stroke-width="0.95"/>
<rect x="497.9" y="97.8" width="19.4" height="59.7" rx="3" fill="#c4c4c4" stroke="#151515" stroke-width="0.8"/>
<path d="M497.9 98.8L497.9 105.3M497.9 105.3L497.9 111.8M497.9 111.8L497.9 118.4M497.9 118.4L497.9 124.9M497.9 124.9L497.9 131.4M497.9 131.4L497.9 137.9M497.9 137.9L497.9 144.5M497.9 144.5L497.9 151M497.9 151L497.9 157.5M504.4 98.8L504.4 105.3M504.4 105.3L504.4 111.8M504.4 111.8L504.4 118.4M504.4 118.4L504.4 124.9M504.4 124.9L504.4 131.4M504.4 131.4L504.4 137.9M504.4 137.9L504.4 144.5M504.4 144.5L504.4 151M504.4 151L504.4 157.5M510.8 98.8L510.8 105.3M510.8 105.3L510.8 111.8M510.8 111.8L510.8 118.4M510.8 118.4L510.8 124.9M510.8 124.9L510.8 131.4M510.8 131.4L510.8 137.9M510.8 137.9L510.8 144.5M510.8 144.5L510.8 151M510.8 151L510.8 157.5M517.3 98.8L517.3 105.3M517.3 105.3L517.3 111.8M517.3 111.8L517.3 118.4M517.3 118.4L517.3 124.9M517.3 124.9L517.3 131.4M517.3 131.4L517.3 137.9M517.3 137.9L517.3 144.5M517.3 144.5L517.3 151M517.3 151L517.3 157.5M497.9 98.8L504.4 98.8M504.4 98.8L510.8 98.8M510.8 98.8L517.3 98.8M497.9 105.3L504.4 105.3M504.4 105.3L510.8 105.3M510.8 105.3L517.3 105.3M497.9 111.8L504.4 111.8M504.4 111.8L510.8 111.8M510.8 111.8L517.3 111.8M497.9 118.4L504.4 118.4M504.4 118.4L510.8 118.4M510.8 118.4L517.3 118.4M497.9 124.9L504.4 124.9M504.4 124.9L510.8 124.9M510.8 124.9L517.3 124.9M497.9 131.4L504.4 131.4M504.4 131.4L510.8 131.4M510.8 131.4L517.3 131.4M497.9 137.9L504.4 137.9M504.4 137.9L510.8 137.9M510.8 137.9L517.3 137.9M497.9 144.5L504.4 144.5M504.4 144.5L510.8 144.5M510.8 144.5L517.3 144.5M497.9 151L504.4 151M504.4 151L510.8 151M510.8 151L517.3 151M497.9 157.5L504.4 157.5M504.4 157.5L510.8 157.5M510.8 157.5L517.3 157.5M497.9 98.8L504.4 105.3M504.4 98.8L497.9 105.3M497.9 105.3L504.4 111.8M504.4 105.3L497.9 111.8M497.9 111.8L504.4 118.4M504.4 111.8L497.9 118.4M497.9 118.4L504.4 124.9M504.4 118.4L497.9 124.9M497.9 124.9L504.4 131.4M504.4 124.9L497.9 131.4M497.9 131.4L504.4 137.9M504.4 131.4L497.9 137.9M497.9 137.9L504.4 144.5M504.4 137.9L497.9 144.5M497.9 144.5L504.4 151M504.4 144.5L497.9 151M497.9 151L504.4 157.5M504.4 151L497.9 157.5M504.4 98.8L510.8 105.3M510.8 98.8L504.4 105.3M504.4 105.3L510.8 111.8M510.8 105.3L504.4 111.8M504.4 111.8L510.8 118.4M510.8 111.8L504.4 118.4M504.4 118.4L510.8 124.9M510.8 118.4L504.4 124.9M504.4 124.9L510.8 131.4M510.8 124.9L504.4 131.4M504.4 131.4L510.8 137.9M510.8 131.4L504.4 137.9M504.4 137.9L510.8 144.5M510.8 137.9L504.4 144.5M504.4 144.5L510.8 151M510.8 144.5L504.4 151M504.4 151L510.8 157.5M510.8 151L504.4 157.5M510.8 98.8L517.3 105.3M517.3 98.8L510.8 105.3M510.8 105.3L517.3 111.8M517.3 105.3L510.8 111.8M510.8 111.8L517.3 118.4M517.3 111.8L510.8 118.4M510.8 118.4L517.3 124.9M517.3 118.4L510.8 124.9M510.8 124.9L517.3 131.4M517.3 124.9L510.8 131.4M510.8 131.4L517.3 137.9M517.3 131.4L510.8 137.9M510.8 137.9L517.3 144.5M517.3 137.9L510.8 144.5M510.8 144.5L517.3 151M517.3 144.5L510.8 151M510.8 151L517.3 157.5M517.3 151L510.8 157.5" fill="none" stroke="#151515" stroke-width="0.95"/>
<clipPath id="insetclip"><rect x="593.3" y="157.2" width="161.2" height="174"/></clipPath>
<g clip-path="url(#insetclip)" stroke="#c9c9c9" stroke-width="1.1" fill="none">
<path d="M593.6 157L593.6 163.5M593.6 163.5L593.6 170.1M593.6 170.1L593.6 176.6M606.1 157L603.4 165.9M603.4 165.9L606 172.5M606 172.5L606.1 177.1M618.6 157L622.2 162.3M622.2 162.3L621.1 172.8M621.1 172.8L618.6 177.6M631 157L627.3 163.2M627.3 163.2L633.3 169.4M633.3 169.4L631 178M643.5 157L647 163.1M647 163.1L646.3 169.6M646.3 169.6L643.5 178.5M656 157L656 166.5M656 166.5L653.5 170.4M653.5 170.4L656 179M668.5 157L668.6 163.5M668.6 163.5L664.5 170.2M664.5 170.2L668.5 179.4M681 157L678 166.9M678 166.9L682.6 174.4M682.6 174.4L681 179.9M693.5 157L690.6 166.3M690.6 166.3L690.1 172.7M690.1 172.7L693.5 180.4M706 157L707.1 164.2M707.1 164.2L709.2 173.3M709.2 173.3L706 180.9M718.4 157L719.1 167.3M719.1 167.3L715 175.9M715 175.9L718.4 181.4M730.9 157L732.1 164.7M732.1 164.7L733.5 172.2M733.5 172.2L730.9 181.8M743.4 157L743.4 165.4M743.4 165.4L743.4 173.9M743.4 173.9L743.4 182.3M593.6 157L606.1 157M606.1 157L618.6 157M618.6 157L631 157M631 157L643.5 157M643.5 157L656 157M656 157L668.5 157M668.5 157L681 157M681 157L693.5 157M693.5 157L706 157M706 157L718.4 157M718.4 157L730.9 157M730.9 157L743.4 157M593.6 163.5L603.4 165.9M603.4 165.9L622.2 162.3M622.2 162.3L627.3 163.2M627.3 163.2L647 163.1M647 163.1L656 166.5M656 166.5L668.6 163.5M668.6 163.5L678 166.9M678 166.9L690.6 166.3M690.6 166.3L707.1 164.2M707.1 164.2L719.1 167.3M719.1 167.3L732.1 164.7M732.1 164.7L743.4 165.4M593.6 170.1L606 172.5M606 172.5L621.1 172.8M621.1 172.8L633.3 169.4M633.3 169.4L646.3 169.6M646.3 169.6L653.5 170.4M653.5 170.4L664.5 170.2M664.5 170.2L682.6 174.4M682.6 174.4L690.1 172.7M690.1 172.7L709.2 173.3M709.2 173.3L715 175.9M715 175.9L733.5 172.2M733.5 172.2L743.4 173.9M593.6 176.6L606.1 177.1M606.1 177.1L618.6 177.6M618.6 177.6L631 178M631 178L643.5 178.5M643.5 178.5L656 179M656 179L668.5 179.4M668.5 179.4L681 179.9M681 179.9L693.5 180.4M693.5 180.4L706 180.9M706 180.9L718.4 181.4M718.4 181.4L730.9 181.8M730.9 181.8L743.4 182.3M593.6 157L603.4 165.9M606.1 157L593.6 163.5M593.6 163.5L606 172.5M603.4 165.9L593.6 170.1M593.6 170.1L606.1 177.1M606 172.5L593.6 176.6M606.1 157L622.2 162.3M618.6 157L603.4 165.9M603.4 165.9L621.1 172.8M622.2 162.3L606 172.5M606 172.5L618.6 177.6M621.1 172.8L606.1 177.1M618.6 157L627.3 163.2M631 157L622.2 162.3M622.2 162.3L633.3 169.4M627.3 163.2L621.1 172.8M621.1 172.8L631 178M633.3 169.4L618.6 177.6M631 157L647 163.1M643.5 157L627.3 163.2M627.3 163.2L646.3 169.6M647 163.1L633.3 169.4M633.3 169.4L643.5 178.5M646.3 169.6L631 178M643.5 157L656 166.5M656 157L647 163.1M647 163.1L653.5 170.4M656 166.5L646.3 169.6M646.3 169.6L656 179M653.5 170.4L643.5 178.5M656 157L668.6 163.5M668.5 157L656 166.5M656 166.5L664.5 170.2M668.6 163.5L653.5 170.4M653.5 170.4L668.5 179.4M664.5 170.2L656 179M668.5 157L678 166.9M681 157L668.6 163.5M668.6 163.5L682.6 174.4M678 166.9L664.5 170.2M664.5 170.2L681 179.9M682.6 174.4L668.5 179.4M681 157L690.6 166.3M693.5 157L678 166.9M678 166.9L690.1 172.7M690.6 166.3L682.6 174.4M682.6 174.4L693.5 180.4M690.1 172.7L681 179.9M693.5 157L707.1 164.2M706 157L690.6 166.3M690.6 166.3L709.2 173.3M707.1 164.2L690.1 172.7M690.1 172.7L706 180.9M709.2 173.3L693.5 180.4M706 157L719.1 167.3M718.4 157L707.1 164.2M707.1 164.2L715 175.9M719.1 167.3L709.2 173.3M709.2 173.3L718.4 181.4M715 175.9L706 180.9M718.4 157L732.1 164.7M730.9 157L719.1 167.3M719.1 167.3L733.5 172.2M732.1 164.7L715 175.9M715 175.9L730.9 181.8M733.5 172.2L718.4 181.4M730.9 157L743.4 165.4M743.4 157L732.1 164.7M732.1 164.7L743.4 173.9M743.4 165.4L733.5 172.2M733.5 172.2L743.4 182.3M743.4 173.9L730.9 181.8"/>
<path d="M593.6 176.6L649.2 186.5M612.3 177.3L655 187.1M631 178L660.8 187.7M649.8 178.7L666.6 188.3M668.5 179.4L672.5 188.9M687.2 180.2L678.3 189.6M706 180.9L684.1 190.2M724.7 181.6L689.9 190.8M743.4 182.3L695.7 191.4M593.6 176.6L612.3 177.3M612.3 177.3L631 178M631 178L649.8 178.7M649.8 178.7L668.5 179.4M668.5 179.4L687.2 180.2M687.2 180.2L706 180.9M706 180.9L724.7 181.6M724.7 181.6L743.4 182.3M649.2 186.5L655 187.1M655 187.1L660.8 187.7M660.8 187.7L666.6 188.3M666.6 188.3L672.5 188.9M672.5 188.9L678.3 189.6M678.3 189.6L684.1 190.2M684.1 190.2L689.9 190.8M689.9 190.8L695.7 191.4M593.6 176.6L655 187.1M612.3 177.3L649.2 186.5M612.3 177.3L660.8 187.7M631 178L655 187.1M631 178L666.6 188.3M649.8 178.7L660.8 187.7M649.8 178.7L672.5 188.9M668.5 179.4L666.6 188.3M668.5 179.4L678.3 189.6M687.2 180.2L672.5 188.9M687.2 180.2L684.1 190.2M706 180.9L678.3 189.6M706 180.9L689.9 190.8M724.7 181.6L684.1 190.2M724.7 181.6L695.7 191.4M743.4 182.3L689.9 190.8"/>
<path d="M649.2 157L649.2 165.2M649.2 165.2L649.2 173.5M649.2 173.5L649.2 181.8M649.2 181.8L649.2 190M657 157L659.2 165.6M659.2 165.6L656.3 174.8M656.3 174.8L656.7 180.1M656.7 180.1L657 190M664.7 157L665.8 163M665.8 163L666.2 172.3M666.2 172.3L665.3 184.1M665.3 184.1L664.7 190M672.5 157L672.8 166.1M672.8 166.1L671.6 171M671.6 171L670.3 180M670.3 180L672.5 190M680.2 157L680.7 164.9M680.7 164.9L680.3 175.5M680.3 175.5L678.5 180.4M678.5 180.4L680.2 190M688 157L688.7 162.9M688.7 162.9L685.6 172.8M685.6 172.8L686.1 181M686.1 181L688 190M695.7 157L695.7 165.2M695.7 165.2L695.7 173.5M695.7 173.5L695.7 181.8M695.7 181.8L695.7 190M649.2 157L657 157M657 157L664.7 157M664.7 157L672.5 157M672.5 157L680.2 157M680.2 157L688 157M688 157L695.7 157M649.2 165.2L659.2 165.6M659.2 165.6L665.8 163M665.8 163L672.8 166.1M672.8 166.1L680.7 164.9M680.7 164.9L688.7 162.9M688.7 162.9L695.7 165.2M649.2 173.5L656.3 174.8M656.3 174.8L666.2 172.3M666.2 172.3L671.6 171M671.6 171L680.3 175.5M680.3 175.5L685.6 172.8M685.6 172.8L695.7 173.5M649.2 181.8L656.7 180.1M656.7 180.1L665.3 184.1M665.3 184.1L670.3 180M670.3 180L678.5 180.4M678.5 180.4L686.1 181M686.1 181L695.7 181.8M649.2 190L657 190M657 190L664.7 190M664.7 190L672.5 190M672.5 190L680.2 190M680.2 190L688 190M688 190L695.7 190M649.2 157L659.2 165.6M657 157L649.2 165.2M649.2 165.2L656.3 174.8M659.2 165.6L649.2 173.5M649.2 173.5L656.7 180.1M656.3 174.8L649.2 181.8M649.2 181.8L657 190M656.7 180.1L649.2 190M657 157L665.8 163M664.7 157L659.2 165.6M659.2 165.6L666.2 172.3M665.8 163L656.3 174.8M656.3 174.8L665.3 184.1M666.2 172.3L656.7 180.1M656.7 180.1L664.7 190M665.3 184.1L657 190M664.7 157L672.8 166.1M672.5 157L665.8 163M665.8 163L671.6 171M672.8 166.1L666.2 172.3M666.2 172.3L670.3 180M671.6 171L665.3 184.1M665.3 184.1L672.5 190M670.3 180L664.7 190M672.5 157L680.7 164.9M680.2 157L672.8 166.1M672.8 166.1L680.3 175.5M680.7 164.9L671.6 171M671.6 171L678.5 180.4M680.3 175.5L670.3 180M670.3 180L680.2 190M678.5 180.4L672.5 190M680.2 157L688.7 162.9M688 157L680.7 164.9M680.7 164.9L685.6 172.8M688.7 162.9L680.3 175.5M680.3 175.5L686.1 181M685.6 172.8L678.5 180.4M678.5 180.4L688 190M686.1 181L680.2 190M688 157L695.7 165.2M695.7 157L688.7 162.9M688.7 162.9L695.7 173.5M695.7 165.2L685.6 172.8M685.6 172.8L695.7 181.8M695.7 173.5L686.1 181M686.1 181L695.7 190M695.7 181.8L688 190"/>
<path d="M649.2 186L649.3 198.7M649.3 198.7L649.4 211.5M649.4 211.5L649.5 224.2M649.5 224.2L649.6 237M649.6 237L649.6 249.7M649.6 249.7L649.7 262.5M649.7 262.5L649.8 275.2M649.8 275.2L649.9 288M649.9 288L650 300.7M660.8 186L659.6 199.2M659.6 199.2L661.4 210M661.4 210L661.6 224.1M661.6 224.1L659.4 239.2M659.4 239.2L660 247.9M660 247.9L659.4 263.2M659.4 263.2L663.1 276.6M663.1 276.6L661 286.8M661 286.8L661.5 300.7M672.5 186L670.2 199.5M670.2 199.5L672.9 210.7M672.9 210.7L673.3 223.9M673.3 223.9L674.7 238.2M674.7 238.2L671.6 251.8M671.6 251.8L670.7 262.6M670.7 262.6L672.4 273.9M672.4 273.9L670.9 289.4M670.9 289.4L673 300.7M684.1 186L681.9 199M681.9 199L686.2 209.7M686.2 209.7L682.8 224.8M682.8 224.8L684.3 237.7M684.3 237.7L685.8 248.1M685.8 248.1L683.5 261.4M683.5 261.4L682.3 277.2M682.3 277.2L685.8 289.1M685.8 289.1L684.5 300.7M695.7 186L695.7 198.7M695.7 198.7L695.8 211.5M695.8 211.5L695.8 224.2M695.8 224.2L695.8 237M695.8 237L695.9 249.7M695.9 249.7L695.9 262.5M695.9 262.5L695.9 275.2M695.9 275.2L696 288M696 288L696 300.7M649.2 186L660.8 186M660.8 186L672.5 186M672.5 186L684.1 186M684.1 186L695.7 186M649.3 198.7L659.6 199.2M659.6 199.2L670.2 199.5M670.2 199.5L681.9 199M681.9 199L695.7 198.7M649.4 211.5L661.4 210M661.4 210L672.9 210.7M672.9 210.7L686.2 209.7M686.2 209.7L695.8 211.5M649.5 224.2L661.6 224.1M661.6 224.1L673.3 223.9M673.3 223.9L682.8 224.8M682.8 224.8L695.8 224.2M649.6 237L659.4 239.2M659.4 239.2L674.7 238.2M674.7 238.2L684.3 237.7M684.3 237.7L695.8 237M649.6 249.7L660 247.9M660 247.9L671.6 251.8M671.6 251.8L685.8 248.1M685.8 248.1L695.9 249.7M649.7 262.5L659.4 263.2M659.4 263.2L670.7 262.6M670.7 262.6L683.5 261.4M683.5 261.4L695.9 262.5M649.8 275.2L663.1 276.6M663.1 276.6L672.4 273.9M672.4 273.9L682.3 277.2M682.3 277.2L695.9 275.2M649.9 288L661 286.8M661 286.8L670.9 289.4M670.9 289.4L685.8 289.1M685.8 289.1L696 288M650 300.7L661.5 300.7M661.5 300.7L673 300.7M673 300.7L684.5 300.7M684.5 300.7L696 300.7M649.2 186L659.6 199.2M660.8 186L649.3 198.7M649.3 198.7L661.4 210M659.6 199.2L649.4 211.5M649.4 211.5L661.6 224.1M661.4 210L649.5 224.2M649.5 224.2L659.4 239.2M661.6 224.1L649.6 237M649.6 237L660 247.9M659.4 239.2L649.6 249.7M649.6 249.7L659.4 263.2M660 247.9L649.7 262.5M649.7 262.5L663.1 276.6M659.4 263.2L649.8 275.2M649.8 275.2L661 286.8M663.1 276.6L649.9 288M649.9 288L661.5 300.7M661 286.8L650 300.7M660.8 186L670.2 199.5M672.5 186L659.6 199.2M659.6 199.2L672.9 210.7M670.2 199.5L661.4 210M661.4 210L673.3 223.9M672.9 210.7L661.6 224.1M661.6 224.1L674.7 238.2M673.3 223.9L659.4 239.2M659.4 239.2L671.6 251.8M674.7 238.2L660 247.9M660 247.9L670.7 262.6M671.6 251.8L659.4 263.2M659.4 263.2L672.4 273.9M670.7 262.6L663.1 276.6M663.1 276.6L670.9 289.4M672.4 273.9L661 286.8M661 286.8L673 300.7M670.9 289.4L661.5 300.7M672.5 186L681.9 199M684.1 186L670.2 199.5M670.2 199.5L686.2 209.7M681.9 199L672.9 210.7M672.9 210.7L682.8 224.8M686.2 209.7L673.3 223.9M673.3 223.9L684.3 237.7M682.8 224.8L674.7 238.2M674.7 238.2L685.8 248.1M684.3 237.7L671.6 251.8M671.6 251.8L683.5 261.4M685.8 248.1L670.7 262.6M670.7 262.6L682.3 277.2M683.5 261.4L672.4 273.9M672.4 273.9L685.8 289.1M682.3 277.2L670.9 289.4M670.9 289.4L684.5 300.7M685.8 289.1L673 300.7M684.1 186L695.7 198.7M695.7 186L681.9 199M681.9 199L695.8 211.5M695.7 198.7L686.2 209.7M686.2 209.7L695.8 224.2M695.8 211.5L682.8 224.8M682.8 224.8L695.8 237M695.8 224.2L684.3 237.7M684.3 237.7L695.9 249.7M695.8 237L685.8 248.1M685.8 248.1L695.9 262.5M695.9 249.7L683.5 261.4M683.5 261.4L695.9 275.2M695.9 262.5L682.3 277.2M682.3 277.2L696 288M695.9 275.2L685.8 289.1M685.8 289.1L696 300.7M696 288L684.5 300.7"/>
<path d="M662 186L662 198.7M662 198.7L662 211.5M662 211.5L662 224.2M662 224.2L662 237M662 237L662 249.7M662 249.7L662 262.5M662 262.5L662 275.2M662 275.2L662 288M662 288L662 300.7M683 186L683 198.7M683 198.7L683 211.5M683 211.5L683 224.2M683 224.2L683 237M683 237L683 249.7M683 249.7L683 262.5M683 262.5L683 275.2M683 275.2L683 288M683 288L683 300.7M662 186L683 186M662 198.7L683 198.7M662 211.5L683 211.5M662 224.2L683 224.2M662 237L683 237M662 249.7L683 249.7M662 262.5L683 262.5M662 275.2L683 275.2M662 288L683 288M662 300.7L683 300.7"/>
<path d="M629.5 304.2L629.5 318.6M629.5 318.6L629.5 333M640.4 304.2L637.2 321.6M637.2 321.6L640.4 333M651.4 304.2L653 318.3M653 318.3L651.4 333M662.3 304.2L663.9 318.2M663.9 318.2L662.3 333M673.2 304.2L671.4 315.2M671.4 315.2L673.2 333M684.1 304.2L682.4 314.6M682.4 314.6L684.1 333M695 304.2L694 320.8M694 320.8L695 333M706 304.2L707.3 321.6M707.3 321.6L706 333M716.9 304.2L716.9 318.6M716.9 318.6L716.9 333M629.5 304.2L640.4 304.2M640.4 304.2L651.4 304.2M651.4 304.2L662.3 304.2M662.3 304.2L673.2 304.2M673.2 304.2L684.1 304.2M684.1 304.2L695 304.2M695 304.2L706 304.2M706 304.2L716.9 304.2M629.5 318.6L637.2 321.6M637.2 321.6L653 318.3M653 318.3L663.9 318.2M663.9 318.2L671.4 315.2M671.4 315.2L682.4 314.6M682.4 314.6L694 320.8M694 320.8L707.3 321.6M707.3 321.6L716.9 318.6M629.5 333L640.4 333M640.4 333L651.4 333M651.4 333L662.3 333M662.3 333L673.2 333M673.2 333L684.1 333M684.1 333L695 333M695 333L706 333M706 333L716.9 333M629.5 304.2L637.2 321.6M640.4 304.2L629.5 318.6M629.5 318.6L640.4 333M637.2 321.6L629.5 333M640.4 304.2L653 318.3M651.4 304.2L637.2 321.6M637.2 321.6L651.4 333M653 318.3L640.4 333M651.4 304.2L663.9 318.2M662.3 304.2L653 318.3M653 318.3L662.3 333M663.9 318.2L651.4 333M662.3 304.2L671.4 315.2M673.2 304.2L663.9 318.2M663.9 318.2L673.2 333M671.4 315.2L662.3 333M673.2 304.2L682.4 314.6M684.1 304.2L671.4 315.2M671.4 315.2L684.1 333M682.4 314.6L673.2 333M684.1 304.2L694 320.8M695 304.2L682.4 314.6M682.4 314.6L695 333M694 320.8L684.1 333M695 304.2L707.3 321.6M706 304.2L694 320.8M694 320.8L706 333M707.3 321.6L695 333M706 304.2L716.9 318.6M716.9 304.2L707.3 321.6M707.3 321.6L716.9 333M716.9 318.6L706 333"/>
<path d="M629.5 304.2L716.9 304.2M650 299.2L696 299.2M629.5 304.2L650 299.2M716.9 304.2L696 299.2"/>
</g>
<path d="M671.8 179.9 L671.6 190 C671 198 677 204 684.4 209 C668 212 659.8 217 659.8 221 C659.8 226 670 230 684.4 233 C668 236 659.8 241 659.8 245 C659.8 250 670 254 684.4 256.7 C668 260 660.5 265 660.5 269 C660.5 274 672 278 681 280 C686 283 682 289 677.5 294 L673.2 304.2" fill="none" stroke="#c21a1a" stroke-width="1.5"/>
<rect x="592" y="155.9" width="163.8" height="176.6" fill="none" stroke="#8e0f10" stroke-width="2.6"/>
<rect x="463.7" y="237.3" width="97.2" height="95" fill="none" stroke="#8e1010" stroke-width="1.9" stroke-dasharray="7.6 4.6"/>
<line x1="555.5" y1="284" x2="598" y2="267.5" stroke="#000" stroke-width="1.9" />
<polygon points="604.6,264.9 589.8,263.2 595.8,268.3 594,276.6" fill="#000" stroke="none" stroke-width="1" />
<line x1="97.5" y1="197.9" x2="189.8" y2="135.4" stroke="#e6b322" stroke-width="2.3" />
<polygon points="194.8,132 187.7,144.7 188.1,136.5 180.4,133.9" fill="#e6b322" stroke="none" stroke-width="1" />
<line x1="132.4" y1="392.7" x2="211.7" y2="476.4" stroke="#e6b322" stroke-width="2.3" />
<polygon points="215.8,480.8 202.1,475.8 210.3,474.9 211.6,466.9" fill="#e6b322" stroke="none" stroke-width="1" />
<line x1="350.5" y1="399.2" x2="410.6" y2="556.6" stroke="#e6b322" stroke-width="2.3" />
<polygon points="412.7,562.2 402,552.4 409.8,554.7 414.1,547.7" fill="#e6b322" stroke="none" stroke-width="1" />
<line x1="600.4" y1="520.9" x2="529.4" y2="632.3" stroke="#e6b322" stroke-width="2.3" />
<polygon points="526.2,637.4 527.7,622.9 530.5,630.6 538.7,629.9" fill="#e6b322" stroke="none" stroke-width="1" />
<circle cx="524.2" cy="640.4" r="3" fill="#e01010"/>
<rect x="61.9" y="494" width="6.2" height="31" fill="#5ab82c"/>
<rect x="63.4" y="494" width="2" height="31" fill="#84d452"/>
<polygon points="65.1,478.6 72.6,495 57.4,495" fill="#62bd30" stroke="none" stroke-width="1" />
<polygon points="30.1,531.2 40.4,521.3 46.2,525 64.5,522.3 65,526.8 47,530.8 42.9,536.1" fill="#1010c2" stroke="none" stroke-width="1" />
<polygon points="96.1,531.2 87.5,521.3 82.5,525.8 65.5,522.3 65,526.8 81.3,530.8 84.2,536.1" fill="#b01515" stroke="none" stroke-width="1" />
<circle cx="88" cy="529" r="3.5" fill="#c42a2a"/>
<text x="63.6" y="467.6" font-size="10.5" fill="#111" text-anchor="middle" class="dj" font-weight="bold">Y</text>
<text x="18.2" y="535.6" font-size="10.5" fill="#111" text-anchor="middle" class="dj" font-weight="bold">Z</text>
<text x="106.3" y="535.6" font-size="10.5" fill="#111" text-anchor="middle" class="dj" font-weight="bold">X</text>
<text x="671" y="82.3" font-size="45" fill="#000" text-anchor="middle" class="serif" >Spring</text>
<text x="671.5" y="132.8" font-size="45" fill="#000" text-anchor="middle" class="serif" >model</text>
<text x="1.4" y="233.7" font-size="45" fill="#000" text-anchor="start" class="serif" >Shoulder</text>
<text x="1.5" y="269.4" font-size="45" fill="#000" text-anchor="start" class="serif" >connector</text>
<text x="36" y="372.6" font-size="45" fill="#000" text-anchor="start" class="serif" >Rigid</text>
<text x="36" y="414.2" font-size="45" fill="#000" text-anchor="start" class="serif" >rod</text>
<text x="296.5" y="377.7" font-size="45" fill="#000" text-anchor="start" class="serif" >Table</text>
<text x="610" y="508.9" font-size="45" fill="#000" text-anchor="start" class="serif" >Node for</text>
<text x="609.8" y="550.5" font-size="45" fill="#000" text-anchor="start" class="serif" >output</text>
</g>
<g id="panelB">
<rect x="912.3" y="675.6" width="358.5" height="26.9" fill="#b1b1b1"/>
<line x1="912.3" y1="675.6" x2="1270.8" y2="675.6" stroke="#3a3a3a" stroke-width="1.3" />
<line x1="912.3" y1="702.5" x2="1270.8" y2="702.5" stroke="#3a3a3a" stroke-width="1.3" />
<line x1="1270.8" y1="675.6" x2="1270.8" y2="702.5" stroke="#555" stroke-width="1" />
<rect x="1151" y="6.4" width="31.8" height="124.6" fill="#0c1cc9" stroke="#0b0f80" stroke-width="1.2"/>
<rect x="1157.4" y="63.6" width="20.8" height="67.4" fill="#2c2c2c" stroke="#151515" stroke-width="0.8"/>
<rect x="1154.3" y="126" width="26.5" height="5" fill="#2c2c2c" stroke="#151515" stroke-width="0.8"/>
<line x1="1164.9" y1="65.6" x2="1164.9" y2="131" stroke="#161616" stroke-width="1" />
<line x1="1170.3" y1="65.6" x2="1170.3" y2="131" stroke="#161616" stroke-width="1" />
<rect x="1140.3" y="190.7" width="53.2" height="43.8" fill="#0c1cc9" stroke="#0b0f80" stroke-width="1.2"/>
<rect x="1140.3" y="130.5" width="53.2" height="60.2" fill="#2c2c2c" stroke="#121212" stroke-width="1.2"/>
<line x1="1140.3" y1="135" x2="1193.5" y2="135" stroke="#141414" stroke-width="1" />
<line x1="1140.3" y1="139.5" x2="1190.5" y2="139.5" stroke="#141414" stroke-width="1" />
<polygon points="1154.3,235.3 1180.3,235.3 1177.2,306.8 1151.8,306.8" fill="#0c1cc9" stroke="#0b0f80" stroke-width="1" />
<polygon points="1152.5,286 1178.1,286 1177.2,306.8 1151.8,306.8" fill="#3563d8" stroke="none" stroke-width="1" />
<line x1="1162.1" y1="235.3" x2="1159.4" y2="306.8" stroke="#080c60" stroke-width="1.1" />
<line x1="1172" y1="235.3" x2="1169.1" y2="306.8" stroke="#080c60" stroke-width="1.1" />
<clipPath id="barL"><polygon points="1146,307 1183.3,309 1165,666.5 1127.2,668.5"/></clipPath>
<g clip-path="url(#barL)">
<polygon points="1125.1,297.9 1205.1,302.1 1203.5,333.3 1123.5,329.1" fill="#2b58d3" stroke="none" stroke-width="1" />
<polygon points="1123.5,328.5 1203.5,332.7 1201.3,374.7 1121.3,370.5" fill="#5a9ad8" stroke="none" stroke-width="1" />
<polygon points="1121.3,369.9 1201.3,374.1 1199.2,415.4 1119.2,411.2" fill="#70d2c6" stroke="none" stroke-width="1" />
<polygon points="1119.2,410.6 1199.2,414.8 1197.3,453.2 1117.3,449" fill="#76d98c" stroke="none" stroke-width="1" />
<polygon points="1117.3,448.4 1197.3,452.6 1195.2,493.7 1115.2,489.5" fill="#63cb45" stroke="none" stroke-width="1" />
<polygon points="1115.2,488.9 1195.2,493.1 1193.3,530.2 1113.3,526" fill="#7cd335" stroke="none" stroke-width="1" />
<polygon points="1113.3,525.4 1193.3,529.6 1191.4,568.1 1111.4,563.9" fill="#a0d631" stroke="none" stroke-width="1" />
<polygon points="1111.4,563.3 1191.4,567.5 1189.4,606 1109.4,601.8" fill="#d8db30" stroke="none" stroke-width="1" />
<polygon points="1109.4,601.2 1189.4,605.4 1187.5,642.5 1107.5,638.3" fill="#dba522" stroke="none" stroke-width="1" />
<polygon points="1107.5,637.7 1187.5,641.9 1185.5,682.7 1105.5,678.5" fill="#da5f14" stroke="none" stroke-width="1" />
</g>
<polygon points="1146,307 1183.3,309 1165,666.5 1127.2,668.5" fill="none" stroke="#1a1a1a" stroke-width="1.3" />
<circle cx="1162.3" cy="349" r="5.9" fill="#fff" stroke="#1c1c1c" stroke-width="1.3"/>
<circle cx="1160.7" cy="379.9" r="5.9" fill="#fff" stroke="#1c1c1c" stroke-width="1.3"/>
<circle cx="1159.1" cy="410.9" r="5.9" fill="#fff" stroke="#1c1c1c" stroke-width="1.3"/>
<circle cx="1157.5" cy="441.9" r="5.9" fill="#fff" stroke="#1c1c1c" stroke-width="1.3"/>
<circle cx="1156" cy="472.8" r="5.9" fill="#fff" stroke="#1c1c1c" stroke-width="1.3"/>
<circle cx="1154.4" cy="503.8" r="5.9" fill="#fff" stroke="#1c1c1c" stroke-width="1.3"/>
<circle cx="1152.8" cy="534.7" r="5.9" fill="#fff" stroke="#1c1c1c" stroke-width="1.3"/>
<circle cx="1151.2" cy="565.6" r="5.9" fill="#fff" stroke="#1c1c1c" stroke-width="1.3"/>
<circle cx="1149.6" cy="596.6" r="5.9" fill="#fff" stroke="#1c1c1c" stroke-width="1.3"/>
<circle cx="1148" cy="627.5" r="5.9" fill="#fff" stroke="#1c1c1c" stroke-width="1.3"/>
<rect x="1145.2" y="637" width="3.2" height="34" fill="#f4f4f4" stroke="#2a2a2a" stroke-width="0.9"/>
<polygon points="1120.7,675.4 1131,671.6 1158,670.8 1166.3,675.4" fill="#da5f14" stroke="#444" stroke-width="0.7" />
<rect x="1290" y="675.7" width="438.8" height="27.4" fill="#b1b1b1"/>
<line x1="1290" y1="675.7" x2="1728.8" y2="675.7" stroke="#3a3a3a" stroke-width="1.3" />
<line x1="1290" y1="703.1" x2="1728.8" y2="703.1" stroke="#3a3a3a" stroke-width="1.3" />
<line x1="1728.8" y1="675.7" x2="1728.8" y2="703.1" stroke="#555" stroke-width="1" />
<rect x="1527.2" y="12.8" width="32.5" height="127" fill="#0c1cc9" stroke="#0b0f80" stroke-width="1.2"/>
<rect x="1533.4" y="50.4" width="21.2" height="89.4" fill="#2c2c2c" stroke="#151515" stroke-width="0.8"/>
<rect x="1531" y="115" width="26.1" height="24.8" fill="#2c2c2c" stroke="#151515" stroke-width="0.8"/>
<line x1="1541" y1="52.4" x2="1541" y2="139.8" stroke="#161616" stroke-width="1" />
<line x1="1546.5" y1="52.4" x2="1546.5" y2="139.8" stroke="#161616" stroke-width="1" />
<rect x="1516.2" y="201.2" width="54.2" height="45" fill="#0c1cc9" stroke="#0b0f80" stroke-width="1.2"/>
<rect x="1516.2" y="139.8" width="54.2" height="61.4" fill="#2c2c2c" stroke="#121212" stroke-width="1.2"/>
<line x1="1516.2" y1="144.3" x2="1570.4" y2="144.3" stroke="#141414" stroke-width="1" />
<line x1="1516.2" y1="148.8" x2="1567.4" y2="148.8" stroke="#141414" stroke-width="1" />
<polygon points="1530.3,246.7 1555.8,246.7 1553.3,300.6 1527.7,300.6" fill="#0c1cc9" stroke="#0b0f80" stroke-width="1" />
<polygon points="1528.3,289 1553.8,289 1553.3,300.6 1527.7,300.6" fill="#3563d8" stroke="none" stroke-width="1" />
<line x1="1538" y1="246.7" x2="1535.4" y2="300.6" stroke="#080c60" stroke-width="1.1" />
<line x1="1547.6" y1="246.7" x2="1545.1" y2="300.6" stroke="#080c60" stroke-width="1.1" />
<clipPath id="barR"><polygon points="1522.1,297.8 1559.7,301.1 1539.4,669.9 1500.2,667.3"/></clipPath>
<g clip-path="url(#barR)">
<polygon points="1501.4,287.6 1581.4,292.4 1579.4,329 1499.4,324.2" fill="#2b58d3" stroke="none" stroke-width="1" />
<polygon points="1499.4,323.6 1579.4,328.4 1577.3,364.8 1497.3,360" fill="#5a9ad8" stroke="none" stroke-width="1" />
<polygon points="1497.3,359.4 1577.3,364.2 1575.2,402.6 1495.2,397.8" fill="#70d2c6" stroke="none" stroke-width="1" />
<polygon points="1495.2,397.2 1575.2,402 1573.2,436.6 1493.2,431.8" fill="#76d98c" stroke="none" stroke-width="1" />
<polygon points="1493.2,431.2 1573.2,436 1571.3,470.5 1491.3,465.7" fill="#63cb45" stroke="none" stroke-width="1" />
<polygon points="1491.3,465.1 1571.3,469.9 1569.4,504.5 1489.4,499.7" fill="#7cd335" stroke="none" stroke-width="1" />
<polygon points="1489.4,499.1 1569.4,503.9 1567.6,535.8 1487.6,531" fill="#a0d631" stroke="none" stroke-width="1" />
<polygon points="1487.6,530.4 1567.6,535.2 1565.6,569.8 1485.6,565" fill="#d8db30" stroke="none" stroke-width="1" />
<polygon points="1485.6,564.4 1565.6,569.2 1563.8,602.4 1483.8,597.6" fill="#dba522" stroke="none" stroke-width="1" />
<polygon points="1483.8,597 1563.8,601.8 1562,633.8 1482,629" fill="#da5f14" stroke="none" stroke-width="1" />
<polygon points="1482,628.4 1562,633.2 1560.2,665.1 1480.2,660.3" fill="#d9100e" stroke="none" stroke-width="1" />
<polygon points="1480.2,659.7 1560.2,664.5 1559.1,683 1479.1,678.2" fill="#c4c4c4" stroke="none" stroke-width="1" />
</g>
<polygon points="1522.1,297.8 1559.7,301.1 1539.4,669.9 1500.2,667.3" fill="none" stroke="#1a1a1a" stroke-width="1.3" />
<circle cx="1538.5" cy="341.8" r="5.9" fill="#fff" stroke="#1c1c1c" stroke-width="1.3"/>
<circle cx="1536.8" cy="373.5" r="5.9" fill="#fff" stroke="#1c1c1c" stroke-width="1.3"/>
<circle cx="1535" cy="405.4" r="5.9" fill="#fff" stroke="#1c1c1c" stroke-width="1.3"/>
<circle cx="1532.9" cy="437" r="5.9" fill="#fff" stroke="#1c1c1c" stroke-width="1.3"/>
<circle cx="1530.8" cy="468.8" r="5.9" fill="#fff" stroke="#1c1c1c" stroke-width="1.3"/>
<circle cx="1529" cy="500.7" r="5.9" fill="#fff" stroke="#1c1c1c" stroke-width="1.3"/>
<circle cx="1527.1" cy="532" r="5.9" fill="#fff" stroke="#1c1c1c" stroke-width="1.3"/>
<circle cx="1525.6" cy="564.2" r="5.9" fill="#fff" stroke="#1c1c1c" stroke-width="1.3"/>
<circle cx="1523.7" cy="595.5" r="5.9" fill="#fff" stroke="#1c1c1c" stroke-width="1.3"/>
<circle cx="1521.7" cy="626.8" r="5.9" fill="#fff" stroke="#1c1c1c" stroke-width="1.3"/>
<rect x="1519" y="637.3" width="3.2" height="33.7" fill="#f4f4f4" stroke="#2a2a2a" stroke-width="0.9"/>
<polygon points="1491,676.2 1501,670.5 1538,671.5 1546,676.2" fill="#c0c0c0" stroke="#444" stroke-width="0.7" />
<rect x="934" y="201.3" width="31.4" height="20.6" fill="#cfcfcf" stroke="#333" stroke-width="1"/>
<rect x="934" y="221.9" width="31.4" height="20.6" fill="#dc0000" stroke="#333" stroke-width="1"/>
<rect x="934" y="242.5" width="31.4" height="20.6" fill="#e2611b" stroke="#333" stroke-width="1"/>
<rect x="934" y="263.1" width="31.4" height="20.6" fill="#efb52b" stroke="#333" stroke-width="1"/>
<rect x="934" y="283.7" width="31.4" height="20.6" fill="#f2fa3e" stroke="#333" stroke-width="1"/>
<rect x="934" y="304.3" width="31.4" height="20.6" fill="#bdf83f" stroke="#333" stroke-width="1"/>
<rect x="934" y="324.9" width="31.4" height="20.6" fill="#97f83f" stroke="#333" stroke-width="1"/>
<rect x="934" y="345.5" width="31.4" height="20.6" fill="#92f842" stroke="#333" stroke-width="1"/>
<rect x="934" y="366.1" width="31.4" height="20.6" fill="#90f88f" stroke="#333" stroke-width="1"/>
<rect x="934" y="386.7" width="31.4" height="20.6" fill="#90f9e2" stroke="#333" stroke-width="1"/>
<rect x="934" y="407.3" width="31.4" height="20.6" fill="#69b9f1" stroke="#333" stroke-width="1"/>
<rect x="934" y="427.9" width="31.4" height="20.6" fill="#2f63e2" stroke="#333" stroke-width="1"/>
<rect x="934" y="448.5" width="31.4" height="20.6" fill="#0505e0" stroke="#333" stroke-width="1"/>
<rect x="934" y="469.1" width="31.4" height="20.6" fill="#404040" stroke="#333" stroke-width="1"/>
<line x1="965.4" y1="201.3" x2="974.9" y2="201.3" stroke="#222" stroke-width="1" />
<line x1="965.4" y1="221.9" x2="974.9" y2="221.9" stroke="#222" stroke-width="1" />
<line x1="965.4" y1="242.5" x2="974.9" y2="242.5" stroke="#222" stroke-width="1" />
<line x1="965.4" y1="263.1" x2="974.9" y2="263.1" stroke="#222" stroke-width="1" />
<line x1="965.4" y1="283.7" x2="974.9" y2="283.7" stroke="#222" stroke-width="1" />
<line x1="965.4" y1="304.3" x2="974.9" y2="304.3" stroke="#222" stroke-width="1" />
<line x1="965.4" y1="324.9" x2="974.9" y2="324.9" stroke="#222" stroke-width="1" />
<line x1="965.4" y1="345.5" x2="974.9" y2="345.5" stroke="#222" stroke-width="1" />
<line x1="965.4" y1="366.1" x2="974.9" y2="366.1" stroke="#222" stroke-width="1" />
<line x1="965.4" y1="386.7" x2="974.9" y2="386.7" stroke="#222" stroke-width="1" />
<line x1="965.4" y1="407.3" x2="974.9" y2="407.3" stroke="#222" stroke-width="1" />
<line x1="965.4" y1="427.9" x2="974.9" y2="427.9" stroke="#222" stroke-width="1" />
<line x1="965.4" y1="448.5" x2="974.9" y2="448.5" stroke="#222" stroke-width="1" />
<line x1="965.4" y1="469.1" x2="974.9" y2="469.1" stroke="#222" stroke-width="1" />
<line x1="965.4" y1="489.7" x2="974.9" y2="489.7" stroke="#222" stroke-width="1" />
<text x="934.8" y="181.4" font-size="19" fill="#111" text-anchor="start" class="mono" stroke="#111" stroke-width="0.4">U, U3</text>
<text x="986.3" y="207.9" font-size="20" fill="#111" text-anchor="start" class="mono" stroke="#111" stroke-width="0.45" textLength="128" lengthAdjust="spacingAndGlyphs">+3.000e+01</text>
<text x="986.3" y="228.4" font-size="20" fill="#111" text-anchor="start" class="mono" stroke="#111" stroke-width="0.45" textLength="128" lengthAdjust="spacingAndGlyphs">+4.500e+00</text>
<text x="986.3" y="248.9" font-size="20" fill="#111" text-anchor="start" class="mono" stroke="#111" stroke-width="0.45" textLength="128" lengthAdjust="spacingAndGlyphs">+4.125e+00</text>
<text x="986.3" y="269.4" font-size="20" fill="#111" text-anchor="start" class="mono" stroke="#111" stroke-width="0.45" textLength="128" lengthAdjust="spacingAndGlyphs">+3.750e+00</text>
<text x="986.3" y="289.9" font-size="20" fill="#111" text-anchor="start" class="mono" stroke="#111" stroke-width="0.45" textLength="128" lengthAdjust="spacingAndGlyphs">+3.375e+00</text>
<text x="986.3" y="310.4" font-size="20" fill="#111" text-anchor="start" class="mono" stroke="#111" stroke-width="0.45" textLength="128" lengthAdjust="spacingAndGlyphs">+3.000e+00</text>
<text x="986.3" y="330.9" font-size="20" fill="#111" text-anchor="start" class="mono" stroke="#111" stroke-width="0.45" textLength="128" lengthAdjust="spacingAndGlyphs">+2.625e+00</text>
<text x="986.3" y="351.4" font-size="20" fill="#111" text-anchor="start" class="mono" stroke="#111" stroke-width="0.45" textLength="128" lengthAdjust="spacingAndGlyphs">+2.250e+00</text>
<text x="986.3" y="371.9" font-size="20" fill="#111" text-anchor="start" class="mono" stroke="#111" stroke-width="0.45" textLength="128" lengthAdjust="spacingAndGlyphs">+1.875e+00</text>
<text x="986.3" y="392.4" font-size="20" fill="#111" text-anchor="start" class="mono" stroke="#111" stroke-width="0.45" textLength="128" lengthAdjust="spacingAndGlyphs">+1.500e+00</text>
<text x="986.3" y="412.9" font-size="20" fill="#111" text-anchor="start" class="mono" stroke="#111" stroke-width="0.45" textLength="128" lengthAdjust="spacingAndGlyphs">+1.125e+00</text>
<text x="986.3" y="433.4" font-size="20" fill="#111" text-anchor="start" class="mono" stroke="#111" stroke-width="0.45" textLength="128" lengthAdjust="spacingAndGlyphs">+7.500e-01</text>
<text x="986.3" y="453.9" font-size="20" fill="#111" text-anchor="start" class="mono" stroke="#111" stroke-width="0.45" textLength="128" lengthAdjust="spacingAndGlyphs">+3.750e-01</text>
<text x="986.3" y="474.4" font-size="20" fill="#111" text-anchor="start" class="mono" stroke="#111" stroke-width="0.45" textLength="128" lengthAdjust="spacingAndGlyphs">+0.000e+00</text>
<text x="986.3" y="494.9" font-size="20" fill="#111" text-anchor="start" class="mono" stroke="#111" stroke-width="0.45" textLength="128" lengthAdjust="spacingAndGlyphs">-1.315e-01</text>
<rect x="1309.9" y="200.7" width="31.2" height="20.6" fill="#cfcfcf" stroke="#333" stroke-width="1"/>
<rect x="1309.9" y="221.3" width="31.2" height="20.6" fill="#dc0000" stroke="#333" stroke-width="1"/>
<rect x="1309.9" y="241.9" width="31.2" height="20.6" fill="#e2611b" stroke="#333" stroke-width="1"/>
<rect x="1309.9" y="262.5" width="31.2" height="20.6" fill="#efb52b" stroke="#333" stroke-width="1"/>
<rect x="1309.9" y="283.1" width="31.2" height="20.6" fill="#f2fa3e" stroke="#333" stroke-width="1"/>
<rect x="1309.9" y="303.7" width="31.2" height="20.6" fill="#bdf83f" stroke="#333" stroke-width="1"/>
<rect x="1309.9" y="324.3" width="31.2" height="20.6" fill="#97f83f" stroke="#333" stroke-width="1"/>
<rect x="1309.9" y="344.9" width="31.2" height="20.6" fill="#92f842" stroke="#333" stroke-width="1"/>
<rect x="1309.9" y="365.5" width="31.2" height="20.6" fill="#90f88f" stroke="#333" stroke-width="1"/>
<rect x="1309.9" y="386.1" width="31.2" height="20.6" fill="#90f9e2" stroke="#333" stroke-width="1"/>
<rect x="1309.9" y="406.7" width="31.2" height="20.6" fill="#69b9f1" stroke="#333" stroke-width="1"/>
<rect x="1309.9" y="427.3" width="31.2" height="20.6" fill="#2f63e2" stroke="#333" stroke-width="1"/>
<rect x="1309.9" y="447.9" width="31.2" height="20.6" fill="#0505e0" stroke="#333" stroke-width="1"/>
<rect x="1309.9" y="468.5" width="31.2" height="20.6" fill="#404040" stroke="#333" stroke-width="1"/>
<line x1="1341.1" y1="200.7" x2="1350.6" y2="200.7" stroke="#222" stroke-width="1" />
<line x1="1341.1" y1="221.3" x2="1350.6" y2="221.3" stroke="#222" stroke-width="1" />
<line x1="1341.1" y1="241.9" x2="1350.6" y2="241.9" stroke="#222" stroke-width="1" />
<line x1="1341.1" y1="262.5" x2="1350.6" y2="262.5" stroke="#222" stroke-width="1" />
<line x1="1341.1" y1="283.1" x2="1350.6" y2="283.1" stroke="#222" stroke-width="1" />
<line x1="1341.1" y1="303.7" x2="1350.6" y2="303.7" stroke="#222" stroke-width="1" />
<line x1="1341.1" y1="324.3" x2="1350.6" y2="324.3" stroke="#222" stroke-width="1" />
<line x1="1341.1" y1="344.9" x2="1350.6" y2="344.9" stroke="#222" stroke-width="1" />
<line x1="1341.1" y1="365.5" x2="1350.6" y2="365.5" stroke="#222" stroke-width="1" />
<line x1="1341.1" y1="386.1" x2="1350.6" y2="386.1" stroke="#222" stroke-width="1" />
<line x1="1341.1" y1="406.7" x2="1350.6" y2="406.7" stroke="#222" stroke-width="1" />
<line x1="1341.1" y1="427.3" x2="1350.6" y2="427.3" stroke="#222" stroke-width="1" />
<line x1="1341.1" y1="447.9" x2="1350.6" y2="447.9" stroke="#222" stroke-width="1" />
<line x1="1341.1" y1="468.5" x2="1350.6" y2="468.5" stroke="#222" stroke-width="1" />
<line x1="1341.1" y1="489.1" x2="1350.6" y2="489.1" stroke="#222" stroke-width="1" />
<text x="1310.2" y="180.2" font-size="19" fill="#111" text-anchor="start" class="mono" stroke="#111" stroke-width="0.4">U, U3</text>
<text x="1363.1" y="207.3" font-size="20" fill="#111" text-anchor="start" class="mono" stroke="#111" stroke-width="0.45" textLength="128" lengthAdjust="spacingAndGlyphs">+1.500e+01</text>
<text x="1363.1" y="227.8" font-size="20" fill="#111" text-anchor="start" class="mono" stroke="#111" stroke-width="0.45" textLength="128" lengthAdjust="spacingAndGlyphs">+4.500e+00</text>
<text x="1363.1" y="248.3" font-size="20" fill="#111" text-anchor="start" class="mono" stroke="#111" stroke-width="0.45" textLength="128" lengthAdjust="spacingAndGlyphs">+4.125e+00</text>
<text x="1363.1" y="268.8" font-size="20" fill="#111" text-anchor="start" class="mono" stroke="#111" stroke-width="0.45" textLength="128" lengthAdjust="spacingAndGlyphs">+3.750e+00</text>
<text x="1363.1" y="289.3" font-size="20" fill="#111" text-anchor="start" class="mono" stroke="#111" stroke-width="0.45" textLength="128" lengthAdjust="spacingAndGlyphs">+3.375e+00</text>
<text x="1363.1" y="309.8" font-size="20" fill="#111" text-anchor="start" class="mono" stroke="#111" stroke-width="0.45" textLength="128" lengthAdjust="spacingAndGlyphs">+3.000e+00</text>
<text x="1363.1" y="330.3" font-size="20" fill="#111" text-anchor="start" class="mono" stroke="#111" stroke-width="0.45" textLength="128" lengthAdjust="spacingAndGlyphs">+2.625e+00</text>
<text x="1363.1" y="350.8" font-size="20" fill="#111" text-anchor="start" class="mono" stroke="#111" stroke-width="0.45" textLength="128" lengthAdjust="spacingAndGlyphs">+2.250e+00</text>
<text x="1363.1" y="371.3" font-size="20" fill="#111" text-anchor="start" class="mono" stroke="#111" stroke-width="0.45" textLength="128" lengthAdjust="spacingAndGlyphs">+1.875e+00</text>
<text x="1363.1" y="391.8" font-size="20" fill="#111" text-anchor="start" class="mono" stroke="#111" stroke-width="0.45" textLength="128" lengthAdjust="spacingAndGlyphs">+1.500e+00</text>
<text x="1363.1" y="412.3" font-size="20" fill="#111" text-anchor="start" class="mono" stroke="#111" stroke-width="0.45" textLength="128" lengthAdjust="spacingAndGlyphs">+1.125e+00</text>
<text x="1363.1" y="432.8" font-size="20" fill="#111" text-anchor="start" class="mono" stroke="#111" stroke-width="0.45" textLength="128" lengthAdjust="spacingAndGlyphs">+7.500e-01</text>
<text x="1363.1" y="453.3" font-size="20" fill="#111" text-anchor="start" class="mono" stroke="#111" stroke-width="0.45" textLength="128" lengthAdjust="spacingAndGlyphs">+3.750e-01</text>
<text x="1363.1" y="473.8" font-size="20" fill="#111" text-anchor="start" class="mono" stroke="#111" stroke-width="0.45" textLength="128" lengthAdjust="spacingAndGlyphs">+0.000e+00</text>
<text x="1363.1" y="494.3" font-size="20" fill="#111" text-anchor="start" class="mono" stroke="#111" stroke-width="0.45" textLength="128" lengthAdjust="spacingAndGlyphs">-1.221e-01</text>
<rect x="1021.4" y="585.9" width="9" height="40" fill="#5db92e"/>
<rect x="1023.9" y="585.9" width="3" height="40" fill="#7fd04c"/>
<polygon points="1025.9,560.1 1037.7,586.4 1014.1,586.4" fill="#5cba2e" stroke="none" stroke-width="1" />
<polygon points="1025.9,560.1 1028.9,586.4 1020.9,586.4" fill="#8cd85c" stroke="none" stroke-width="1" />
<rect x="974.9" y="631.3" width="42" height="9.2" fill="#1010c8"/>
<rect x="974.9" y="633.3" width="42" height="2.6" fill="#3a3af0"/>
<polygon points="949.6,635.9 975.7,624.1 975.7,647.7" fill="#0c0cc4" stroke="none" stroke-width="1" />
<polygon points="949.6,635.9 975.7,629.9 975.7,636.9" fill="#3232ee" stroke="none" stroke-width="1" />
<circle cx="1025.9" cy="635.9" r="11.7" fill="#a30e0e"/>
<circle cx="1023.9" cy="632.9" r="7" fill="#c41818"/>
<text x="1025.9" y="640.3" font-size="12" fill="#000" text-anchor="middle" class="dj" font-weight="bold">X</text>
<text x="1025.4" y="545.4" font-size="12" fill="#111" text-anchor="middle" class="dj" font-weight="bold">Y</text>
<text x="931.6" y="639.7" font-size="12" fill="#111" text-anchor="middle" class="dj" font-weight="bold">Z</text>
<rect x="1397.8" y="587.3" width="9" height="40" fill="#5db92e"/>
<rect x="1400.3" y="587.3" width="3" height="40" fill="#7fd04c"/>
<polygon points="1402.3,561.5 1414.1,587.8 1390.5,587.8" fill="#5cba2e" stroke="none" stroke-width="1" />
<polygon points="1402.3,561.5 1405.3,587.8 1397.3,587.8" fill="#8cd85c" stroke="none" stroke-width="1" />
<rect x="1351.3" y="632.7" width="42" height="9.2" fill="#1010c8"/>
<rect x="1351.3" y="634.7" width="42" height="2.6" fill="#3a3af0"/>
<polygon points="1326,637.3 1352.1,625.5 1352.1,649.1" fill="#0c0cc4" stroke="none" stroke-width="1" />
<polygon points="1326,637.3 1352.1,631.3 1352.1,638.3" fill="#3232ee" stroke="none" stroke-width="1" />
<circle cx="1402.3" cy="637.3" r="11.7" fill="#a30e0e"/>
<circle cx="1400.3" cy="634.3" r="7" fill="#c41818"/>
<text x="1402.3" y="641.7" font-size="12" fill="#000" text-anchor="middle" class="dj" font-weight="bold">X</text>
<text x="1401.8" y="546.8" font-size="12" fill="#111" text-anchor="middle" class="dj" font-weight="bold">Y</text>
<text x="1308" y="641.1" font-size="12" fill="#111" text-anchor="middle" class="dj" font-weight="bold">Z</text>
<text x="930.5" y="80.1" font-size="44.5" fill="#000" text-anchor="start" class="serif" >1 mm</text>
<text x="929.7" y="116.5" font-size="44.5" fill="#000" text-anchor="start" class="serif" >indentation</text>
<text x="1303.7" y="69.5" font-size="44.5" fill="#000" text-anchor="start" class="serif" >5 mm</text>
<text x="1304.8" y="105.6" font-size="44.5" fill="#000" text-anchor="start" class="serif" >indentation</text>
</g>
<g id="panelC">
<line x1="142.6" y1="1277.1" x2="806.8" y2="1277.1" stroke="#d6d6d6" stroke-width="2.25" />
<line x1="142.6" y1="1227.5" x2="806.8" y2="1227.5" stroke="#d6d6d6" stroke-width="2.25" />
<line x1="142.6" y1="1177.9" x2="806.8" y2="1177.9" stroke="#d6d6d6" stroke-width="2.25" />
<line x1="142.6" y1="1128.3" x2="806.8" y2="1128.3" stroke="#d6d6d6" stroke-width="2.25" />
<line x1="142.6" y1="1078.7" x2="806.8" y2="1078.7" stroke="#d6d6d6" stroke-width="2.25" />
<line x1="142.6" y1="1029" x2="806.8" y2="1029" stroke="#d6d6d6" stroke-width="2.25" />
<line x1="142.6" y1="979.4" x2="806.8" y2="979.4" stroke="#d6d6d6" stroke-width="2.25" />
<line x1="142.6" y1="929.8" x2="806.8" y2="929.8" stroke="#d6d6d6" stroke-width="2.25" />
<line x1="142.6" y1="880.2" x2="806.8" y2="880.2" stroke="#d6d6d6" stroke-width="2.25" />
<line x1="308.6" y1="830.6" x2="308.6" y2="1326.7" stroke="#d6d6d6" stroke-width="2.25" />
<line x1="474.7" y1="830.6" x2="474.7" y2="1326.7" stroke="#d6d6d6" stroke-width="2.25" />
<line x1="640.8" y1="830.6" x2="640.8" y2="1326.7" stroke="#d6d6d6" stroke-width="2.25" />
<rect x="182.8" y="1172.6" width="238.2" height="65.7" fill="#fff"/>
<rect x="521.4" y="1172.6" width="238.6" height="65.7" fill="#fff"/>
<rect x="142.6" y="830.6" width="664.2" height="496.1" fill="none" stroke="#000" stroke-width="2.8"/>
<clipPath id="clipC"><rect x="140.6" y="830.6" width="668.7" height="499.1"/></clipPath>
<g clip-path="url(#clipC)">
<path d="M142.6 1326.7 L474.7 1326.7 L507.9 1029 L541.1 922.9 L574.3 985.4 L607.5 937.8 L640.8 983.4 L674 926.8 L707.2 982.4 L740.4 924.9 L773.6 982.4 L806.8 926.8" fill="none" stroke="#5b9bd5" stroke-width="4.3" stroke-linejoin="round" stroke-linecap="round"/>
<path d="M142.6 1326.7 L474.7 1326.7 L507.9 1029 L541.1 922.9 L574.3 955.6 L607.5 923.9 L640.8 953.6 L674 924.9 L707.2 948.7 L740.4 922.9 L773.6 948.7 L806.8 921.9" fill="none" stroke="#e37c31" stroke-width="4.3" stroke-linejoin="round" stroke-linecap="round"/>
<path d="M142.6 1326.7 L474.7 1326.7 L507.9 1029 L541.1 919.9 L574.3 906 L607.5 915.9 L640.8 906 L674 916.9 L707.2 903 L740.4 917.9 L773.6 905.5 L806.8 915.9" fill="none" stroke="#a5a5a5" stroke-width="4.3" stroke-linejoin="round" stroke-linecap="round"/>
<path d="M142.6 1326.7 L474.7 1326.7 L507.9 1029 L541.1 919.9 L574.3 880.2 L607.5 914.9 L640.8 875.2 L674 915.9 L707.2 882.2 L740.4 916.9 L773.6 875.2 L806.8 916.9" fill="none" stroke="#f8c01c" stroke-width="4.3" stroke-linejoin="round" stroke-linecap="round"/>
<path d="M142.6 1326.7 L474.7 1326.7 L507.9 1029 L541.1 922.9 L574.3 874.8 L607.5 923.9 L640.8 870.8 L674 924.9 L707.2 875.2 L740.4 925.9 L773.6 874.3 L806.8 926.8" fill="none" stroke="#4a72c6" stroke-width="4.3" stroke-linejoin="round" stroke-linecap="round"/>
</g>
<rect x="152.4" y="842.4" width="288" height="304" fill="#fff" stroke="#000" stroke-width="2.6"/>
<line x1="168.5" y1="873.2" x2="233.5" y2="873.2" stroke="#5b9bd5" stroke-width="4.2" stroke-linecap="round"/>
<text x="239.2" y="884.8" font-size="38.7" fill="#595959" text-anchor="start" class="serif" >1 mm indent</text>
<line x1="168.5" y1="934.2" x2="233.5" y2="934.2" stroke="#e37c31" stroke-width="4.2" stroke-linecap="round"/>
<text x="239.2" y="945.9" font-size="38.7" fill="#595959" text-anchor="start" class="serif" >2 mm indent</text>
<line x1="168.5" y1="995.3" x2="233.5" y2="995.3" stroke="#a5a5a5" stroke-width="4.2" stroke-linecap="round"/>
<text x="239.2" y="1006.9" font-size="38.7" fill="#595959" text-anchor="start" class="serif" >3 mm indent</text>
<line x1="168.5" y1="1056.3" x2="233.5" y2="1056.3" stroke="#f8c01c" stroke-width="4.2" stroke-linecap="round"/>
<text x="239.2" y="1067.9" font-size="38.7" fill="#595959" text-anchor="start" class="serif" >4 mm indent</text>
<line x1="168.5" y1="1117.4" x2="233.5" y2="1117.4" stroke="#4a72c6" stroke-width="4.2" stroke-linecap="round"/>
<text x="239.2" y="1129" font-size="38.7" fill="#595959" text-anchor="start" class="serif" >5 mm indent</text>
<text x="108" y="1339.1" font-size="37" fill="#595959" text-anchor="end" class="serif" >0</text>
<text x="108" y="1289.5" font-size="37" fill="#595959" text-anchor="end" class="serif" >0.5</text>
<text x="108" y="1239.9" font-size="37" fill="#595959" text-anchor="end" class="serif" >1</text>
<text x="108" y="1190.3" font-size="37" fill="#595959" text-anchor="end" class="serif" >1.5</text>
<text x="108" y="1140.7" font-size="37" fill="#595959" text-anchor="end" class="serif" >2</text>
<text x="108" y="1091.1" font-size="37" fill="#595959" text-anchor="end" class="serif" >2.5</text>
<text x="108" y="1041.4" font-size="37" fill="#595959" text-anchor="end" class="serif" >3</text>
<text x="108" y="991.8" font-size="37" fill="#595959" text-anchor="end" class="serif" >3.5</text>
<text x="108" y="942.2" font-size="37" fill="#595959" text-anchor="end" class="serif" >4</text>
<text x="108" y="892.6" font-size="37" fill="#595959" text-anchor="end" class="serif" >4.5</text>
<text x="108" y="843" font-size="37" fill="#595959" text-anchor="end" class="serif" >5</text>
<text x="142.6" y="1384.7" font-size="37" fill="#595959" text-anchor="middle" class="serif" >0</text>
<text x="308.6" y="1384.7" font-size="37" fill="#595959" text-anchor="middle" class="serif" >0.5</text>
<text x="474.7" y="1384.7" font-size="37" fill="#595959" text-anchor="middle" class="serif" >1</text>
<text x="640.8" y="1384.7" font-size="37" fill="#595959" text-anchor="middle" class="serif" >1.5</text>
<text x="806.8" y="1384.7" font-size="37" fill="#595959" text-anchor="middle" class="serif" >2</text>
<text transform="translate(43.7,1076) rotate(-90)" font-size="46.2" fill="#595959" text-anchor="middle" class="serif">Deflection [mm]</text>
<text x="442.1" y="1442" font-size="51.8" fill="#595959" text-anchor="middle" class="serif" >Time [s]</text>
<line x1="474.4" y1="1164" x2="474.4" y2="1326.7" stroke="#000" stroke-width="1.2" stroke-dasharray="4 2.6"/>
<text x="302.3" y="1221.6" font-size="44.8" fill="#000" text-anchor="middle" class="serif" >Indentation</text>
<text x="641.4" y="1221.6" font-size="44.8" fill="#000" text-anchor="middle" class="serif" >Sliding</text>
<line x1="150.3" y1="1248.7" x2="468.1" y2="1248.7" stroke="#000" stroke-width="1.5" stroke-dasharray="5.2 3.6"/>
<polygon points="144.3,1248.7 157.5,1242.1 152.8,1248.7 157.5,1255.3" fill="#000" stroke="none" stroke-width="1" />
<polygon points="474.1,1248.7 460.9,1242.1 465.6,1248.7 460.9,1255.3" fill="#000" stroke="none" stroke-width="1" />
<line x1="483.5" y1="1248.7" x2="797.5" y2="1248.7" stroke="#000" stroke-width="1.5" stroke-dasharray="5.2 3.6"/>
<polygon points="477.5,1248.7 490.7,1242.1 486,1248.7 490.7,1255.3" fill="#000" stroke="none" stroke-width="1" />
<polygon points="803.5,1248.7 790.3,1242.1 795,1248.7 790.3,1255.3" fill="#000" stroke="none" stroke-width="1" />
</g>
<g id="panelD">
<line x1="1017.7" y1="1280.6" x2="1698.3" y2="1280.6" stroke="#d6d6d6" stroke-width="2.25" />
<line x1="1085.8" y1="826.6" x2="1085.8" y2="1331" stroke="#d6d6d6" stroke-width="2.25" />
<line x1="1017.7" y1="1230.1" x2="1698.3" y2="1230.1" stroke="#d6d6d6" stroke-width="2.25" />
<line x1="1153.8" y1="826.6" x2="1153.8" y2="1331" stroke="#d6d6d6" stroke-width="2.25" />
<line x1="1017.7" y1="1179.7" x2="1698.3" y2="1179.7" stroke="#d6d6d6" stroke-width="2.25" />
<line x1="1221.9" y1="826.6" x2="1221.9" y2="1331" stroke="#d6d6d6" stroke-width="2.25" />
<line x1="1017.7" y1="1129.2" x2="1698.3" y2="1129.2" stroke="#d6d6d6" stroke-width="2.25" />
<line x1="1289.9" y1="826.6" x2="1289.9" y2="1331" stroke="#d6d6d6" stroke-width="2.25" />
<line x1="1017.7" y1="1078.8" x2="1698.3" y2="1078.8" stroke="#d6d6d6" stroke-width="2.25" />
<line x1="1358" y1="826.6" x2="1358" y2="1331" stroke="#d6d6d6" stroke-width="2.25" />
<line x1="1017.7" y1="1028.4" x2="1698.3" y2="1028.4" stroke="#d6d6d6" stroke-width="2.25" />
<line x1="1426.1" y1="826.6" x2="1426.1" y2="1331" stroke="#d6d6d6" stroke-width="2.25" />
<line x1="1017.7" y1="977.9" x2="1698.3" y2="977.9" stroke="#d6d6d6" stroke-width="2.25" />
<line x1="1494.1" y1="826.6" x2="1494.1" y2="1331" stroke="#d6d6d6" stroke-width="2.25" />
<line x1="1017.7" y1="927.5" x2="1698.3" y2="927.5" stroke="#d6d6d6" stroke-width="2.25" />
<line x1="1562.2" y1="826.6" x2="1562.2" y2="1331" stroke="#d6d6d6" stroke-width="2.25" />
<line x1="1017.7" y1="877" x2="1698.3" y2="877" stroke="#d6d6d6" stroke-width="2.25" />
<line x1="1630.2" y1="826.6" x2="1630.2" y2="1331" stroke="#d6d6d6" stroke-width="2.25" />
<rect x="1017.7" y="826.6" width="680.6" height="504.4" fill="none" stroke="#000" stroke-width="2.8"/>
<path d="M1017.7 1331 L1085.8 969.3 L1153.8 922.4 L1221.9 919.4 L1289.9 915.4 L1358 904.3 L1426.1 900.2 L1494.1 879.1 L1562.2 870.5 L1630.2 857.9 L1698.3 869" fill="none" stroke="#000" stroke-width="4.5" stroke-linejoin="round"/>
<polygon points="1017.7,1317 1031.7,1331 1017.7,1345 1003.7,1331" fill="#000" stroke="none" stroke-width="1" />
<polygon points="1085.8,955.3 1099.8,969.3 1085.8,983.3 1071.8,969.3" fill="#000" stroke="none" stroke-width="1" />
<polygon points="1153.8,908.4 1167.8,922.4 1153.8,936.4 1139.8,922.4" fill="#000" stroke="none" stroke-width="1" />
<polygon points="1221.9,905.4 1235.9,919.4 1221.9,933.4 1207.9,919.4" fill="#000" stroke="none" stroke-width="1" />
<polygon points="1289.9,901.4 1303.9,915.4 1289.9,929.4 1275.9,915.4" fill="#000" stroke="none" stroke-width="1" />
<polygon points="1358,890.3 1372,904.3 1358,918.3 1344,904.3" fill="#000" stroke="none" stroke-width="1" />
<polygon points="1426.1,886.2 1440.1,900.2 1426.1,914.2 1412.1,900.2" fill="#000" stroke="none" stroke-width="1" />
<polygon points="1494.1,865.1 1508.1,879.1 1494.1,893.1 1480.1,879.1" fill="#000" stroke="none" stroke-width="1" />
<polygon points="1562.2,856.5 1576.2,870.5 1562.2,884.5 1548.2,870.5" fill="#000" stroke="none" stroke-width="1" />
<polygon points="1630.2,843.9 1644.2,857.9 1630.2,871.9 1616.2,857.9" fill="#000" stroke="none" stroke-width="1" />
<polygon points="1698.3,855 1712.3,869 1698.3,883 1684.3,869" fill="#000" stroke="none" stroke-width="1" />
<text x="983.8" y="1343.4" font-size="37" fill="#595959" text-anchor="end" class="serif" >0</text>
<text x="1017.7" y="1384.7" font-size="37" fill="#595959" text-anchor="middle" class="serif" >0</text>
<text x="983.8" y="1293" font-size="37" fill="#595959" text-anchor="end" class="serif" >0.5</text>
<text x="1085.8" y="1384.7" font-size="37" fill="#595959" text-anchor="middle" class="serif" >0.5</text>
<text x="983.8" y="1242.5" font-size="37" fill="#595959" text-anchor="end" class="serif" >1</text>
<text x="1153.8" y="1384.7" font-size="37" fill="#595959" text-anchor="middle" class="serif" >1</text>
<text x="983.8" y="1192.1" font-size="37" fill="#595959" text-anchor="end" class="serif" >1.5</text>
<text x="1221.9" y="1384.7" font-size="37" fill="#595959" text-anchor="middle" class="serif" >1.5</text>
<text x="983.8" y="1141.6" font-size="37" fill="#595959" text-anchor="end" class="serif" >2</text>
<text x="1289.9" y="1384.7" font-size="37" fill="#595959" text-anchor="middle" class="serif" >2</text>
<text x="983.8" y="1091.2" font-size="37" fill="#595959" text-anchor="end" class="serif" >2.5</text>
<text x="1358" y="1384.7" font-size="37" fill="#595959" text-anchor="middle" class="serif" >2.5</text>
<text x="983.8" y="1040.8" font-size="37" fill="#595959" text-anchor="end" class="serif" >3</text>
<text x="1426.1" y="1384.7" font-size="37" fill="#595959" text-anchor="middle" class="serif" >3</text>
<text x="983.8" y="990.3" font-size="37" fill="#595959" text-anchor="end" class="serif" >3.5</text>
<text x="1494.1" y="1384.7" font-size="37" fill="#595959" text-anchor="middle" class="serif" >3.5</text>
<text x="983.8" y="939.9" font-size="37" fill="#595959" text-anchor="end" class="serif" >4</text>
<text x="1562.2" y="1384.7" font-size="37" fill="#595959" text-anchor="middle" class="serif" >4</text>
<text x="983.8" y="889.4" font-size="37" fill="#595959" text-anchor="end" class="serif" >4.5</text>
<text x="1630.2" y="1384.7" font-size="37" fill="#595959" text-anchor="middle" class="serif" >4.5</text>
<text x="983.8" y="839" font-size="37" fill="#595959" text-anchor="end" class="serif" >5</text>
<text x="1698.3" y="1384.7" font-size="37" fill="#595959" text-anchor="middle" class="serif" >5</text>
<text transform="translate(912.6,1076) rotate(-90)" font-size="46.2" fill="#595959" text-anchor="middle" class="serif">Deflection [mm]</text>
<text x="1366.3" y="1435" font-size="45.2" fill="#595959" text-anchor="middle" class="serif" >Contact indentation [mm]</text>
</g>
<text x="2.4" y="33.9" font-size="44" fill="#000" text-anchor="start" class="bold" >A</text>
<text x="877.4" y="33.9" font-size="44" fill="#000" text-anchor="start" class="bold" >B</text>
<text x="3" y="826.9" font-size="44" fill="#000" text-anchor="start" class="bold" >C</text>
<text x="877.4" y="827" font-size="44" fill="#000" text-anchor="start" class="bold" >D</text>
</svg></body></html>
